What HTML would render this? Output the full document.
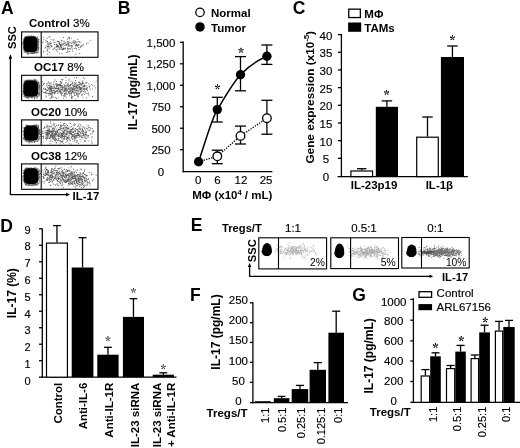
<!DOCTYPE html>
<html><head><meta charset="utf-8"><style>
html,body{margin:0;padding:0;background:#fff;width:520px;height:448px;overflow:hidden}
svg{display:block;filter:grayscale(1) blur(0.3px)}
text{font-family:"Liberation Sans", sans-serif}
</style></head><body>
<svg width="520" height="448" viewBox="0 0 520 448" font-family='"Liberation Sans", sans-serif'>
<defs><filter id="bl" x="-30%" y="-30%" width="160%" height="160%"><feGaussianBlur stdDeviation="0.7"/></filter><filter id="bd" x="-5%" y="-20%" width="110%" height="140%"><feGaussianBlur stdDeviation="0.3"/></filter></defs>
<rect width="520" height="448" fill="#fff"/>
<text x="1.0" y="13.9" font-size="17.5" font-weight="bold" text-anchor="start" fill="#000">A</text>
<text x="29.0" y="27.3" font-size="11.5"><tspan font-weight="bold">Control</tspan><tspan stroke="#000" stroke-width="0.15"> 3%</tspan></text>
<text x="34.0" y="71.0" font-size="11.5"><tspan font-weight="bold">OC17</tspan><tspan stroke="#000" stroke-width="0.15"> 8%</tspan></text>
<text x="31.0" y="116.4" font-size="11.5"><tspan font-weight="bold">OC20</tspan><tspan stroke="#000" stroke-width="0.15"> 10%</tspan></text>
<text x="31.0" y="160.1" font-size="11.5"><tspan font-weight="bold">OC38</tspan><tspan stroke="#000" stroke-width="0.15"> 12%</tspan></text>
<rect x="21.60" y="31.90" width="76.40" height="25.40" fill="#fff" stroke="#000" stroke-width="1.1"/>
<rect x="23.6" y="36.5" width="14.10" height="15.80" rx="4.41" fill="#000" filter="url(#bl)"/>
<path d="M24.6 37.7h0.9v0.9h-0.9zM31.9 36.0h0.9v0.9h-0.9zM28.2 52.8h0.9v0.9h-0.9zM38.4 44.7h0.9v0.9h-0.9zM32.9 36.2h0.9v0.9h-0.9zM28.2 52.4h0.9v0.9h-0.9zM30.4 52.8h0.9v0.9h-0.9zM23.3 44.2h0.9v0.9h-0.9zM37.9 44.2h0.9v0.9h-0.9zM24.0 37.3h0.9v0.9h-0.9zM32.2 52.3h0.9v0.9h-0.9zM24.2 38.3h0.9v0.9h-0.9zM37.7 46.2h0.9v0.9h-0.9zM23.4 46.2h0.9v0.9h-0.9zM24.9 37.6h0.9v0.9h-0.9zM23.4 44.6h0.9v0.9h-0.9zM33.5 52.7h0.9v0.9h-0.9zM33.0 52.7h0.9v0.9h-0.9zM38.2 44.6h0.9v0.9h-0.9zM35.2 51.9h0.9v0.9h-0.9zM36.7 38.0h0.9v0.9h-0.9zM35.3 37.0h0.9v0.9h-0.9zM30.2 35.6h0.9v0.9h-0.9zM23.6 42.3h0.9v0.9h-0.9zM37.3 36.6h0.9v0.9h-0.9zM23.4 38.7h0.9v0.9h-0.9zM24.1 50.7h0.9v0.9h-0.9zM35.7 52.2h0.9v0.9h-0.9zM24.3 51.1h0.9v0.9h-0.9zM23.5 39.4h0.9v0.9h-0.9zM25.1 37.1h0.9v0.9h-0.9zM35.9 52.5h0.9v0.9h-0.9zM31.1 52.3h0.9v0.9h-0.9zM37.9 50.0h0.9v0.9h-0.9zM32.3 52.7h0.9v0.9h-0.9zM28.0 53.5h0.9v0.9h-0.9zM26.5 36.8h0.9v0.9h-0.9zM35.4 36.5h0.9v0.9h-0.9zM37.5 39.1h0.9v0.9h-0.9zM36.3 52.5h0.9v0.9h-0.9zM37.7 40.6h0.9v0.9h-0.9zM33.9 52.2h0.9v0.9h-0.9zM25.0 36.6h0.9v0.9h-0.9zM24.5 51.1h0.9v0.9h-0.9zM31.1 52.6h0.9v0.9h-0.9zM36.9 37.5h0.9v0.9h-0.9zM23.1 41.8h0.9v0.9h-0.9zM30.7 36.2h0.9v0.9h-0.9zM24.7 51.3h0.9v0.9h-0.9zM37.6 52.0h0.9v0.9h-0.9zM25.9 36.4h0.9v0.9h-0.9zM22.3 43.0h0.9v0.9h-0.9zM25.9 52.2h0.9v0.9h-0.9zM27.5 36.4h0.9v0.9h-0.9zM23.5 43.4h0.9v0.9h-0.9zM37.7 39.4h0.9v0.9h-0.9zM37.6 40.9h0.9v0.9h-0.9zM30.8 35.9h0.9v0.9h-0.9zM36.4 51.9h0.9v0.9h-0.9zM33.7 36.6h0.9v0.9h-0.9zM24.6 37.4h0.9v0.9h-0.9zM22.5 43.7h0.9v0.9h-0.9zM31.7 52.4h0.9v0.9h-0.9zM24.9 51.9h0.9v0.9h-0.9zM25.8 52.3h0.9v0.9h-0.9zM23.3 40.3h0.9v0.9h-0.9zM29.6 53.2h0.9v0.9h-0.9zM22.9 47.6h0.9v0.9h-0.9zM23.5 43.6h0.9v0.9h-0.9zM37.7 38.4h0.9v0.9h-0.9zM23.5 40.0h0.9v0.9h-0.9zM37.0 37.6h0.9v0.9h-0.9zM38.2 39.9h0.9v0.9h-0.9zM23.7 48.1h0.9v0.9h-0.9zM37.6 41.9h0.9v0.9h-0.9zM33.3 36.4h0.9v0.9h-0.9zM29.2 36.6h0.9v0.9h-0.9zM26.7 52.2h0.9v0.9h-0.9zM32.9 52.7h0.9v0.9h-0.9zM32.4 52.6h0.9v0.9h-0.9zM35.0 36.7h0.9v0.9h-0.9zM22.8 45.5h0.9v0.9h-0.9zM26.1 36.5h0.9v0.9h-0.9zM38.1 42.4h0.9v0.9h-0.9zM24.9 37.7h0.9v0.9h-0.9zM33.8 52.4h0.9v0.9h-0.9zM23.8 49.1h0.9v0.9h-0.9zM34.0 35.9h0.9v0.9h-0.9zM37.2 50.7h0.9v0.9h-0.9zM33.0 36.6h0.9v0.9h-0.9zM23.4 43.2h0.9v0.9h-0.9zM37.8 46.8h0.9v0.9h-0.9zM37.6 45.4h0.9v0.9h-0.9zM30.7 52.6h0.9v0.9h-0.9zM23.4 40.8h0.9v0.9h-0.9zM23.4 39.2h0.9v0.9h-0.9zM27.3 36.6h0.9v0.9h-0.9zM27.7 52.7h0.9v0.9h-0.9zM23.1 42.3h0.9v0.9h-0.9zM25.7 36.0h0.9v0.9h-0.9zM33.5 52.7h0.9v0.9h-0.9zM38.1 46.5h0.9v0.9h-0.9zM38.5 42.2h0.9v0.9h-0.9zM38.6 47.3h0.9v0.9h-0.9zM27.2 52.8h0.9v0.9h-0.9zM24.4 37.3h0.9v0.9h-0.9zM27.2 53.5h0.9v0.9h-0.9zM32.8 36.6h0.9v0.9h-0.9zM31.4 36.6h0.9v0.9h-0.9zM33.3 53.2h0.9v0.9h-0.9zM24.9 36.8h0.9v0.9h-0.9zM37.6 49.7h0.9v0.9h-0.9zM24.9 37.3h0.9v0.9h-0.9zM33.2 36.2h0.9v0.9h-0.9zM29.3 36.0h0.9v0.9h-0.9zM37.5 38.3h0.9v0.9h-0.9zM37.8 45.8h0.9v0.9h-0.9zM32.4 53.1h0.9v0.9h-0.9zM37.7 41.6h0.9v0.9h-0.9zM30.5 53.1h0.9v0.9h-0.9zM26.0 36.5h0.9v0.9h-0.9zM24.5 50.8h0.9v0.9h-0.9zM26.1 36.1h0.9v0.9h-0.9zM23.6 52.1h0.9v0.9h-0.9zM22.5 42.1h0.9v0.9h-0.9zM30.8 52.6h0.9v0.9h-0.9zM22.9 46.8h0.9v0.9h-0.9zM30.8 35.8h0.9v0.9h-0.9zM28.2 52.9h0.9v0.9h-0.9zM31.2 36.6h0.9v0.9h-0.9zM36.2 51.3h0.9v0.9h-0.9zM37.8 48.9h0.9v0.9h-0.9zM29.7 52.9h0.9v0.9h-0.9zM34.8 36.4h0.9v0.9h-0.9zM33.8 53.0h0.9v0.9h-0.9zM36.8 38.2h0.9v0.9h-0.9zM28.6 35.5h0.9v0.9h-0.9zM29.6 36.3h0.9v0.9h-0.9zM34.3 36.5h0.9v0.9h-0.9zM24.8 51.3h0.9v0.9h-0.9zM23.6 43.5h0.9v0.9h-0.9zM33.4 52.3h0.9v0.9h-0.9zM23.0 42.4h0.9v0.9h-0.9zM37.2 38.9h0.9v0.9h-0.9zM33.8 52.5h0.9v0.9h-0.9zM24.8 36.1h0.9v0.9h-0.9zM38.2 44.2h0.9v0.9h-0.9zM35.3 36.5h0.9v0.9h-0.9zM24.1 50.1h0.9v0.9h-0.9zM33.7 52.3h0.9v0.9h-0.9zM31.0 35.6h0.9v0.9h-0.9zM23.7 47.2h0.9v0.9h-0.9zM23.5 48.8h0.9v0.9h-0.9zM35.3 36.6h0.9v0.9h-0.9zM24.2 50.6h0.9v0.9h-0.9zM29.4 36.6h0.9v0.9h-0.9zM34.6 36.5h0.9v0.9h-0.9zM24.3 50.5h0.9v0.9h-0.9zM31.2 35.6h0.9v0.9h-0.9zM35.9 52.2h0.9v0.9h-0.9zM34.4 36.2h0.9v0.9h-0.9zM37.3 51.6h0.9v0.9h-0.9zM37.8 43.8h0.9v0.9h-0.9zM23.7 40.4h0.9v0.9h-0.9zM30.7 36.0h0.9v0.9h-0.9zM38.6 39.1h0.9v0.9h-0.9zM31.5 36.5h0.9v0.9h-0.9zM23.5 45.7h0.9v0.9h-0.9zM27.4 52.8h0.9v0.9h-0.9zM29.2 36.0h0.9v0.9h-0.9zM38.5 47.7h0.9v0.9h-0.9zM37.3 38.2h0.9v0.9h-0.9zM30.8 52.3h0.9v0.9h-0.9zM31.8 53.1h0.9v0.9h-0.9zM22.8 44.2h0.9v0.9h-0.9zM34.4 52.7h0.9v0.9h-0.9zM23.4 45.2h0.9v0.9h-0.9zM26.8 36.6h0.9v0.9h-0.9zM23.5 43.0h0.9v0.9h-0.9zM23.6 43.6h0.9v0.9h-0.9zM23.6 42.6h0.9v0.9h-0.9zM32.8 35.4h0.9v0.9h-0.9zM33.9 52.1h0.9v0.9h-0.9zM37.1 50.6h0.9v0.9h-0.9zM38.4 41.1h0.9v0.9h-0.9zM38.0 42.8h0.9v0.9h-0.9zM22.7 44.0h0.9v0.9h-0.9zM37.8 39.7h0.9v0.9h-0.9zM27.1 53.6h0.9v0.9h-0.9zM38.0 48.0h0.9v0.9h-0.9zM23.6 46.1h0.9v0.9h-0.9zM31.2 35.9h0.9v0.9h-0.9zM31.2 35.9h0.9v0.9h-0.9zM35.8 36.4h0.9v0.9h-0.9zM30.0 36.3h0.9v0.9h-0.9zM34.6 52.1h0.9v0.9h-0.9zM34.7 52.2h0.9v0.9h-0.9zM23.2 38.6h0.9v0.9h-0.9zM37.7 41.1h0.9v0.9h-0.9zM23.1 43.6h0.9v0.9h-0.9zM38.1 42.6h0.9v0.9h-0.9zM33.2 36.4h0.9v0.9h-0.9zM33.2 36.0h0.9v0.9h-0.9zM25.1 36.5h0.9v0.9h-0.9zM23.3 48.1h0.9v0.9h-0.9zM27.6 35.4h0.9v0.9h-0.9zM26.4 52.3h0.9v0.9h-0.9zM32.5 52.4h0.9v0.9h-0.9zM31.6 35.9h0.9v0.9h-0.9zM29.7 36.5h0.9v0.9h-0.9zM38.0 42.2h0.9v0.9h-0.9zM23.0 49.9h0.9v0.9h-0.9zM23.1 43.2h0.9v0.9h-0.9zM38.0 49.3h0.9v0.9h-0.9zM23.1 41.2h0.9v0.9h-0.9zM37.9 46.5h0.9v0.9h-0.9zM24.8 37.3h0.9v0.9h-0.9zM37.7 48.4h0.9v0.9h-0.9zM32.0 53.0h0.9v0.9h-0.9zM37.1 37.5h0.9v0.9h-0.9z" fill="#000" fill-opacity="0.6"/>
<path d="M57.2 40.7h0.9v0.9h-0.9zM68.8 44.7h0.9v0.9h-0.9zM75.5 48.0h0.9v0.9h-0.9zM75.1 41.3h0.9v0.9h-0.9zM83.0 43.9h0.9v0.9h-0.9zM61.1 47.2h0.9v0.9h-0.9zM67.4 40.9h0.9v0.9h-0.9zM81.1 45.5h0.9v0.9h-0.9zM67.8 41.0h0.9v0.9h-0.9zM62.2 48.9h0.9v0.9h-0.9zM59.2 53.1h0.9v0.9h-0.9zM66.4 52.1h0.9v0.9h-0.9zM54.1 44.0h0.9v0.9h-0.9zM62.6 47.5h0.9v0.9h-0.9zM50.5 45.2h0.9v0.9h-0.9zM64.1 45.2h0.9v0.9h-0.9zM67.4 50.4h0.9v0.9h-0.9zM61.4 40.1h0.9v0.9h-0.9zM57.2 48.6h0.9v0.9h-0.9zM76.9 44.6h0.9v0.9h-0.9zM56.0 49.9h0.9v0.9h-0.9zM76.9 45.5h0.9v0.9h-0.9zM67.8 42.4h0.9v0.9h-0.9zM58.3 45.8h0.9v0.9h-0.9zM64.5 47.4h0.9v0.9h-0.9zM50.9 44.9h0.9v0.9h-0.9zM57.9 46.6h0.9v0.9h-0.9zM71.3 42.9h0.9v0.9h-0.9zM63.1 37.1h0.9v0.9h-0.9zM63.0 48.0h0.9v0.9h-0.9zM71.4 47.3h0.9v0.9h-0.9zM60.4 45.3h0.9v0.9h-0.9zM59.8 45.0h0.9v0.9h-0.9zM57.3 48.5h0.9v0.9h-0.9zM63.3 43.2h0.9v0.9h-0.9zM59.3 42.3h0.9v0.9h-0.9zM54.0 44.1h0.9v0.9h-0.9zM63.1 49.1h0.9v0.9h-0.9zM90.3 39.8h0.9v0.9h-0.9zM55.5 49.1h0.9v0.9h-0.9zM58.3 42.5h0.9v0.9h-0.9zM63.4 40.8h0.9v0.9h-0.9zM67.4 49.3h0.9v0.9h-0.9zM81.5 44.5h0.9v0.9h-0.9zM73.5 40.1h0.9v0.9h-0.9zM67.2 43.5h0.9v0.9h-0.9zM62.2 48.2h0.9v0.9h-0.9zM78.7 49.1h0.9v0.9h-0.9zM65.2 43.3h0.9v0.9h-0.9zM58.5 46.3h0.9v0.9h-0.9zM49.8 47.4h0.9v0.9h-0.9zM74.2 42.5h0.9v0.9h-0.9zM57.4 46.1h0.9v0.9h-0.9zM65.2 44.7h0.9v0.9h-0.9zM49.4 42.9h0.9v0.9h-0.9zM50.7 43.0h0.9v0.9h-0.9zM75.6 45.0h0.9v0.9h-0.9zM70.1 44.9h0.9v0.9h-0.9zM59.4 42.8h0.9v0.9h-0.9zM68.6 43.3h0.9v0.9h-0.9zM58.8 48.8h0.9v0.9h-0.9zM45.9 45.6h0.9v0.9h-0.9zM69.7 48.0h0.9v0.9h-0.9zM52.5 49.1h0.9v0.9h-0.9zM61.0 46.9h0.9v0.9h-0.9zM79.3 53.0h0.9v0.9h-0.9zM71.9 41.8h0.9v0.9h-0.9zM65.9 43.7h0.9v0.9h-0.9zM67.4 51.5h0.9v0.9h-0.9zM57.5 50.9h0.9v0.9h-0.9zM46.6 37.8h0.9v0.9h-0.9zM58.6 41.3h0.9v0.9h-0.9zM54.6 47.2h0.9v0.9h-0.9zM59.6 47.6h0.9v0.9h-0.9zM59.0 47.5h0.9v0.9h-0.9zM66.4 44.5h0.9v0.9h-0.9zM51.7 46.4h0.9v0.9h-0.9zM60.8 47.2h0.9v0.9h-0.9zM60.2 44.5h0.9v0.9h-0.9zM63.7 48.5h0.9v0.9h-0.9zM42.9 36.7h0.9v0.9h-0.9zM78.5 47.1h0.9v0.9h-0.9zM63.6 41.1h0.9v0.9h-0.9zM64.9 48.3h0.9v0.9h-0.9zM59.8 44.0h0.9v0.9h-0.9zM50.0 41.6h0.9v0.9h-0.9zM55.8 46.1h0.9v0.9h-0.9zM79.0 41.5h0.9v0.9h-0.9zM69.3 41.5h0.9v0.9h-0.9zM50.7 39.2h0.9v0.9h-0.9zM47.5 44.7h0.9v0.9h-0.9zM56.0 46.6h0.9v0.9h-0.9zM69.5 48.5h0.9v0.9h-0.9zM61.2 44.3h0.9v0.9h-0.9zM71.8 48.6h0.9v0.9h-0.9zM65.8 44.9h0.9v0.9h-0.9zM77.8 44.5h0.9v0.9h-0.9zM71.3 46.9h0.9v0.9h-0.9zM69.8 48.6h0.9v0.9h-0.9zM59.0 43.6h0.9v0.9h-0.9zM56.8 43.9h0.9v0.9h-0.9zM54.2 44.2h0.9v0.9h-0.9zM60.6 45.1h0.9v0.9h-0.9zM53.7 41.6h0.9v0.9h-0.9zM61.2 48.5h0.9v0.9h-0.9zM67.6 43.4h0.9v0.9h-0.9zM56.7 46.5h0.9v0.9h-0.9zM45.6 41.8h0.9v0.9h-0.9zM50.7 46.1h0.9v0.9h-0.9zM51.6 46.2h0.9v0.9h-0.9zM86.1 43.3h0.9v0.9h-0.9zM47.3 46.1h0.9v0.9h-0.9zM47.3 51.2h0.9v0.9h-0.9zM64.4 48.3h0.9v0.9h-0.9zM47.6 42.4h0.9v0.9h-0.9zM67.5 43.4h0.9v0.9h-0.9zM57.5 45.0h0.9v0.9h-0.9zM71.1 45.0h0.9v0.9h-0.9zM47.3 43.8h0.9v0.9h-0.9zM68.9 38.3h0.9v0.9h-0.9zM54.0 44.0h0.9v0.9h-0.9zM48.6 36.8h0.9v0.9h-0.9zM71.6 46.1h0.9v0.9h-0.9zM42.3 42.2h0.9v0.9h-0.9zM74.0 42.2h0.9v0.9h-0.9zM78.0 44.0h0.9v0.9h-0.9zM69.6 45.8h0.9v0.9h-0.9zM53.7 39.6h0.9v0.9h-0.9zM66.9 38.5h0.9v0.9h-0.9zM57.9 41.0h0.9v0.9h-0.9zM68.0 37.4h0.9v0.9h-0.9zM47.1 41.3h0.9v0.9h-0.9zM72.2 50.5h0.9v0.9h-0.9zM78.1 41.0h0.9v0.9h-0.9zM44.9 47.1h0.9v0.9h-0.9zM45.5 39.9h0.9v0.9h-0.9zM48.7 45.9h0.9v0.9h-0.9zM73.4 43.6h0.9v0.9h-0.9zM78.7 44.6h0.9v0.9h-0.9zM80.2 46.8h0.9v0.9h-0.9zM69.2 51.1h0.9v0.9h-0.9zM68.2 45.5h0.9v0.9h-0.9zM74.6 45.2h0.9v0.9h-0.9zM66.7 41.3h0.9v0.9h-0.9zM80.2 46.9h0.9v0.9h-0.9zM67.9 43.9h0.9v0.9h-0.9zM48.8 47.8h0.9v0.9h-0.9zM61.6 44.6h0.9v0.9h-0.9zM43.4 51.1h0.9v0.9h-0.9zM71.1 37.7h0.9v0.9h-0.9zM62.2 43.7h0.9v0.9h-0.9zM67.3 48.0h0.9v0.9h-0.9zM75.2 43.5h0.9v0.9h-0.9zM65.1 41.9h0.9v0.9h-0.9zM47.6 43.8h0.9v0.9h-0.9zM45.4 39.8h0.9v0.9h-0.9zM48.3 45.2h0.9v0.9h-0.9zM47.0 53.6h0.9v0.9h-0.9zM55.4 48.9h0.9v0.9h-0.9zM56.9 40.8h0.9v0.9h-0.9zM80.2 41.7h0.9v0.9h-0.9zM50.4 43.3h0.9v0.9h-0.9zM76.2 48.4h0.9v0.9h-0.9zM73.4 41.8h0.9v0.9h-0.9zM87.6 42.3h0.9v0.9h-0.9zM53.5 48.0h0.9v0.9h-0.9zM68.1 43.5h0.9v0.9h-0.9zM56.8 40.8h0.9v0.9h-0.9zM43.4 39.2h0.9v0.9h-0.9zM70.4 42.3h0.9v0.9h-0.9zM68.6 36.8h0.9v0.9h-0.9zM46.8 47.5h0.9v0.9h-0.9zM48.8 42.5h0.9v0.9h-0.9zM75.4 46.5h0.9v0.9h-0.9zM43.2 51.5h0.9v0.9h-0.9zM62.1 49.0h0.9v0.9h-0.9zM46.6 40.7h0.9v0.9h-0.9zM74.1 47.9h0.9v0.9h-0.9zM47.3 49.0h0.9v0.9h-0.9zM53.7 42.1h0.9v0.9h-0.9zM42.9 41.4h0.9v0.9h-0.9zM67.8 44.4h0.9v0.9h-0.9zM77.3 39.0h0.9v0.9h-0.9zM46.6 50.1h0.9v0.9h-0.9zM49.4 36.1h0.9v0.9h-0.9zM74.7 40.8h0.9v0.9h-0.9zM63.0 43.8h0.9v0.9h-0.9zM49.4 44.0h0.9v0.9h-0.9zM62.6 45.4h0.9v0.9h-0.9zM67.6 45.8h0.9v0.9h-0.9zM76.1 44.0h0.9v0.9h-0.9zM60.3 48.9h0.9v0.9h-0.9zM68.9 37.1h0.9v0.9h-0.9zM71.6 44.8h0.9v0.9h-0.9zM67.6 42.2h0.9v0.9h-0.9zM56.8 45.3h0.9v0.9h-0.9zM82.5 45.6h0.9v0.9h-0.9zM73.0 41.5h0.9v0.9h-0.9zM55.4 42.5h0.9v0.9h-0.9zM44.5 47.7h0.9v0.9h-0.9zM80.3 46.1h0.9v0.9h-0.9zM75.7 42.4h0.9v0.9h-0.9zM48.9 52.1h0.9v0.9h-0.9zM61.6 53.1h0.9v0.9h-0.9zM52.6 39.5h0.9v0.9h-0.9zM61.0 45.9h0.9v0.9h-0.9zM75.5 53.8h0.9v0.9h-0.9zM66.7 47.6h0.9v0.9h-0.9zM56.0 45.6h0.9v0.9h-0.9zM59.1 44.1h0.9v0.9h-0.9zM56.2 44.0h0.9v0.9h-0.9zM64.2 42.8h0.9v0.9h-0.9zM54.1 47.5h0.9v0.9h-0.9zM47.5 43.4h0.9v0.9h-0.9zM61.5 43.2h0.9v0.9h-0.9zM60.7 40.5h0.9v0.9h-0.9zM66.0 44.6h0.9v0.9h-0.9zM76.7 41.6h0.9v0.9h-0.9zM56.1 44.1h0.9v0.9h-0.9zM68.3 48.6h0.9v0.9h-0.9zM60.1 46.1h0.9v0.9h-0.9zM48.2 46.6h0.9v0.9h-0.9zM47.1 46.1h0.9v0.9h-0.9zM76.5 45.0h0.9v0.9h-0.9zM60.4 44.3h0.9v0.9h-0.9z" fill="#000" fill-opacity="0.66" filter="url(#bd)"/>
<line x1="41.2" y1="31.9" x2="41.2" y2="57.3" stroke="#000" stroke-width="1.1"/>
<rect x="21.60" y="75.30" width="76.40" height="25.30" fill="#fff" stroke="#000" stroke-width="1.1"/>
<rect x="23.5" y="80.39999999999999" width="14.80" height="16.40" rx="4.62" fill="#000" filter="url(#bl)"/>
<path d="M25.9 80.4h0.9v0.9h-0.9zM38.8 93.9h0.9v0.9h-0.9zM37.6 81.6h0.9v0.9h-0.9zM38.6 91.6h0.9v0.9h-0.9zM24.0 95.3h0.9v0.9h-0.9zM23.4 83.5h0.9v0.9h-0.9zM26.3 96.9h0.9v0.9h-0.9zM24.3 82.3h0.9v0.9h-0.9zM28.7 80.1h0.9v0.9h-0.9zM34.2 80.1h0.9v0.9h-0.9zM38.4 86.7h0.9v0.9h-0.9zM37.2 95.8h0.9v0.9h-0.9zM28.2 98.3h0.9v0.9h-0.9zM24.2 82.5h0.9v0.9h-0.9zM38.4 93.6h0.9v0.9h-0.9zM38.8 92.4h0.9v0.9h-0.9zM37.6 81.4h0.9v0.9h-0.9zM37.0 95.6h0.9v0.9h-0.9zM23.1 89.7h0.9v0.9h-0.9zM23.8 93.7h0.9v0.9h-0.9zM38.6 83.6h0.9v0.9h-0.9zM35.6 96.9h0.9v0.9h-0.9zM23.0 89.0h0.9v0.9h-0.9zM38.0 93.4h0.9v0.9h-0.9zM38.2 83.8h0.9v0.9h-0.9zM30.3 97.0h0.9v0.9h-0.9zM27.4 96.7h0.9v0.9h-0.9zM38.7 93.7h0.9v0.9h-0.9zM39.3 94.0h0.9v0.9h-0.9zM28.8 96.8h0.9v0.9h-0.9zM38.1 82.3h0.9v0.9h-0.9zM30.6 96.7h0.9v0.9h-0.9zM23.3 95.8h0.9v0.9h-0.9zM31.6 79.9h0.9v0.9h-0.9zM28.6 80.4h0.9v0.9h-0.9zM38.8 86.8h0.9v0.9h-0.9zM37.0 80.8h0.9v0.9h-0.9zM25.0 96.7h0.9v0.9h-0.9zM29.8 80.4h0.9v0.9h-0.9zM24.0 95.4h0.9v0.9h-0.9zM23.5 85.4h0.9v0.9h-0.9zM38.4 85.8h0.9v0.9h-0.9zM38.6 88.6h0.9v0.9h-0.9zM24.8 96.4h0.9v0.9h-0.9zM37.4 96.0h0.9v0.9h-0.9zM34.0 96.7h0.9v0.9h-0.9zM38.0 82.1h0.9v0.9h-0.9zM27.0 80.5h0.9v0.9h-0.9zM39.0 94.4h0.9v0.9h-0.9zM22.7 88.4h0.9v0.9h-0.9zM25.7 79.9h0.9v0.9h-0.9zM39.0 91.3h0.9v0.9h-0.9zM38.6 82.2h0.9v0.9h-0.9zM22.8 86.7h0.9v0.9h-0.9zM38.6 85.2h0.9v0.9h-0.9zM23.7 93.7h0.9v0.9h-0.9zM29.3 79.7h0.9v0.9h-0.9zM30.2 79.7h0.9v0.9h-0.9zM38.5 92.9h0.9v0.9h-0.9zM38.3 87.2h0.9v0.9h-0.9zM32.1 80.3h0.9v0.9h-0.9zM23.4 90.7h0.9v0.9h-0.9zM23.6 81.5h0.9v0.9h-0.9zM27.8 80.4h0.9v0.9h-0.9zM29.1 79.8h0.9v0.9h-0.9zM22.3 94.3h0.9v0.9h-0.9zM23.3 88.9h0.9v0.9h-0.9zM31.3 96.8h0.9v0.9h-0.9zM23.3 91.9h0.9v0.9h-0.9zM35.9 79.4h0.9v0.9h-0.9zM25.7 97.1h0.9v0.9h-0.9zM38.1 83.0h0.9v0.9h-0.9zM23.1 85.5h0.9v0.9h-0.9zM25.5 80.4h0.9v0.9h-0.9zM36.8 96.4h0.9v0.9h-0.9zM26.6 80.5h0.9v0.9h-0.9zM23.8 79.7h0.9v0.9h-0.9zM26.7 97.5h0.9v0.9h-0.9zM30.2 96.8h0.9v0.9h-0.9zM27.3 80.0h0.9v0.9h-0.9zM38.4 91.9h0.9v0.9h-0.9zM33.9 80.2h0.9v0.9h-0.9zM27.3 97.0h0.9v0.9h-0.9zM38.3 93.3h0.9v0.9h-0.9zM22.8 84.0h0.9v0.9h-0.9zM22.7 91.7h0.9v0.9h-0.9zM29.6 79.5h0.9v0.9h-0.9zM30.7 79.9h0.9v0.9h-0.9zM38.3 93.6h0.9v0.9h-0.9zM24.1 81.3h0.9v0.9h-0.9zM37.6 82.3h0.9v0.9h-0.9zM31.9 80.4h0.9v0.9h-0.9zM28.4 80.5h0.9v0.9h-0.9zM26.9 97.7h0.9v0.9h-0.9zM23.0 86.9h0.9v0.9h-0.9zM24.9 80.8h0.9v0.9h-0.9zM24.0 95.4h0.9v0.9h-0.9zM25.7 97.0h0.9v0.9h-0.9zM23.2 90.8h0.9v0.9h-0.9zM39.8 89.7h0.9v0.9h-0.9zM32.3 96.8h0.9v0.9h-0.9zM38.3 92.7h0.9v0.9h-0.9zM38.4 82.0h0.9v0.9h-0.9zM38.7 95.3h0.9v0.9h-0.9zM37.1 95.6h0.9v0.9h-0.9zM37.6 95.8h0.9v0.9h-0.9zM23.1 88.9h0.9v0.9h-0.9zM27.4 97.0h0.9v0.9h-0.9zM29.0 79.6h0.9v0.9h-0.9zM25.2 96.0h0.9v0.9h-0.9zM36.8 96.5h0.9v0.9h-0.9zM23.4 92.3h0.9v0.9h-0.9zM34.8 79.8h0.9v0.9h-0.9zM37.0 96.2h0.9v0.9h-0.9zM34.6 79.8h0.9v0.9h-0.9zM23.3 81.5h0.9v0.9h-0.9zM39.2 87.7h0.9v0.9h-0.9zM25.5 80.9h0.9v0.9h-0.9zM24.2 96.5h0.9v0.9h-0.9zM38.7 84.3h0.9v0.9h-0.9zM23.9 94.5h0.9v0.9h-0.9zM28.3 80.3h0.9v0.9h-0.9zM33.4 79.6h0.9v0.9h-0.9zM26.3 80.6h0.9v0.9h-0.9zM23.0 90.6h0.9v0.9h-0.9zM23.6 94.2h0.9v0.9h-0.9zM34.0 97.0h0.9v0.9h-0.9zM22.5 90.8h0.9v0.9h-0.9zM33.4 80.3h0.9v0.9h-0.9zM39.5 85.2h0.9v0.9h-0.9zM25.4 80.6h0.9v0.9h-0.9zM35.1 79.2h0.9v0.9h-0.9zM30.7 79.8h0.9v0.9h-0.9zM35.2 79.9h0.9v0.9h-0.9zM27.0 80.6h0.9v0.9h-0.9zM26.3 96.8h0.9v0.9h-0.9zM36.6 97.9h0.9v0.9h-0.9zM24.7 96.1h0.9v0.9h-0.9zM36.4 80.5h0.9v0.9h-0.9zM27.1 79.6h0.9v0.9h-0.9zM32.4 96.7h0.9v0.9h-0.9zM38.0 93.8h0.9v0.9h-0.9zM39.2 85.6h0.9v0.9h-0.9zM31.3 79.9h0.9v0.9h-0.9zM23.5 88.1h0.9v0.9h-0.9zM22.8 92.1h0.9v0.9h-0.9zM22.8 88.3h0.9v0.9h-0.9zM28.1 96.9h0.9v0.9h-0.9zM39.0 87.9h0.9v0.9h-0.9zM32.0 97.6h0.9v0.9h-0.9zM37.2 96.9h0.9v0.9h-0.9zM36.2 80.9h0.9v0.9h-0.9zM23.0 92.9h0.9v0.9h-0.9zM38.5 95.2h0.9v0.9h-0.9zM25.7 96.5h0.9v0.9h-0.9zM38.5 84.2h0.9v0.9h-0.9zM36.4 96.6h0.9v0.9h-0.9zM35.5 96.6h0.9v0.9h-0.9zM38.5 85.5h0.9v0.9h-0.9zM34.2 97.8h0.9v0.9h-0.9zM25.4 80.0h0.9v0.9h-0.9zM38.8 89.2h0.9v0.9h-0.9zM30.6 97.0h0.9v0.9h-0.9zM23.1 89.2h0.9v0.9h-0.9zM23.1 91.0h0.9v0.9h-0.9zM38.7 88.1h0.9v0.9h-0.9zM39.0 92.8h0.9v0.9h-0.9zM31.7 97.7h0.9v0.9h-0.9zM34.1 98.5h0.9v0.9h-0.9zM39.2 86.2h0.9v0.9h-0.9zM36.1 81.0h0.9v0.9h-0.9zM27.7 96.7h0.9v0.9h-0.9zM23.2 91.9h0.9v0.9h-0.9zM23.6 92.9h0.9v0.9h-0.9zM38.1 92.7h0.9v0.9h-0.9zM23.1 89.7h0.9v0.9h-0.9zM24.9 79.9h0.9v0.9h-0.9zM38.4 95.1h0.9v0.9h-0.9zM27.9 97.0h0.9v0.9h-0.9zM31.2 79.8h0.9v0.9h-0.9zM27.5 80.3h0.9v0.9h-0.9zM28.5 97.2h0.9v0.9h-0.9zM38.4 84.3h0.9v0.9h-0.9zM25.8 96.4h0.9v0.9h-0.9zM24.6 80.9h0.9v0.9h-0.9zM26.1 96.9h0.9v0.9h-0.9zM38.3 88.7h0.9v0.9h-0.9zM36.3 80.5h0.9v0.9h-0.9zM24.9 96.0h0.9v0.9h-0.9zM26.2 80.3h0.9v0.9h-0.9zM23.9 94.1h0.9v0.9h-0.9zM27.5 79.5h0.9v0.9h-0.9zM34.3 97.8h0.9v0.9h-0.9zM22.7 90.5h0.9v0.9h-0.9zM23.1 86.7h0.9v0.9h-0.9zM31.6 97.5h0.9v0.9h-0.9zM34.1 97.8h0.9v0.9h-0.9zM23.3 93.5h0.9v0.9h-0.9zM25.0 96.3h0.9v0.9h-0.9zM38.8 89.8h0.9v0.9h-0.9zM33.8 80.1h0.9v0.9h-0.9zM23.5 91.9h0.9v0.9h-0.9zM22.7 86.1h0.9v0.9h-0.9zM36.9 80.5h0.9v0.9h-0.9zM27.3 96.8h0.9v0.9h-0.9zM37.8 82.1h0.9v0.9h-0.9zM25.6 79.8h0.9v0.9h-0.9zM33.8 78.5h0.9v0.9h-0.9zM23.0 89.2h0.9v0.9h-0.9zM23.5 90.6h0.9v0.9h-0.9zM22.8 89.7h0.9v0.9h-0.9zM31.8 79.5h0.9v0.9h-0.9zM36.5 96.2h0.9v0.9h-0.9zM24.2 95.2h0.9v0.9h-0.9zM38.8 86.2h0.9v0.9h-0.9zM39.0 86.7h0.9v0.9h-0.9zM27.3 80.6h0.9v0.9h-0.9zM24.8 95.5h0.9v0.9h-0.9zM35.2 80.4h0.9v0.9h-0.9zM38.8 93.3h0.9v0.9h-0.9z" fill="#000" fill-opacity="0.6"/>
<path d="M55.6 83.3h0.9v0.9h-0.9zM74.9 86.4h0.9v0.9h-0.9zM50.0 87.5h0.9v0.9h-0.9zM47.4 90.1h0.9v0.9h-0.9zM84.9 90.9h0.9v0.9h-0.9zM83.8 89.5h0.9v0.9h-0.9zM73.8 89.5h0.9v0.9h-0.9zM70.4 84.1h0.9v0.9h-0.9zM61.2 79.0h0.9v0.9h-0.9zM84.1 86.2h0.9v0.9h-0.9zM81.0 84.3h0.9v0.9h-0.9zM68.9 85.6h0.9v0.9h-0.9zM59.9 87.3h0.9v0.9h-0.9zM43.8 83.0h0.9v0.9h-0.9zM66.7 83.6h0.9v0.9h-0.9zM56.9 88.1h0.9v0.9h-0.9zM45.2 89.0h0.9v0.9h-0.9zM56.6 85.6h0.9v0.9h-0.9zM54.0 90.7h0.9v0.9h-0.9zM54.4 87.5h0.9v0.9h-0.9zM57.1 84.0h0.9v0.9h-0.9zM60.8 88.7h0.9v0.9h-0.9zM52.8 96.8h0.9v0.9h-0.9zM77.8 85.5h0.9v0.9h-0.9zM66.7 93.6h0.9v0.9h-0.9zM51.3 94.6h0.9v0.9h-0.9zM74.6 95.1h0.9v0.9h-0.9zM62.1 84.9h0.9v0.9h-0.9zM58.1 97.4h0.9v0.9h-0.9zM72.0 89.0h0.9v0.9h-0.9zM76.4 87.4h0.9v0.9h-0.9zM79.6 87.5h0.9v0.9h-0.9zM71.8 91.1h0.9v0.9h-0.9zM71.4 88.7h0.9v0.9h-0.9zM70.5 87.7h0.9v0.9h-0.9zM51.6 94.1h0.9v0.9h-0.9zM83.4 85.3h0.9v0.9h-0.9zM58.1 83.9h0.9v0.9h-0.9zM53.5 92.0h0.9v0.9h-0.9zM54.0 93.3h0.9v0.9h-0.9zM75.9 93.3h0.9v0.9h-0.9zM72.3 90.6h0.9v0.9h-0.9zM77.7 96.3h0.9v0.9h-0.9zM46.4 83.0h0.9v0.9h-0.9zM72.0 89.5h0.9v0.9h-0.9zM87.1 87.3h0.9v0.9h-0.9zM42.1 81.5h0.9v0.9h-0.9zM50.6 85.4h0.9v0.9h-0.9zM51.5 93.5h0.9v0.9h-0.9zM68.2 86.4h0.9v0.9h-0.9zM46.3 85.3h0.9v0.9h-0.9zM61.5 92.3h0.9v0.9h-0.9zM51.9 92.9h0.9v0.9h-0.9zM65.1 92.8h0.9v0.9h-0.9zM69.2 85.0h0.9v0.9h-0.9zM86.4 88.2h0.9v0.9h-0.9zM49.6 93.0h0.9v0.9h-0.9zM79.2 85.6h0.9v0.9h-0.9zM76.8 85.2h0.9v0.9h-0.9zM69.5 92.1h0.9v0.9h-0.9zM45.6 95.4h0.9v0.9h-0.9zM83.5 83.4h0.9v0.9h-0.9zM65.4 77.1h0.9v0.9h-0.9zM65.4 82.1h0.9v0.9h-0.9zM53.1 84.0h0.9v0.9h-0.9zM68.2 87.9h0.9v0.9h-0.9zM67.9 91.2h0.9v0.9h-0.9zM51.8 87.9h0.9v0.9h-0.9zM56.1 85.4h0.9v0.9h-0.9zM64.0 89.2h0.9v0.9h-0.9zM78.3 84.3h0.9v0.9h-0.9zM64.9 88.3h0.9v0.9h-0.9zM49.1 85.7h0.9v0.9h-0.9zM60.1 92.1h0.9v0.9h-0.9zM55.9 84.8h0.9v0.9h-0.9zM90.9 84.1h0.9v0.9h-0.9zM61.7 86.6h0.9v0.9h-0.9zM60.1 81.3h0.9v0.9h-0.9zM58.8 85.3h0.9v0.9h-0.9zM42.2 85.3h0.9v0.9h-0.9zM79.8 92.4h0.9v0.9h-0.9zM89.1 86.6h0.9v0.9h-0.9zM48.0 85.0h0.9v0.9h-0.9zM61.3 82.6h0.9v0.9h-0.9zM50.5 83.3h0.9v0.9h-0.9zM50.4 88.2h0.9v0.9h-0.9zM72.9 87.6h0.9v0.9h-0.9zM74.1 93.5h0.9v0.9h-0.9zM73.1 85.7h0.9v0.9h-0.9zM82.5 93.2h0.9v0.9h-0.9zM48.6 88.5h0.9v0.9h-0.9zM62.1 79.7h0.9v0.9h-0.9zM80.2 82.8h0.9v0.9h-0.9zM71.1 91.8h0.9v0.9h-0.9zM65.0 94.7h0.9v0.9h-0.9zM76.6 89.4h0.9v0.9h-0.9zM42.9 91.9h0.9v0.9h-0.9zM60.9 86.7h0.9v0.9h-0.9zM51.9 86.9h0.9v0.9h-0.9zM94.0 85.6h0.9v0.9h-0.9zM60.9 92.8h0.9v0.9h-0.9zM46.4 90.0h0.9v0.9h-0.9zM65.1 87.5h0.9v0.9h-0.9zM75.7 87.1h0.9v0.9h-0.9zM58.4 90.9h0.9v0.9h-0.9zM74.8 89.9h0.9v0.9h-0.9zM58.4 84.8h0.9v0.9h-0.9zM72.4 96.1h0.9v0.9h-0.9zM47.1 89.6h0.9v0.9h-0.9zM82.4 88.5h0.9v0.9h-0.9zM51.6 95.0h0.9v0.9h-0.9zM70.5 93.0h0.9v0.9h-0.9zM72.1 88.1h0.9v0.9h-0.9zM50.3 90.9h0.9v0.9h-0.9zM55.3 83.8h0.9v0.9h-0.9zM79.0 85.7h0.9v0.9h-0.9zM68.7 78.6h0.9v0.9h-0.9zM70.5 93.9h0.9v0.9h-0.9zM75.0 80.1h0.9v0.9h-0.9zM63.5 91.5h0.9v0.9h-0.9zM66.8 84.8h0.9v0.9h-0.9zM59.5 84.2h0.9v0.9h-0.9zM58.6 87.6h0.9v0.9h-0.9zM61.9 89.7h0.9v0.9h-0.9zM49.3 91.2h0.9v0.9h-0.9zM51.4 96.3h0.9v0.9h-0.9zM57.3 90.1h0.9v0.9h-0.9zM53.4 92.4h0.9v0.9h-0.9zM82.8 85.9h0.9v0.9h-0.9zM48.9 91.6h0.9v0.9h-0.9zM51.3 89.2h0.9v0.9h-0.9zM67.3 86.5h0.9v0.9h-0.9zM56.6 88.1h0.9v0.9h-0.9zM51.0 88.2h0.9v0.9h-0.9zM58.0 89.3h0.9v0.9h-0.9zM69.3 90.3h0.9v0.9h-0.9zM76.2 86.3h0.9v0.9h-0.9zM92.2 85.2h0.9v0.9h-0.9zM72.2 91.8h0.9v0.9h-0.9zM60.5 81.0h0.9v0.9h-0.9zM61.3 85.8h0.9v0.9h-0.9zM62.7 95.3h0.9v0.9h-0.9zM82.4 85.5h0.9v0.9h-0.9zM50.9 91.5h0.9v0.9h-0.9zM53.7 81.2h0.9v0.9h-0.9zM76.0 77.1h0.9v0.9h-0.9zM61.0 94.8h0.9v0.9h-0.9zM81.4 95.4h0.9v0.9h-0.9zM65.8 92.5h0.9v0.9h-0.9zM66.0 87.5h0.9v0.9h-0.9zM53.5 90.1h0.9v0.9h-0.9zM81.2 84.6h0.9v0.9h-0.9zM44.4 92.1h0.9v0.9h-0.9zM59.1 83.6h0.9v0.9h-0.9zM78.3 87.3h0.9v0.9h-0.9zM85.6 92.9h0.9v0.9h-0.9zM83.7 83.6h0.9v0.9h-0.9zM79.8 86.9h0.9v0.9h-0.9zM51.2 89.2h0.9v0.9h-0.9zM63.9 93.6h0.9v0.9h-0.9zM86.5 81.8h0.9v0.9h-0.9zM50.0 88.3h0.9v0.9h-0.9zM59.4 85.1h0.9v0.9h-0.9zM50.8 85.6h0.9v0.9h-0.9zM43.7 88.8h0.9v0.9h-0.9zM64.8 85.4h0.9v0.9h-0.9zM44.5 92.7h0.9v0.9h-0.9zM79.8 85.4h0.9v0.9h-0.9zM68.9 92.8h0.9v0.9h-0.9zM65.9 88.3h0.9v0.9h-0.9zM80.1 92.3h0.9v0.9h-0.9zM83.0 86.1h0.9v0.9h-0.9zM56.8 86.3h0.9v0.9h-0.9zM80.8 83.4h0.9v0.9h-0.9zM83.1 91.0h0.9v0.9h-0.9zM73.0 92.6h0.9v0.9h-0.9zM63.3 97.8h0.9v0.9h-0.9zM83.9 94.2h0.9v0.9h-0.9zM81.2 89.6h0.9v0.9h-0.9zM55.0 87.6h0.9v0.9h-0.9zM56.0 90.2h0.9v0.9h-0.9zM79.9 88.4h0.9v0.9h-0.9zM71.1 94.9h0.9v0.9h-0.9zM61.3 92.7h0.9v0.9h-0.9zM73.8 84.8h0.9v0.9h-0.9zM59.9 85.5h0.9v0.9h-0.9zM81.5 94.5h0.9v0.9h-0.9zM70.5 89.9h0.9v0.9h-0.9zM54.4 87.5h0.9v0.9h-0.9zM48.6 93.7h0.9v0.9h-0.9zM57.9 86.8h0.9v0.9h-0.9zM79.5 87.3h0.9v0.9h-0.9zM46.7 86.5h0.9v0.9h-0.9zM65.7 79.9h0.9v0.9h-0.9zM87.8 92.3h0.9v0.9h-0.9zM43.1 83.2h0.9v0.9h-0.9zM50.8 86.0h0.9v0.9h-0.9zM72.1 85.2h0.9v0.9h-0.9zM46.5 91.7h0.9v0.9h-0.9zM76.6 88.2h0.9v0.9h-0.9zM84.4 88.6h0.9v0.9h-0.9zM55.9 81.1h0.9v0.9h-0.9zM83.6 88.1h0.9v0.9h-0.9zM72.3 82.0h0.9v0.9h-0.9zM70.9 89.9h0.9v0.9h-0.9zM52.8 90.1h0.9v0.9h-0.9zM43.3 88.4h0.9v0.9h-0.9zM51.4 97.5h0.9v0.9h-0.9zM55.7 90.8h0.9v0.9h-0.9zM56.4 91.1h0.9v0.9h-0.9zM85.9 89.1h0.9v0.9h-0.9zM85.1 87.7h0.9v0.9h-0.9zM60.5 92.8h0.9v0.9h-0.9zM77.1 93.3h0.9v0.9h-0.9zM72.3 82.8h0.9v0.9h-0.9zM50.7 93.1h0.9v0.9h-0.9zM56.7 90.8h0.9v0.9h-0.9zM78.6 92.7h0.9v0.9h-0.9zM66.8 90.6h0.9v0.9h-0.9zM75.4 83.0h0.9v0.9h-0.9zM88.4 83.3h0.9v0.9h-0.9zM50.8 96.5h0.9v0.9h-0.9zM79.6 89.6h0.9v0.9h-0.9zM47.7 82.3h0.9v0.9h-0.9zM75.9 90.0h0.9v0.9h-0.9zM77.7 86.9h0.9v0.9h-0.9zM82.6 80.4h0.9v0.9h-0.9zM84.0 78.4h0.9v0.9h-0.9zM78.8 81.4h0.9v0.9h-0.9zM87.2 89.7h0.9v0.9h-0.9zM54.5 88.3h0.9v0.9h-0.9zM65.9 87.4h0.9v0.9h-0.9zM51.0 89.8h0.9v0.9h-0.9zM51.7 91.1h0.9v0.9h-0.9zM61.5 79.2h0.9v0.9h-0.9zM76.4 87.2h0.9v0.9h-0.9zM75.5 84.9h0.9v0.9h-0.9zM89.0 86.1h0.9v0.9h-0.9zM49.3 88.0h0.9v0.9h-0.9zM60.0 87.3h0.9v0.9h-0.9zM81.9 82.1h0.9v0.9h-0.9zM74.2 86.4h0.9v0.9h-0.9zM70.9 97.4h0.9v0.9h-0.9zM55.7 83.9h0.9v0.9h-0.9zM59.8 81.1h0.9v0.9h-0.9zM74.0 89.7h0.9v0.9h-0.9zM63.1 91.1h0.9v0.9h-0.9zM77.4 90.5h0.9v0.9h-0.9zM79.6 83.6h0.9v0.9h-0.9zM62.0 92.9h0.9v0.9h-0.9zM84.1 85.0h0.9v0.9h-0.9zM56.8 83.5h0.9v0.9h-0.9zM76.1 85.8h0.9v0.9h-0.9zM74.4 88.0h0.9v0.9h-0.9zM58.5 91.6h0.9v0.9h-0.9zM64.6 91.2h0.9v0.9h-0.9zM64.6 88.4h0.9v0.9h-0.9zM67.9 92.6h0.9v0.9h-0.9zM50.5 88.9h0.9v0.9h-0.9zM85.3 92.4h0.9v0.9h-0.9zM81.7 82.3h0.9v0.9h-0.9zM48.3 81.6h0.9v0.9h-0.9zM65.3 82.4h0.9v0.9h-0.9zM51.1 87.2h0.9v0.9h-0.9zM81.2 88.1h0.9v0.9h-0.9zM49.8 86.4h0.9v0.9h-0.9zM75.3 86.5h0.9v0.9h-0.9zM76.0 94.6h0.9v0.9h-0.9zM74.1 77.4h0.9v0.9h-0.9zM44.9 92.4h0.9v0.9h-0.9zM75.5 98.6h0.9v0.9h-0.9zM72.8 88.6h0.9v0.9h-0.9zM84.0 88.4h0.9v0.9h-0.9zM52.8 91.7h0.9v0.9h-0.9zM77.5 96.5h0.9v0.9h-0.9zM74.8 83.3h0.9v0.9h-0.9zM58.1 88.9h0.9v0.9h-0.9zM65.5 87.7h0.9v0.9h-0.9zM68.2 91.0h0.9v0.9h-0.9zM47.8 89.2h0.9v0.9h-0.9zM55.3 91.4h0.9v0.9h-0.9zM64.2 86.6h0.9v0.9h-0.9zM53.8 88.7h0.9v0.9h-0.9zM85.2 85.6h0.9v0.9h-0.9zM67.8 85.6h0.9v0.9h-0.9zM67.8 87.9h0.9v0.9h-0.9zM57.5 87.9h0.9v0.9h-0.9zM60.4 83.3h0.9v0.9h-0.9zM77.9 95.4h0.9v0.9h-0.9zM65.2 87.9h0.9v0.9h-0.9zM65.7 82.4h0.9v0.9h-0.9zM51.7 93.3h0.9v0.9h-0.9zM64.6 85.2h0.9v0.9h-0.9zM72.5 90.7h0.9v0.9h-0.9zM55.8 88.4h0.9v0.9h-0.9zM66.3 89.6h0.9v0.9h-0.9zM65.2 89.3h0.9v0.9h-0.9zM51.2 86.0h0.9v0.9h-0.9zM89.7 88.7h0.9v0.9h-0.9zM65.9 97.4h0.9v0.9h-0.9zM62.9 78.7h0.9v0.9h-0.9zM86.1 88.8h0.9v0.9h-0.9zM73.0 90.4h0.9v0.9h-0.9zM76.3 83.9h0.9v0.9h-0.9zM85.6 82.5h0.9v0.9h-0.9zM49.9 98.0h0.9v0.9h-0.9zM71.4 86.9h0.9v0.9h-0.9zM72.3 97.6h0.9v0.9h-0.9zM80.5 90.9h0.9v0.9h-0.9zM67.4 88.8h0.9v0.9h-0.9zM66.1 90.6h0.9v0.9h-0.9zM60.2 91.3h0.9v0.9h-0.9zM61.3 93.7h0.9v0.9h-0.9zM62.6 90.4h0.9v0.9h-0.9zM85.8 89.1h0.9v0.9h-0.9zM79.2 89.3h0.9v0.9h-0.9zM77.6 94.4h0.9v0.9h-0.9zM74.3 92.1h0.9v0.9h-0.9zM42.9 84.1h0.9v0.9h-0.9zM74.3 85.7h0.9v0.9h-0.9zM64.1 90.0h0.9v0.9h-0.9zM73.4 85.8h0.9v0.9h-0.9zM61.4 86.8h0.9v0.9h-0.9zM63.8 84.3h0.9v0.9h-0.9zM79.5 87.3h0.9v0.9h-0.9zM45.6 90.4h0.9v0.9h-0.9zM60.1 92.9h0.9v0.9h-0.9zM62.6 88.5h0.9v0.9h-0.9zM86.2 97.6h0.9v0.9h-0.9zM57.9 88.2h0.9v0.9h-0.9zM54.7 92.9h0.9v0.9h-0.9zM59.6 90.7h0.9v0.9h-0.9zM72.9 86.3h0.9v0.9h-0.9zM83.7 87.8h0.9v0.9h-0.9zM86.2 89.3h0.9v0.9h-0.9zM55.3 97.0h0.9v0.9h-0.9zM82.3 82.4h0.9v0.9h-0.9zM71.2 96.9h0.9v0.9h-0.9zM50.2 87.4h0.9v0.9h-0.9zM84.1 91.7h0.9v0.9h-0.9zM83.1 77.3h0.9v0.9h-0.9zM58.7 89.1h0.9v0.9h-0.9zM82.4 87.0h0.9v0.9h-0.9zM45.1 91.5h0.9v0.9h-0.9zM61.6 88.9h0.9v0.9h-0.9zM79.3 83.5h0.9v0.9h-0.9zM49.3 92.7h0.9v0.9h-0.9zM71.9 91.6h0.9v0.9h-0.9zM63.4 91.1h0.9v0.9h-0.9zM59.9 92.9h0.9v0.9h-0.9zM71.2 93.3h0.9v0.9h-0.9zM64.6 88.4h0.9v0.9h-0.9zM50.6 82.5h0.9v0.9h-0.9zM53.4 82.4h0.9v0.9h-0.9zM76.3 94.4h0.9v0.9h-0.9zM72.5 91.6h0.9v0.9h-0.9zM83.5 88.9h0.9v0.9h-0.9zM73.9 86.6h0.9v0.9h-0.9zM50.3 88.6h0.9v0.9h-0.9zM69.0 88.6h0.9v0.9h-0.9zM48.7 87.0h0.9v0.9h-0.9zM77.1 85.4h0.9v0.9h-0.9zM56.1 98.0h0.9v0.9h-0.9zM50.0 89.5h0.9v0.9h-0.9zM65.9 85.8h0.9v0.9h-0.9zM49.4 82.8h0.9v0.9h-0.9zM61.3 85.3h0.9v0.9h-0.9zM77.5 91.7h0.9v0.9h-0.9zM69.5 91.8h0.9v0.9h-0.9zM77.0 87.5h0.9v0.9h-0.9zM92.2 88.7h0.9v0.9h-0.9zM69.5 87.2h0.9v0.9h-0.9zM79.6 83.6h0.9v0.9h-0.9zM64.8 94.2h0.9v0.9h-0.9zM70.6 90.1h0.9v0.9h-0.9zM64.1 85.2h0.9v0.9h-0.9zM83.5 87.9h0.9v0.9h-0.9zM70.1 92.4h0.9v0.9h-0.9zM71.4 87.4h0.9v0.9h-0.9zM75.5 82.4h0.9v0.9h-0.9zM59.9 84.3h0.9v0.9h-0.9zM82.7 88.9h0.9v0.9h-0.9zM55.4 88.1h0.9v0.9h-0.9zM46.9 92.9h0.9v0.9h-0.9zM60.4 92.9h0.9v0.9h-0.9zM86.9 89.9h0.9v0.9h-0.9zM45.1 88.6h0.9v0.9h-0.9zM50.1 87.4h0.9v0.9h-0.9zM69.3 90.9h0.9v0.9h-0.9zM70.4 92.5h0.9v0.9h-0.9zM80.8 88.8h0.9v0.9h-0.9zM59.9 90.5h0.9v0.9h-0.9zM49.4 87.1h0.9v0.9h-0.9zM85.3 82.3h0.9v0.9h-0.9zM52.9 84.1h0.9v0.9h-0.9zM43.8 91.9h0.9v0.9h-0.9zM59.8 90.5h0.9v0.9h-0.9zM63.7 95.5h0.9v0.9h-0.9zM83.0 88.7h0.9v0.9h-0.9zM76.0 92.3h0.9v0.9h-0.9zM64.5 94.3h0.9v0.9h-0.9zM64.2 92.9h0.9v0.9h-0.9zM73.0 85.8h0.9v0.9h-0.9zM78.6 87.7h0.9v0.9h-0.9zM66.0 89.1h0.9v0.9h-0.9zM46.7 84.2h0.9v0.9h-0.9zM60.7 90.6h0.9v0.9h-0.9zM77.4 93.0h0.9v0.9h-0.9zM73.2 86.4h0.9v0.9h-0.9zM82.7 97.2h0.9v0.9h-0.9zM47.4 87.2h0.9v0.9h-0.9zM94.8 87.6h0.9v0.9h-0.9zM61.7 87.5h0.9v0.9h-0.9zM77.8 85.4h0.9v0.9h-0.9zM76.1 90.3h0.9v0.9h-0.9zM65.5 88.6h0.9v0.9h-0.9zM77.7 95.8h0.9v0.9h-0.9zM55.9 91.2h0.9v0.9h-0.9zM78.0 90.9h0.9v0.9h-0.9zM54.9 87.5h0.9v0.9h-0.9zM74.0 82.3h0.9v0.9h-0.9zM64.2 88.1h0.9v0.9h-0.9zM55.7 84.8h0.9v0.9h-0.9zM49.5 92.7h0.9v0.9h-0.9zM69.3 88.4h0.9v0.9h-0.9zM51.6 95.8h0.9v0.9h-0.9zM75.1 91.7h0.9v0.9h-0.9zM54.5 92.2h0.9v0.9h-0.9zM46.5 89.5h0.9v0.9h-0.9zM80.2 89.4h0.9v0.9h-0.9zM59.3 91.4h0.9v0.9h-0.9zM65.0 92.6h0.9v0.9h-0.9zM48.9 85.4h0.9v0.9h-0.9zM55.1 90.7h0.9v0.9h-0.9zM70.1 88.1h0.9v0.9h-0.9zM88.8 85.5h0.9v0.9h-0.9zM79.0 82.1h0.9v0.9h-0.9zM69.2 93.7h0.9v0.9h-0.9zM62.5 88.8h0.9v0.9h-0.9zM57.3 89.8h0.9v0.9h-0.9zM45.7 96.6h0.9v0.9h-0.9zM81.3 84.6h0.9v0.9h-0.9zM48.1 93.1h0.9v0.9h-0.9zM74.6 91.2h0.9v0.9h-0.9zM66.9 90.3h0.9v0.9h-0.9zM49.8 90.6h0.9v0.9h-0.9zM52.5 88.4h0.9v0.9h-0.9zM77.5 95.5h0.9v0.9h-0.9zM69.9 91.2h0.9v0.9h-0.9zM59.5 90.0h0.9v0.9h-0.9zM81.6 94.0h0.9v0.9h-0.9zM57.2 92.5h0.9v0.9h-0.9zM56.1 90.5h0.9v0.9h-0.9zM49.5 90.0h0.9v0.9h-0.9zM71.0 96.2h0.9v0.9h-0.9zM42.2 90.8h0.9v0.9h-0.9zM52.8 88.1h0.9v0.9h-0.9zM77.1 84.7h0.9v0.9h-0.9zM63.5 87.0h0.9v0.9h-0.9zM74.4 83.9h0.9v0.9h-0.9zM68.5 89.0h0.9v0.9h-0.9zM69.8 89.6h0.9v0.9h-0.9zM54.7 79.5h0.9v0.9h-0.9zM75.5 88.6h0.9v0.9h-0.9zM54.4 91.4h0.9v0.9h-0.9zM49.6 89.2h0.9v0.9h-0.9zM55.7 84.3h0.9v0.9h-0.9zM50.1 94.1h0.9v0.9h-0.9zM50.8 85.4h0.9v0.9h-0.9zM82.6 83.1h0.9v0.9h-0.9zM79.0 83.8h0.9v0.9h-0.9zM55.6 88.4h0.9v0.9h-0.9zM64.8 92.8h0.9v0.9h-0.9zM48.7 93.6h0.9v0.9h-0.9zM59.0 89.4h0.9v0.9h-0.9zM82.0 83.3h0.9v0.9h-0.9zM85.8 85.6h0.9v0.9h-0.9zM49.3 84.6h0.9v0.9h-0.9zM85.9 87.7h0.9v0.9h-0.9zM95.7 80.7h0.9v0.9h-0.9zM60.3 89.0h0.9v0.9h-0.9zM81.3 91.3h0.9v0.9h-0.9zM74.3 87.9h0.9v0.9h-0.9zM65.0 90.5h0.9v0.9h-0.9zM63.6 84.4h0.9v0.9h-0.9zM78.2 82.1h0.9v0.9h-0.9zM84.3 85.7h0.9v0.9h-0.9zM49.7 93.6h0.9v0.9h-0.9zM65.5 93.0h0.9v0.9h-0.9zM88.0 93.8h0.9v0.9h-0.9zM80.8 87.1h0.9v0.9h-0.9zM48.5 95.2h0.9v0.9h-0.9zM78.0 90.6h0.9v0.9h-0.9zM79.0 86.5h0.9v0.9h-0.9zM52.0 92.0h0.9v0.9h-0.9zM70.3 85.1h0.9v0.9h-0.9zM67.8 84.4h0.9v0.9h-0.9zM61.0 82.1h0.9v0.9h-0.9zM76.6 89.6h0.9v0.9h-0.9zM83.4 88.3h0.9v0.9h-0.9zM70.7 88.2h0.9v0.9h-0.9zM70.0 86.7h0.9v0.9h-0.9zM51.6 94.8h0.9v0.9h-0.9zM52.3 86.6h0.9v0.9h-0.9zM72.5 85.3h0.9v0.9h-0.9zM78.4 94.0h0.9v0.9h-0.9zM74.0 94.8h0.9v0.9h-0.9zM64.7 90.0h0.9v0.9h-0.9zM71.5 80.8h0.9v0.9h-0.9zM65.3 85.9h0.9v0.9h-0.9zM79.7 91.2h0.9v0.9h-0.9zM73.9 88.6h0.9v0.9h-0.9zM69.2 95.3h0.9v0.9h-0.9zM67.8 82.5h0.9v0.9h-0.9zM68.0 91.5h0.9v0.9h-0.9zM50.1 85.7h0.9v0.9h-0.9zM45.1 88.2h0.9v0.9h-0.9zM46.2 93.0h0.9v0.9h-0.9zM77.6 85.7h0.9v0.9h-0.9zM73.8 82.3h0.9v0.9h-0.9zM71.2 83.6h0.9v0.9h-0.9zM56.0 85.8h0.9v0.9h-0.9zM66.3 93.8h0.9v0.9h-0.9zM81.4 94.4h0.9v0.9h-0.9zM71.0 89.7h0.9v0.9h-0.9zM76.4 83.9h0.9v0.9h-0.9zM58.4 88.0h0.9v0.9h-0.9zM53.8 85.5h0.9v0.9h-0.9zM63.7 94.9h0.9v0.9h-0.9zM76.3 89.9h0.9v0.9h-0.9zM64.8 90.7h0.9v0.9h-0.9zM54.0 86.7h0.9v0.9h-0.9zM68.1 79.7h0.9v0.9h-0.9zM59.6 85.1h0.9v0.9h-0.9zM59.4 83.6h0.9v0.9h-0.9zM51.3 90.1h0.9v0.9h-0.9zM80.1 88.9h0.9v0.9h-0.9zM60.5 85.0h0.9v0.9h-0.9zM62.1 86.8h0.9v0.9h-0.9zM88.6 95.4h0.9v0.9h-0.9zM69.7 84.3h0.9v0.9h-0.9zM77.1 84.5h0.9v0.9h-0.9zM56.1 87.5h0.9v0.9h-0.9zM75.9 85.4h0.9v0.9h-0.9zM62.9 86.6h0.9v0.9h-0.9zM81.5 90.8h0.9v0.9h-0.9zM92.0 96.1h0.9v0.9h-0.9zM69.4 80.7h0.9v0.9h-0.9zM89.7 88.4h0.9v0.9h-0.9zM61.9 88.7h0.9v0.9h-0.9zM78.6 88.1h0.9v0.9h-0.9zM43.4 87.7h0.9v0.9h-0.9zM79.8 87.0h0.9v0.9h-0.9zM79.2 92.9h0.9v0.9h-0.9zM53.5 86.5h0.9v0.9h-0.9zM48.1 87.9h0.9v0.9h-0.9zM74.6 88.5h0.9v0.9h-0.9zM72.8 89.0h0.9v0.9h-0.9zM51.1 87.7h0.9v0.9h-0.9zM87.2 92.9h0.9v0.9h-0.9zM61.8 88.5h0.9v0.9h-0.9zM77.8 89.3h0.9v0.9h-0.9zM84.5 88.3h0.9v0.9h-0.9zM67.7 84.1h0.9v0.9h-0.9zM57.5 84.8h0.9v0.9h-0.9zM43.0 83.9h0.9v0.9h-0.9zM64.3 85.4h0.9v0.9h-0.9zM80.0 83.8h0.9v0.9h-0.9zM81.3 89.5h0.9v0.9h-0.9zM54.0 90.8h0.9v0.9h-0.9zM81.7 80.8h0.9v0.9h-0.9zM64.6 95.9h0.9v0.9h-0.9zM82.8 88.6h0.9v0.9h-0.9zM80.6 88.0h0.9v0.9h-0.9zM57.4 93.2h0.9v0.9h-0.9zM83.3 88.8h0.9v0.9h-0.9zM74.5 85.8h0.9v0.9h-0.9zM71.2 98.2h0.9v0.9h-0.9zM72.4 83.8h0.9v0.9h-0.9z" fill="#000" fill-opacity="0.64" filter="url(#bd)"/>
<line x1="41.2" y1="75.3" x2="41.2" y2="100.6" stroke="#000" stroke-width="1.1"/>
<rect x="21.60" y="119.90" width="76.40" height="25.40" fill="#fff" stroke="#000" stroke-width="1.1"/>
<rect x="23.900000000000002" y="125.6" width="14.70" height="15.10" rx="4.59" fill="#000" filter="url(#bl)"/>
<path d="M30.7 141.1h0.9v0.9h-0.9zM38.3 137.9h0.9v0.9h-0.9zM22.5 131.1h0.9v0.9h-0.9zM34.0 125.7h0.9v0.9h-0.9zM38.5 129.8h0.9v0.9h-0.9zM38.7 129.7h0.9v0.9h-0.9zM24.6 139.3h0.9v0.9h-0.9zM23.4 133.8h0.9v0.9h-0.9zM28.2 125.5h0.9v0.9h-0.9zM25.0 126.9h0.9v0.9h-0.9zM32.1 125.4h0.9v0.9h-0.9zM30.6 141.1h0.9v0.9h-0.9zM36.9 124.8h0.9v0.9h-0.9zM35.4 140.7h0.9v0.9h-0.9zM39.1 128.9h0.9v0.9h-0.9zM30.2 140.7h0.9v0.9h-0.9zM38.6 134.0h0.9v0.9h-0.9zM29.0 125.3h0.9v0.9h-0.9zM34.1 125.4h0.9v0.9h-0.9zM37.4 140.5h0.9v0.9h-0.9zM24.6 139.9h0.9v0.9h-0.9zM26.1 140.5h0.9v0.9h-0.9zM38.1 127.8h0.9v0.9h-0.9zM39.1 133.4h0.9v0.9h-0.9zM38.7 132.9h0.9v0.9h-0.9zM24.0 127.0h0.9v0.9h-0.9zM35.6 125.3h0.9v0.9h-0.9zM23.3 127.8h0.9v0.9h-0.9zM32.9 140.7h0.9v0.9h-0.9zM23.3 127.4h0.9v0.9h-0.9zM29.1 141.0h0.9v0.9h-0.9zM36.6 140.7h0.9v0.9h-0.9zM32.2 125.7h0.9v0.9h-0.9zM23.8 131.4h0.9v0.9h-0.9zM38.1 138.8h0.9v0.9h-0.9zM30.2 141.0h0.9v0.9h-0.9zM39.4 132.4h0.9v0.9h-0.9zM26.3 140.8h0.9v0.9h-0.9zM24.1 138.2h0.9v0.9h-0.9zM38.1 125.3h0.9v0.9h-0.9zM23.8 137.9h0.9v0.9h-0.9zM38.9 131.6h0.9v0.9h-0.9zM23.3 138.3h0.9v0.9h-0.9zM36.8 125.2h0.9v0.9h-0.9zM39.4 131.5h0.9v0.9h-0.9zM25.8 124.7h0.9v0.9h-0.9zM32.9 140.7h0.9v0.9h-0.9zM38.5 130.3h0.9v0.9h-0.9zM38.5 128.6h0.9v0.9h-0.9zM26.9 141.3h0.9v0.9h-0.9zM39.1 132.5h0.9v0.9h-0.9zM36.9 126.2h0.9v0.9h-0.9zM38.5 130.8h0.9v0.9h-0.9zM30.6 140.7h0.9v0.9h-0.9zM35.7 140.5h0.9v0.9h-0.9zM38.7 134.4h0.9v0.9h-0.9zM24.1 128.3h0.9v0.9h-0.9zM39.3 133.8h0.9v0.9h-0.9zM37.8 139.8h0.9v0.9h-0.9zM38.6 134.4h0.9v0.9h-0.9zM24.1 138.3h0.9v0.9h-0.9zM27.5 140.8h0.9v0.9h-0.9zM26.8 141.3h0.9v0.9h-0.9zM30.1 141.0h0.9v0.9h-0.9zM38.8 137.7h0.9v0.9h-0.9zM24.1 137.1h0.9v0.9h-0.9zM36.4 124.9h0.9v0.9h-0.9zM23.7 137.4h0.9v0.9h-0.9zM35.6 125.1h0.9v0.9h-0.9zM35.3 125.5h0.9v0.9h-0.9zM30.5 140.9h0.9v0.9h-0.9zM33.1 125.3h0.9v0.9h-0.9zM32.4 141.2h0.9v0.9h-0.9zM24.5 127.2h0.9v0.9h-0.9zM38.1 126.7h0.9v0.9h-0.9zM23.6 136.3h0.9v0.9h-0.9zM26.7 125.7h0.9v0.9h-0.9zM28.2 125.5h0.9v0.9h-0.9zM28.9 125.7h0.9v0.9h-0.9zM31.1 140.8h0.9v0.9h-0.9zM39.5 129.3h0.9v0.9h-0.9zM24.3 127.6h0.9v0.9h-0.9zM37.9 139.9h0.9v0.9h-0.9zM24.4 138.9h0.9v0.9h-0.9zM38.4 137.8h0.9v0.9h-0.9zM33.3 125.2h0.9v0.9h-0.9zM28.2 141.2h0.9v0.9h-0.9zM23.1 130.9h0.9v0.9h-0.9zM23.1 138.4h0.9v0.9h-0.9zM24.4 138.9h0.9v0.9h-0.9zM32.1 125.0h0.9v0.9h-0.9zM37.7 126.8h0.9v0.9h-0.9zM33.8 140.8h0.9v0.9h-0.9zM39.2 131.5h0.9v0.9h-0.9zM24.6 126.4h0.9v0.9h-0.9zM39.2 132.7h0.9v0.9h-0.9zM23.6 130.1h0.9v0.9h-0.9zM34.4 125.0h0.9v0.9h-0.9zM24.7 139.0h0.9v0.9h-0.9zM38.6 132.2h0.9v0.9h-0.9zM29.7 140.7h0.9v0.9h-0.9zM34.2 124.4h0.9v0.9h-0.9zM24.0 129.6h0.9v0.9h-0.9zM26.6 125.7h0.9v0.9h-0.9zM23.7 129.0h0.9v0.9h-0.9zM37.7 127.1h0.9v0.9h-0.9zM23.6 133.8h0.9v0.9h-0.9zM28.5 125.1h0.9v0.9h-0.9zM38.7 131.3h0.9v0.9h-0.9zM37.9 139.0h0.9v0.9h-0.9zM35.0 125.7h0.9v0.9h-0.9zM30.4 141.5h0.9v0.9h-0.9zM25.1 140.7h0.9v0.9h-0.9zM32.9 125.2h0.9v0.9h-0.9zM24.1 137.2h0.9v0.9h-0.9zM37.1 139.8h0.9v0.9h-0.9zM23.9 129.1h0.9v0.9h-0.9zM27.2 125.8h0.9v0.9h-0.9zM24.0 129.3h0.9v0.9h-0.9zM39.1 131.1h0.9v0.9h-0.9zM26.4 140.4h0.9v0.9h-0.9zM24.7 127.0h0.9v0.9h-0.9zM24.0 136.1h0.9v0.9h-0.9zM23.9 135.2h0.9v0.9h-0.9zM24.2 137.7h0.9v0.9h-0.9zM28.8 142.6h0.9v0.9h-0.9zM23.7 132.5h0.9v0.9h-0.9zM29.3 125.5h0.9v0.9h-0.9zM25.9 125.7h0.9v0.9h-0.9zM39.3 129.7h0.9v0.9h-0.9zM34.0 125.5h0.9v0.9h-0.9zM23.6 139.1h0.9v0.9h-0.9zM26.3 125.6h0.9v0.9h-0.9zM38.2 126.2h0.9v0.9h-0.9zM23.9 133.0h0.9v0.9h-0.9zM38.7 137.5h0.9v0.9h-0.9zM39.1 132.8h0.9v0.9h-0.9zM37.8 139.2h0.9v0.9h-0.9zM26.4 140.5h0.9v0.9h-0.9zM23.7 136.7h0.9v0.9h-0.9zM23.5 132.3h0.9v0.9h-0.9zM38.4 139.1h0.9v0.9h-0.9zM39.3 130.5h0.9v0.9h-0.9zM39.2 130.4h0.9v0.9h-0.9zM25.6 126.2h0.9v0.9h-0.9zM39.0 138.2h0.9v0.9h-0.9zM24.0 136.0h0.9v0.9h-0.9zM29.0 141.0h0.9v0.9h-0.9zM28.1 141.0h0.9v0.9h-0.9zM28.0 141.3h0.9v0.9h-0.9zM23.7 133.8h0.9v0.9h-0.9zM40.2 135.6h0.9v0.9h-0.9zM23.9 136.7h0.9v0.9h-0.9zM38.7 133.5h0.9v0.9h-0.9zM38.4 138.4h0.9v0.9h-0.9zM23.4 138.1h0.9v0.9h-0.9zM28.4 125.2h0.9v0.9h-0.9zM25.3 140.4h0.9v0.9h-0.9zM24.0 135.4h0.9v0.9h-0.9zM38.9 137.7h0.9v0.9h-0.9zM23.1 134.4h0.9v0.9h-0.9zM28.7 125.5h0.9v0.9h-0.9zM29.4 125.5h0.9v0.9h-0.9zM23.7 134.2h0.9v0.9h-0.9zM33.8 141.9h0.9v0.9h-0.9zM23.7 129.1h0.9v0.9h-0.9zM32.4 125.4h0.9v0.9h-0.9zM36.1 140.8h0.9v0.9h-0.9zM40.1 134.0h0.9v0.9h-0.9zM30.6 140.6h0.9v0.9h-0.9zM23.5 133.4h0.9v0.9h-0.9zM23.7 136.4h0.9v0.9h-0.9zM38.9 130.6h0.9v0.9h-0.9zM31.9 141.5h0.9v0.9h-0.9zM23.6 138.1h0.9v0.9h-0.9zM23.4 132.9h0.9v0.9h-0.9zM38.5 128.4h0.9v0.9h-0.9zM34.8 125.4h0.9v0.9h-0.9zM38.2 126.8h0.9v0.9h-0.9zM35.3 141.2h0.9v0.9h-0.9zM31.4 141.2h0.9v0.9h-0.9zM28.6 125.6h0.9v0.9h-0.9zM26.6 124.8h0.9v0.9h-0.9zM38.9 136.3h0.9v0.9h-0.9zM34.0 141.0h0.9v0.9h-0.9zM23.2 137.4h0.9v0.9h-0.9zM33.9 142.0h0.9v0.9h-0.9zM24.3 138.2h0.9v0.9h-0.9zM24.0 134.7h0.9v0.9h-0.9zM31.7 125.0h0.9v0.9h-0.9zM25.4 140.6h0.9v0.9h-0.9zM29.1 141.5h0.9v0.9h-0.9zM25.3 140.5h0.9v0.9h-0.9zM23.0 134.6h0.9v0.9h-0.9zM37.3 126.4h0.9v0.9h-0.9zM38.6 138.3h0.9v0.9h-0.9zM31.0 140.9h0.9v0.9h-0.9zM23.8 134.1h0.9v0.9h-0.9zM36.6 140.9h0.9v0.9h-0.9zM23.6 136.9h0.9v0.9h-0.9zM24.0 134.6h0.9v0.9h-0.9zM22.7 137.5h0.9v0.9h-0.9zM26.4 140.7h0.9v0.9h-0.9zM31.4 141.9h0.9v0.9h-0.9zM26.4 140.6h0.9v0.9h-0.9zM36.2 125.9h0.9v0.9h-0.9zM25.6 140.1h0.9v0.9h-0.9zM35.8 124.1h0.9v0.9h-0.9zM26.9 125.3h0.9v0.9h-0.9zM24.5 138.9h0.9v0.9h-0.9zM23.6 126.9h0.9v0.9h-0.9zM25.0 140.1h0.9v0.9h-0.9zM38.8 131.3h0.9v0.9h-0.9zM38.7 136.9h0.9v0.9h-0.9zM38.7 130.3h0.9v0.9h-0.9zM25.7 126.1h0.9v0.9h-0.9zM23.2 130.4h0.9v0.9h-0.9zM25.7 124.3h0.9v0.9h-0.9zM26.5 126.0h0.9v0.9h-0.9zM38.6 137.0h0.9v0.9h-0.9z" fill="#000" fill-opacity="0.6"/>
<path d="M53.7 139.1h0.9v0.9h-0.9zM53.4 128.2h0.9v0.9h-0.9zM53.8 123.5h0.9v0.9h-0.9zM76.8 128.9h0.9v0.9h-0.9zM65.5 129.4h0.9v0.9h-0.9zM79.2 135.5h0.9v0.9h-0.9zM70.7 129.1h0.9v0.9h-0.9zM65.5 134.3h0.9v0.9h-0.9zM72.4 128.9h0.9v0.9h-0.9zM91.6 142.8h0.9v0.9h-0.9zM64.7 135.5h0.9v0.9h-0.9zM42.8 141.7h0.9v0.9h-0.9zM63.7 128.6h0.9v0.9h-0.9zM59.2 128.9h0.9v0.9h-0.9zM51.8 135.6h0.9v0.9h-0.9zM63.0 136.1h0.9v0.9h-0.9zM47.4 126.1h0.9v0.9h-0.9zM78.6 128.1h0.9v0.9h-0.9zM42.9 127.9h0.9v0.9h-0.9zM66.7 126.5h0.9v0.9h-0.9zM74.8 129.9h0.9v0.9h-0.9zM67.5 128.8h0.9v0.9h-0.9zM72.9 126.7h0.9v0.9h-0.9zM61.6 133.5h0.9v0.9h-0.9zM47.3 135.5h0.9v0.9h-0.9zM54.8 127.3h0.9v0.9h-0.9zM76.5 133.1h0.9v0.9h-0.9zM45.7 132.0h0.9v0.9h-0.9zM52.4 130.0h0.9v0.9h-0.9zM47.0 136.6h0.9v0.9h-0.9zM75.4 136.8h0.9v0.9h-0.9zM58.9 136.0h0.9v0.9h-0.9zM66.7 132.1h0.9v0.9h-0.9zM61.9 141.8h0.9v0.9h-0.9zM72.6 140.7h0.9v0.9h-0.9zM69.1 131.3h0.9v0.9h-0.9zM62.2 132.5h0.9v0.9h-0.9zM58.5 138.3h0.9v0.9h-0.9zM71.0 129.5h0.9v0.9h-0.9zM87.4 134.8h0.9v0.9h-0.9zM69.2 133.3h0.9v0.9h-0.9zM64.3 130.0h0.9v0.9h-0.9zM86.2 132.0h0.9v0.9h-0.9zM48.3 130.7h0.9v0.9h-0.9zM73.0 124.3h0.9v0.9h-0.9zM78.1 143.1h0.9v0.9h-0.9zM45.9 139.7h0.9v0.9h-0.9zM42.8 138.4h0.9v0.9h-0.9zM47.0 134.4h0.9v0.9h-0.9zM74.0 137.4h0.9v0.9h-0.9zM67.5 137.5h0.9v0.9h-0.9zM82.0 137.1h0.9v0.9h-0.9zM48.7 129.0h0.9v0.9h-0.9zM88.4 134.9h0.9v0.9h-0.9zM55.1 130.7h0.9v0.9h-0.9zM60.3 127.8h0.9v0.9h-0.9zM53.3 128.0h0.9v0.9h-0.9zM62.0 134.9h0.9v0.9h-0.9zM65.8 137.7h0.9v0.9h-0.9zM60.8 140.7h0.9v0.9h-0.9zM56.4 139.5h0.9v0.9h-0.9zM50.3 131.3h0.9v0.9h-0.9zM49.0 131.0h0.9v0.9h-0.9zM66.2 132.7h0.9v0.9h-0.9zM84.7 137.3h0.9v0.9h-0.9zM85.5 131.3h0.9v0.9h-0.9zM61.3 128.1h0.9v0.9h-0.9zM78.3 134.5h0.9v0.9h-0.9zM66.1 123.9h0.9v0.9h-0.9zM49.1 138.1h0.9v0.9h-0.9zM79.8 134.4h0.9v0.9h-0.9zM65.5 136.4h0.9v0.9h-0.9zM49.9 135.2h0.9v0.9h-0.9zM72.8 136.2h0.9v0.9h-0.9zM65.1 133.6h0.9v0.9h-0.9zM89.7 129.4h0.9v0.9h-0.9zM63.4 132.0h0.9v0.9h-0.9zM56.3 132.7h0.9v0.9h-0.9zM46.4 138.5h0.9v0.9h-0.9zM57.1 140.2h0.9v0.9h-0.9zM76.0 134.9h0.9v0.9h-0.9zM81.2 129.7h0.9v0.9h-0.9zM47.8 129.8h0.9v0.9h-0.9zM62.3 132.2h0.9v0.9h-0.9zM63.7 139.1h0.9v0.9h-0.9zM47.7 134.5h0.9v0.9h-0.9zM77.9 132.8h0.9v0.9h-0.9zM84.8 129.6h0.9v0.9h-0.9zM52.6 136.9h0.9v0.9h-0.9zM72.6 134.3h0.9v0.9h-0.9zM69.8 132.8h0.9v0.9h-0.9zM51.3 133.5h0.9v0.9h-0.9zM88.3 140.4h0.9v0.9h-0.9zM77.2 132.3h0.9v0.9h-0.9zM67.4 140.4h0.9v0.9h-0.9zM53.8 138.5h0.9v0.9h-0.9zM45.6 133.2h0.9v0.9h-0.9zM46.7 136.9h0.9v0.9h-0.9zM84.9 132.5h0.9v0.9h-0.9zM82.0 129.4h0.9v0.9h-0.9zM43.6 131.8h0.9v0.9h-0.9zM71.1 129.0h0.9v0.9h-0.9zM62.2 135.3h0.9v0.9h-0.9zM74.5 133.1h0.9v0.9h-0.9zM72.1 135.5h0.9v0.9h-0.9zM76.6 136.6h0.9v0.9h-0.9zM51.1 134.4h0.9v0.9h-0.9zM60.0 125.1h0.9v0.9h-0.9zM69.5 133.7h0.9v0.9h-0.9zM80.0 129.1h0.9v0.9h-0.9zM58.2 133.5h0.9v0.9h-0.9zM55.9 139.0h0.9v0.9h-0.9zM64.5 125.5h0.9v0.9h-0.9zM53.3 133.8h0.9v0.9h-0.9zM42.1 132.7h0.9v0.9h-0.9zM64.9 124.7h0.9v0.9h-0.9zM57.5 135.9h0.9v0.9h-0.9zM69.1 133.2h0.9v0.9h-0.9zM83.1 130.8h0.9v0.9h-0.9zM70.8 131.3h0.9v0.9h-0.9zM63.4 125.1h0.9v0.9h-0.9zM47.4 128.9h0.9v0.9h-0.9zM63.2 131.4h0.9v0.9h-0.9zM52.2 131.3h0.9v0.9h-0.9zM61.1 132.7h0.9v0.9h-0.9zM53.9 128.4h0.9v0.9h-0.9zM87.4 135.4h0.9v0.9h-0.9zM48.5 130.9h0.9v0.9h-0.9zM64.7 127.0h0.9v0.9h-0.9zM70.1 129.4h0.9v0.9h-0.9zM51.7 131.3h0.9v0.9h-0.9zM86.6 136.7h0.9v0.9h-0.9zM61.2 135.1h0.9v0.9h-0.9zM56.3 131.5h0.9v0.9h-0.9zM83.1 133.1h0.9v0.9h-0.9zM65.1 133.9h0.9v0.9h-0.9zM76.3 142.0h0.9v0.9h-0.9zM45.5 130.3h0.9v0.9h-0.9zM72.2 136.2h0.9v0.9h-0.9zM58.8 128.8h0.9v0.9h-0.9zM78.3 133.8h0.9v0.9h-0.9zM57.6 133.7h0.9v0.9h-0.9zM42.1 130.9h0.9v0.9h-0.9zM75.2 135.5h0.9v0.9h-0.9zM50.2 137.5h0.9v0.9h-0.9zM55.2 138.0h0.9v0.9h-0.9zM50.4 132.2h0.9v0.9h-0.9zM74.3 133.8h0.9v0.9h-0.9zM49.6 143.3h0.9v0.9h-0.9zM72.1 128.1h0.9v0.9h-0.9zM77.6 134.0h0.9v0.9h-0.9zM71.1 136.9h0.9v0.9h-0.9zM65.9 133.7h0.9v0.9h-0.9zM91.6 135.9h0.9v0.9h-0.9zM58.6 133.8h0.9v0.9h-0.9zM84.2 136.3h0.9v0.9h-0.9zM73.6 138.6h0.9v0.9h-0.9zM51.4 132.0h0.9v0.9h-0.9zM48.6 133.9h0.9v0.9h-0.9zM61.4 132.8h0.9v0.9h-0.9zM51.8 131.2h0.9v0.9h-0.9zM75.7 132.9h0.9v0.9h-0.9zM67.9 128.0h0.9v0.9h-0.9zM43.1 136.3h0.9v0.9h-0.9zM85.1 140.5h0.9v0.9h-0.9zM74.1 140.5h0.9v0.9h-0.9zM62.8 138.6h0.9v0.9h-0.9zM59.2 128.8h0.9v0.9h-0.9zM56.3 139.7h0.9v0.9h-0.9zM82.0 129.9h0.9v0.9h-0.9zM77.5 132.8h0.9v0.9h-0.9zM61.4 141.1h0.9v0.9h-0.9zM61.9 128.3h0.9v0.9h-0.9zM74.4 136.7h0.9v0.9h-0.9zM73.3 134.2h0.9v0.9h-0.9zM46.3 132.3h0.9v0.9h-0.9zM54.0 129.1h0.9v0.9h-0.9zM72.8 131.0h0.9v0.9h-0.9zM43.1 137.6h0.9v0.9h-0.9zM52.4 138.4h0.9v0.9h-0.9zM63.4 126.9h0.9v0.9h-0.9zM63.4 130.8h0.9v0.9h-0.9zM77.5 131.6h0.9v0.9h-0.9zM53.2 127.8h0.9v0.9h-0.9zM48.5 128.1h0.9v0.9h-0.9zM54.4 133.4h0.9v0.9h-0.9zM62.9 132.1h0.9v0.9h-0.9zM49.6 125.7h0.9v0.9h-0.9zM56.7 130.6h0.9v0.9h-0.9zM72.1 135.3h0.9v0.9h-0.9zM65.3 127.7h0.9v0.9h-0.9zM76.6 128.9h0.9v0.9h-0.9zM72.0 138.8h0.9v0.9h-0.9zM77.0 125.9h0.9v0.9h-0.9zM89.0 127.1h0.9v0.9h-0.9zM66.4 134.7h0.9v0.9h-0.9zM89.9 127.8h0.9v0.9h-0.9zM57.0 131.9h0.9v0.9h-0.9zM55.2 131.0h0.9v0.9h-0.9zM64.7 135.5h0.9v0.9h-0.9zM60.3 121.9h0.9v0.9h-0.9zM78.6 123.3h0.9v0.9h-0.9zM68.4 127.6h0.9v0.9h-0.9zM66.4 137.5h0.9v0.9h-0.9zM77.4 132.3h0.9v0.9h-0.9zM53.8 125.5h0.9v0.9h-0.9zM76.6 135.2h0.9v0.9h-0.9zM58.2 136.1h0.9v0.9h-0.9zM48.2 131.9h0.9v0.9h-0.9zM45.6 131.5h0.9v0.9h-0.9zM58.6 134.9h0.9v0.9h-0.9zM63.6 138.3h0.9v0.9h-0.9zM63.0 133.7h0.9v0.9h-0.9zM51.3 135.3h0.9v0.9h-0.9zM66.1 132.8h0.9v0.9h-0.9zM72.6 131.3h0.9v0.9h-0.9zM55.0 134.1h0.9v0.9h-0.9zM48.9 131.7h0.9v0.9h-0.9zM47.6 131.9h0.9v0.9h-0.9zM61.6 137.1h0.9v0.9h-0.9zM57.4 135.1h0.9v0.9h-0.9zM78.6 136.8h0.9v0.9h-0.9zM46.2 126.1h0.9v0.9h-0.9zM64.2 135.5h0.9v0.9h-0.9zM75.4 130.4h0.9v0.9h-0.9zM69.1 129.4h0.9v0.9h-0.9zM71.9 129.3h0.9v0.9h-0.9zM52.1 138.3h0.9v0.9h-0.9zM52.9 136.6h0.9v0.9h-0.9zM53.0 129.8h0.9v0.9h-0.9zM91.7 128.0h0.9v0.9h-0.9zM47.5 131.0h0.9v0.9h-0.9zM76.1 140.3h0.9v0.9h-0.9zM69.6 126.6h0.9v0.9h-0.9zM61.6 124.9h0.9v0.9h-0.9zM59.7 131.9h0.9v0.9h-0.9zM49.2 133.0h0.9v0.9h-0.9zM90.1 133.6h0.9v0.9h-0.9zM51.3 136.3h0.9v0.9h-0.9zM55.8 142.1h0.9v0.9h-0.9zM74.4 131.5h0.9v0.9h-0.9zM61.9 130.6h0.9v0.9h-0.9zM88.1 125.3h0.9v0.9h-0.9zM45.9 134.1h0.9v0.9h-0.9zM67.6 136.8h0.9v0.9h-0.9zM60.2 131.9h0.9v0.9h-0.9zM61.5 138.2h0.9v0.9h-0.9zM70.6 133.1h0.9v0.9h-0.9zM63.8 134.5h0.9v0.9h-0.9zM72.8 128.3h0.9v0.9h-0.9zM48.6 130.2h0.9v0.9h-0.9zM71.3 126.3h0.9v0.9h-0.9zM61.5 125.4h0.9v0.9h-0.9zM55.6 134.2h0.9v0.9h-0.9zM70.9 136.8h0.9v0.9h-0.9zM60.5 141.6h0.9v0.9h-0.9zM64.3 132.8h0.9v0.9h-0.9zM86.1 132.0h0.9v0.9h-0.9zM75.3 128.1h0.9v0.9h-0.9zM91.6 137.3h0.9v0.9h-0.9zM71.3 134.7h0.9v0.9h-0.9zM49.0 130.4h0.9v0.9h-0.9zM47.5 136.0h0.9v0.9h-0.9zM49.7 135.5h0.9v0.9h-0.9zM51.5 124.8h0.9v0.9h-0.9zM45.4 136.3h0.9v0.9h-0.9zM66.2 133.6h0.9v0.9h-0.9zM67.6 131.3h0.9v0.9h-0.9zM74.3 131.2h0.9v0.9h-0.9zM62.5 140.7h0.9v0.9h-0.9zM57.9 139.8h0.9v0.9h-0.9zM49.5 141.0h0.9v0.9h-0.9zM80.5 127.9h0.9v0.9h-0.9zM47.2 130.1h0.9v0.9h-0.9zM51.7 137.0h0.9v0.9h-0.9zM67.6 127.7h0.9v0.9h-0.9zM74.2 125.1h0.9v0.9h-0.9zM66.5 141.2h0.9v0.9h-0.9zM64.2 137.7h0.9v0.9h-0.9zM52.0 134.0h0.9v0.9h-0.9zM73.1 131.2h0.9v0.9h-0.9zM53.9 131.2h0.9v0.9h-0.9zM43.0 135.7h0.9v0.9h-0.9zM71.3 129.9h0.9v0.9h-0.9zM57.8 138.4h0.9v0.9h-0.9zM85.8 130.8h0.9v0.9h-0.9zM77.5 129.2h0.9v0.9h-0.9zM71.9 138.7h0.9v0.9h-0.9zM81.5 132.4h0.9v0.9h-0.9zM78.3 135.4h0.9v0.9h-0.9zM51.1 131.2h0.9v0.9h-0.9zM63.4 123.1h0.9v0.9h-0.9zM59.8 135.4h0.9v0.9h-0.9zM44.5 127.1h0.9v0.9h-0.9zM57.6 137.8h0.9v0.9h-0.9zM50.0 126.2h0.9v0.9h-0.9zM53.4 124.8h0.9v0.9h-0.9zM56.1 134.4h0.9v0.9h-0.9zM75.1 134.9h0.9v0.9h-0.9zM60.7 133.5h0.9v0.9h-0.9zM43.8 127.7h0.9v0.9h-0.9zM60.8 136.9h0.9v0.9h-0.9zM51.2 126.6h0.9v0.9h-0.9zM82.9 131.0h0.9v0.9h-0.9zM58.1 129.5h0.9v0.9h-0.9zM63.1 131.3h0.9v0.9h-0.9zM49.7 136.8h0.9v0.9h-0.9zM61.0 130.2h0.9v0.9h-0.9zM81.2 135.5h0.9v0.9h-0.9zM57.9 136.1h0.9v0.9h-0.9zM78.0 125.5h0.9v0.9h-0.9zM53.5 127.9h0.9v0.9h-0.9zM52.0 131.3h0.9v0.9h-0.9zM46.9 130.4h0.9v0.9h-0.9zM76.5 134.4h0.9v0.9h-0.9zM57.7 124.5h0.9v0.9h-0.9zM70.8 136.2h0.9v0.9h-0.9zM61.8 136.3h0.9v0.9h-0.9zM84.9 132.3h0.9v0.9h-0.9zM44.6 126.9h0.9v0.9h-0.9zM71.2 133.0h0.9v0.9h-0.9zM65.5 130.6h0.9v0.9h-0.9zM85.5 135.5h0.9v0.9h-0.9zM47.1 132.6h0.9v0.9h-0.9zM65.6 136.2h0.9v0.9h-0.9zM67.1 131.1h0.9v0.9h-0.9zM74.6 139.3h0.9v0.9h-0.9zM50.2 122.9h0.9v0.9h-0.9zM63.0 128.5h0.9v0.9h-0.9zM77.0 135.2h0.9v0.9h-0.9zM78.9 126.4h0.9v0.9h-0.9zM64.0 136.2h0.9v0.9h-0.9zM52.7 127.6h0.9v0.9h-0.9zM55.6 133.4h0.9v0.9h-0.9zM65.8 129.0h0.9v0.9h-0.9zM53.2 131.1h0.9v0.9h-0.9zM83.3 133.8h0.9v0.9h-0.9zM55.0 132.5h0.9v0.9h-0.9zM91.7 131.3h0.9v0.9h-0.9zM54.3 133.0h0.9v0.9h-0.9zM58.6 128.7h0.9v0.9h-0.9zM60.1 137.1h0.9v0.9h-0.9zM82.6 136.6h0.9v0.9h-0.9zM81.2 138.4h0.9v0.9h-0.9zM79.7 140.9h0.9v0.9h-0.9zM58.0 128.9h0.9v0.9h-0.9zM48.2 137.7h0.9v0.9h-0.9zM71.5 138.0h0.9v0.9h-0.9zM91.8 133.0h0.9v0.9h-0.9zM46.8 134.1h0.9v0.9h-0.9zM42.3 130.5h0.9v0.9h-0.9zM76.7 140.9h0.9v0.9h-0.9zM67.0 125.1h0.9v0.9h-0.9zM83.2 130.6h0.9v0.9h-0.9zM77.4 134.3h0.9v0.9h-0.9zM53.3 135.5h0.9v0.9h-0.9zM62.0 140.2h0.9v0.9h-0.9zM57.8 125.2h0.9v0.9h-0.9zM61.3 133.2h0.9v0.9h-0.9zM66.4 127.2h0.9v0.9h-0.9zM48.9 132.8h0.9v0.9h-0.9zM66.4 138.8h0.9v0.9h-0.9zM80.6 135.4h0.9v0.9h-0.9zM50.2 121.5h0.9v0.9h-0.9zM84.0 132.4h0.9v0.9h-0.9zM62.6 134.7h0.9v0.9h-0.9zM63.7 131.6h0.9v0.9h-0.9zM84.4 132.7h0.9v0.9h-0.9zM57.3 132.1h0.9v0.9h-0.9zM56.3 128.7h0.9v0.9h-0.9zM85.0 134.1h0.9v0.9h-0.9zM52.3 131.6h0.9v0.9h-0.9zM52.9 131.6h0.9v0.9h-0.9zM52.6 132.6h0.9v0.9h-0.9zM50.0 136.4h0.9v0.9h-0.9zM71.7 134.0h0.9v0.9h-0.9zM63.2 127.7h0.9v0.9h-0.9zM68.5 132.4h0.9v0.9h-0.9zM77.7 135.1h0.9v0.9h-0.9zM65.9 130.9h0.9v0.9h-0.9zM52.4 138.1h0.9v0.9h-0.9zM62.7 136.4h0.9v0.9h-0.9zM74.4 128.6h0.9v0.9h-0.9zM60.5 134.4h0.9v0.9h-0.9zM59.9 141.7h0.9v0.9h-0.9zM59.6 139.9h0.9v0.9h-0.9zM80.4 132.8h0.9v0.9h-0.9zM54.9 136.9h0.9v0.9h-0.9zM92.8 130.0h0.9v0.9h-0.9zM65.9 126.6h0.9v0.9h-0.9zM54.5 135.4h0.9v0.9h-0.9zM50.5 134.1h0.9v0.9h-0.9zM60.5 135.3h0.9v0.9h-0.9zM42.4 132.9h0.9v0.9h-0.9zM66.3 134.4h0.9v0.9h-0.9zM82.6 130.7h0.9v0.9h-0.9zM57.8 135.1h0.9v0.9h-0.9zM75.9 136.7h0.9v0.9h-0.9zM62.9 132.7h0.9v0.9h-0.9zM67.9 136.6h0.9v0.9h-0.9zM47.4 125.2h0.9v0.9h-0.9zM89.5 129.5h0.9v0.9h-0.9zM68.8 139.4h0.9v0.9h-0.9zM76.4 140.8h0.9v0.9h-0.9zM81.3 132.5h0.9v0.9h-0.9zM52.9 127.4h0.9v0.9h-0.9zM61.5 134.6h0.9v0.9h-0.9zM73.5 136.4h0.9v0.9h-0.9zM48.6 126.5h0.9v0.9h-0.9zM72.0 135.5h0.9v0.9h-0.9zM83.8 135.2h0.9v0.9h-0.9zM57.1 134.9h0.9v0.9h-0.9zM67.0 128.0h0.9v0.9h-0.9zM47.9 135.4h0.9v0.9h-0.9zM49.4 126.4h0.9v0.9h-0.9zM69.4 139.5h0.9v0.9h-0.9zM61.6 133.6h0.9v0.9h-0.9zM86.3 127.9h0.9v0.9h-0.9zM79.7 138.9h0.9v0.9h-0.9zM71.5 138.1h0.9v0.9h-0.9zM64.2 130.1h0.9v0.9h-0.9zM68.6 142.7h0.9v0.9h-0.9zM72.8 128.6h0.9v0.9h-0.9zM78.9 134.4h0.9v0.9h-0.9zM75.5 138.2h0.9v0.9h-0.9zM69.8 123.0h0.9v0.9h-0.9zM53.6 137.4h0.9v0.9h-0.9zM79.8 132.7h0.9v0.9h-0.9zM58.3 132.9h0.9v0.9h-0.9zM65.6 128.3h0.9v0.9h-0.9zM85.9 134.5h0.9v0.9h-0.9zM78.8 128.7h0.9v0.9h-0.9zM50.0 131.0h0.9v0.9h-0.9zM46.6 127.6h0.9v0.9h-0.9zM67.0 139.9h0.9v0.9h-0.9zM82.8 127.2h0.9v0.9h-0.9zM64.4 129.7h0.9v0.9h-0.9zM79.6 131.6h0.9v0.9h-0.9zM61.2 133.0h0.9v0.9h-0.9zM87.8 136.5h0.9v0.9h-0.9zM45.8 136.6h0.9v0.9h-0.9zM57.7 131.7h0.9v0.9h-0.9zM57.1 131.3h0.9v0.9h-0.9zM77.5 133.2h0.9v0.9h-0.9zM54.0 136.6h0.9v0.9h-0.9zM74.1 136.1h0.9v0.9h-0.9zM52.3 130.7h0.9v0.9h-0.9zM75.0 123.9h0.9v0.9h-0.9zM91.9 142.4h0.9v0.9h-0.9zM49.7 137.2h0.9v0.9h-0.9zM56.4 134.2h0.9v0.9h-0.9zM85.8 134.5h0.9v0.9h-0.9zM82.8 130.7h0.9v0.9h-0.9zM82.0 128.6h0.9v0.9h-0.9zM55.2 131.5h0.9v0.9h-0.9zM69.5 132.0h0.9v0.9h-0.9zM46.0 130.2h0.9v0.9h-0.9zM60.2 126.6h0.9v0.9h-0.9zM68.9 131.6h0.9v0.9h-0.9zM50.3 135.5h0.9v0.9h-0.9zM55.9 130.8h0.9v0.9h-0.9zM66.3 133.1h0.9v0.9h-0.9zM46.4 123.9h0.9v0.9h-0.9zM46.8 132.1h0.9v0.9h-0.9zM76.9 132.5h0.9v0.9h-0.9zM44.2 127.6h0.9v0.9h-0.9zM86.5 125.4h0.9v0.9h-0.9zM82.9 134.8h0.9v0.9h-0.9zM82.4 129.4h0.9v0.9h-0.9zM82.4 135.1h0.9v0.9h-0.9zM54.2 135.7h0.9v0.9h-0.9zM48.1 131.5h0.9v0.9h-0.9zM46.5 126.4h0.9v0.9h-0.9zM51.6 132.6h0.9v0.9h-0.9zM82.7 131.6h0.9v0.9h-0.9zM79.8 135.9h0.9v0.9h-0.9zM78.9 131.0h0.9v0.9h-0.9zM49.7 131.3h0.9v0.9h-0.9zM81.0 136.8h0.9v0.9h-0.9zM68.1 138.1h0.9v0.9h-0.9zM55.7 136.3h0.9v0.9h-0.9zM46.2 137.6h0.9v0.9h-0.9zM52.5 135.0h0.9v0.9h-0.9zM66.0 136.4h0.9v0.9h-0.9zM75.5 136.9h0.9v0.9h-0.9zM55.3 134.8h0.9v0.9h-0.9zM59.5 133.3h0.9v0.9h-0.9zM49.0 133.6h0.9v0.9h-0.9zM70.5 143.6h0.9v0.9h-0.9zM58.3 133.1h0.9v0.9h-0.9zM71.8 132.0h0.9v0.9h-0.9zM54.7 131.4h0.9v0.9h-0.9zM68.1 132.9h0.9v0.9h-0.9zM73.9 134.1h0.9v0.9h-0.9zM86.2 128.0h0.9v0.9h-0.9zM79.9 124.3h0.9v0.9h-0.9zM65.5 134.3h0.9v0.9h-0.9zM54.9 125.9h0.9v0.9h-0.9zM59.2 133.6h0.9v0.9h-0.9zM47.3 138.1h0.9v0.9h-0.9zM76.5 140.3h0.9v0.9h-0.9zM53.9 134.6h0.9v0.9h-0.9zM50.9 130.6h0.9v0.9h-0.9zM83.8 127.8h0.9v0.9h-0.9zM77.0 129.5h0.9v0.9h-0.9zM82.1 133.2h0.9v0.9h-0.9zM63.0 123.9h0.9v0.9h-0.9zM42.9 133.3h0.9v0.9h-0.9zM84.9 132.9h0.9v0.9h-0.9zM61.1 135.8h0.9v0.9h-0.9zM77.6 131.5h0.9v0.9h-0.9zM47.9 133.4h0.9v0.9h-0.9zM48.3 129.8h0.9v0.9h-0.9zM68.3 131.0h0.9v0.9h-0.9zM77.9 125.2h0.9v0.9h-0.9zM67.0 133.5h0.9v0.9h-0.9zM70.0 139.8h0.9v0.9h-0.9zM64.9 133.7h0.9v0.9h-0.9zM50.1 134.6h0.9v0.9h-0.9zM48.8 128.7h0.9v0.9h-0.9zM55.1 139.3h0.9v0.9h-0.9zM65.5 129.6h0.9v0.9h-0.9zM52.0 136.5h0.9v0.9h-0.9zM55.4 133.5h0.9v0.9h-0.9zM59.6 128.8h0.9v0.9h-0.9zM63.8 137.5h0.9v0.9h-0.9zM63.2 133.1h0.9v0.9h-0.9zM85.7 133.8h0.9v0.9h-0.9zM76.5 135.0h0.9v0.9h-0.9zM46.7 132.9h0.9v0.9h-0.9zM69.9 131.3h0.9v0.9h-0.9zM52.8 135.1h0.9v0.9h-0.9zM64.0 131.2h0.9v0.9h-0.9zM48.3 133.3h0.9v0.9h-0.9zM49.6 130.1h0.9v0.9h-0.9zM44.2 126.4h0.9v0.9h-0.9zM46.9 130.0h0.9v0.9h-0.9zM70.7 130.8h0.9v0.9h-0.9zM47.7 133.1h0.9v0.9h-0.9zM84.8 138.2h0.9v0.9h-0.9zM80.7 125.6h0.9v0.9h-0.9zM54.1 133.6h0.9v0.9h-0.9zM74.1 123.3h0.9v0.9h-0.9zM86.9 128.4h0.9v0.9h-0.9zM64.3 123.1h0.9v0.9h-0.9zM60.1 124.8h0.9v0.9h-0.9zM56.4 133.7h0.9v0.9h-0.9zM55.1 133.3h0.9v0.9h-0.9zM46.5 132.5h0.9v0.9h-0.9zM67.5 129.5h0.9v0.9h-0.9zM55.9 142.5h0.9v0.9h-0.9zM63.6 132.3h0.9v0.9h-0.9zM75.8 129.2h0.9v0.9h-0.9zM59.1 140.4h0.9v0.9h-0.9zM52.0 135.7h0.9v0.9h-0.9zM92.7 131.4h0.9v0.9h-0.9zM66.9 138.2h0.9v0.9h-0.9zM66.6 133.7h0.9v0.9h-0.9zM54.1 135.8h0.9v0.9h-0.9zM70.7 134.0h0.9v0.9h-0.9zM60.1 128.5h0.9v0.9h-0.9zM75.2 137.3h0.9v0.9h-0.9zM62.3 133.7h0.9v0.9h-0.9zM51.7 128.6h0.9v0.9h-0.9zM87.5 129.6h0.9v0.9h-0.9zM69.0 137.2h0.9v0.9h-0.9zM93.7 131.4h0.9v0.9h-0.9zM60.7 133.2h0.9v0.9h-0.9zM61.0 135.9h0.9v0.9h-0.9zM45.6 133.6h0.9v0.9h-0.9zM61.3 126.3h0.9v0.9h-0.9zM60.1 135.8h0.9v0.9h-0.9zM49.3 137.1h0.9v0.9h-0.9zM66.9 136.8h0.9v0.9h-0.9zM59.6 140.1h0.9v0.9h-0.9zM79.8 134.6h0.9v0.9h-0.9zM64.3 136.4h0.9v0.9h-0.9zM83.9 140.0h0.9v0.9h-0.9zM51.9 131.7h0.9v0.9h-0.9zM55.1 140.6h0.9v0.9h-0.9zM91.1 140.6h0.9v0.9h-0.9zM53.6 136.4h0.9v0.9h-0.9zM63.9 136.7h0.9v0.9h-0.9zM51.9 129.1h0.9v0.9h-0.9zM52.9 138.0h0.9v0.9h-0.9zM77.5 134.4h0.9v0.9h-0.9zM73.6 134.8h0.9v0.9h-0.9zM47.0 133.7h0.9v0.9h-0.9zM65.8 139.0h0.9v0.9h-0.9zM68.8 135.4h0.9v0.9h-0.9zM77.8 129.9h0.9v0.9h-0.9zM46.6 135.1h0.9v0.9h-0.9zM55.6 136.2h0.9v0.9h-0.9zM59.3 129.8h0.9v0.9h-0.9zM49.4 131.1h0.9v0.9h-0.9zM82.2 131.3h0.9v0.9h-0.9zM88.6 130.3h0.9v0.9h-0.9zM53.3 134.5h0.9v0.9h-0.9zM73.6 137.5h0.9v0.9h-0.9zM51.8 141.3h0.9v0.9h-0.9zM86.1 138.3h0.9v0.9h-0.9zM53.6 137.5h0.9v0.9h-0.9zM45.0 138.0h0.9v0.9h-0.9zM56.0 138.9h0.9v0.9h-0.9zM70.3 131.3h0.9v0.9h-0.9zM42.2 136.1h0.9v0.9h-0.9zM83.0 134.4h0.9v0.9h-0.9zM79.8 132.4h0.9v0.9h-0.9zM67.0 131.0h0.9v0.9h-0.9zM77.9 130.8h0.9v0.9h-0.9zM70.1 131.8h0.9v0.9h-0.9zM79.5 127.6h0.9v0.9h-0.9zM73.4 135.3h0.9v0.9h-0.9zM63.0 132.9h0.9v0.9h-0.9zM52.0 133.5h0.9v0.9h-0.9zM45.4 134.5h0.9v0.9h-0.9zM55.6 136.2h0.9v0.9h-0.9zM63.5 130.4h0.9v0.9h-0.9zM45.3 132.5h0.9v0.9h-0.9zM82.8 125.9h0.9v0.9h-0.9zM52.9 123.2h0.9v0.9h-0.9zM60.5 124.5h0.9v0.9h-0.9zM54.4 139.8h0.9v0.9h-0.9zM56.1 125.0h0.9v0.9h-0.9zM68.6 135.1h0.9v0.9h-0.9zM50.3 139.5h0.9v0.9h-0.9zM79.1 131.0h0.9v0.9h-0.9zM54.1 140.2h0.9v0.9h-0.9zM61.7 141.1h0.9v0.9h-0.9zM71.5 137.2h0.9v0.9h-0.9zM59.6 143.4h0.9v0.9h-0.9zM76.2 135.7h0.9v0.9h-0.9zM56.9 129.8h0.9v0.9h-0.9zM58.0 135.3h0.9v0.9h-0.9zM74.9 131.1h0.9v0.9h-0.9zM87.9 127.3h0.9v0.9h-0.9zM84.5 127.4h0.9v0.9h-0.9zM63.2 143.2h0.9v0.9h-0.9zM70.1 130.6h0.9v0.9h-0.9zM55.8 132.9h0.9v0.9h-0.9zM74.5 130.1h0.9v0.9h-0.9zM56.3 133.6h0.9v0.9h-0.9zM72.9 132.0h0.9v0.9h-0.9zM81.4 131.2h0.9v0.9h-0.9zM52.0 127.7h0.9v0.9h-0.9zM59.4 126.8h0.9v0.9h-0.9zM54.1 129.8h0.9v0.9h-0.9zM84.5 134.3h0.9v0.9h-0.9zM65.2 142.2h0.9v0.9h-0.9zM69.0 137.7h0.9v0.9h-0.9zM84.5 141.1h0.9v0.9h-0.9zM50.6 135.2h0.9v0.9h-0.9z" fill="#000" fill-opacity="0.64" filter="url(#bd)"/>
<line x1="41.2" y1="119.9" x2="41.2" y2="145.3" stroke="#000" stroke-width="1.1"/>
<rect x="21.60" y="163.90" width="76.40" height="25.40" fill="#fff" stroke="#000" stroke-width="1.1"/>
<rect x="23.8" y="168.3" width="14.70" height="15.70" rx="4.59" fill="#000" filter="url(#bl)"/>
<path d="M23.9 182.7h0.9v0.9h-0.9zM22.6 175.9h0.9v0.9h-0.9zM38.7 169.6h0.9v0.9h-0.9zM25.4 184.0h0.9v0.9h-0.9zM23.4 181.7h0.9v0.9h-0.9zM34.3 184.1h0.9v0.9h-0.9zM29.6 167.1h0.9v0.9h-0.9zM27.2 168.3h0.9v0.9h-0.9zM38.6 176.6h0.9v0.9h-0.9zM26.8 183.7h0.9v0.9h-0.9zM24.4 182.3h0.9v0.9h-0.9zM26.7 183.7h0.9v0.9h-0.9zM37.3 168.7h0.9v0.9h-0.9zM24.6 169.9h0.9v0.9h-0.9zM23.6 178.8h0.9v0.9h-0.9zM23.3 170.1h0.9v0.9h-0.9zM28.7 168.2h0.9v0.9h-0.9zM25.6 167.4h0.9v0.9h-0.9zM23.5 175.9h0.9v0.9h-0.9zM37.7 183.5h0.9v0.9h-0.9zM38.6 178.8h0.9v0.9h-0.9zM35.5 183.9h0.9v0.9h-0.9zM23.1 170.0h0.9v0.9h-0.9zM23.6 173.2h0.9v0.9h-0.9zM32.9 168.2h0.9v0.9h-0.9zM25.3 183.6h0.9v0.9h-0.9zM27.7 168.4h0.9v0.9h-0.9zM23.0 172.3h0.9v0.9h-0.9zM29.5 185.1h0.9v0.9h-0.9zM35.9 168.6h0.9v0.9h-0.9zM31.2 168.4h0.9v0.9h-0.9zM22.6 175.4h0.9v0.9h-0.9zM37.2 183.9h0.9v0.9h-0.9zM35.0 184.2h0.9v0.9h-0.9zM27.0 168.2h0.9v0.9h-0.9zM33.4 185.0h0.9v0.9h-0.9zM36.5 183.5h0.9v0.9h-0.9zM23.9 180.3h0.9v0.9h-0.9zM32.4 184.2h0.9v0.9h-0.9zM22.0 177.3h0.9v0.9h-0.9zM27.4 184.5h0.9v0.9h-0.9zM29.6 168.4h0.9v0.9h-0.9zM37.0 168.8h0.9v0.9h-0.9zM39.1 170.3h0.9v0.9h-0.9zM23.3 180.3h0.9v0.9h-0.9zM34.7 184.3h0.9v0.9h-0.9zM22.4 179.6h0.9v0.9h-0.9zM23.9 176.9h0.9v0.9h-0.9zM38.6 182.5h0.9v0.9h-0.9zM23.3 174.8h0.9v0.9h-0.9zM25.8 169.0h0.9v0.9h-0.9zM22.9 171.9h0.9v0.9h-0.9zM31.1 167.8h0.9v0.9h-0.9zM38.3 172.3h0.9v0.9h-0.9zM30.5 184.9h0.9v0.9h-0.9zM32.9 168.4h0.9v0.9h-0.9zM33.5 167.5h0.9v0.9h-0.9zM23.9 172.8h0.9v0.9h-0.9zM26.5 168.7h0.9v0.9h-0.9zM35.6 168.4h0.9v0.9h-0.9zM32.0 168.0h0.9v0.9h-0.9zM24.4 181.7h0.9v0.9h-0.9zM28.5 185.0h0.9v0.9h-0.9zM37.8 168.9h0.9v0.9h-0.9zM38.4 173.5h0.9v0.9h-0.9zM36.1 168.8h0.9v0.9h-0.9zM23.9 169.8h0.9v0.9h-0.9zM38.5 177.0h0.9v0.9h-0.9zM31.7 167.7h0.9v0.9h-0.9zM23.9 171.9h0.9v0.9h-0.9zM29.6 168.2h0.9v0.9h-0.9zM25.9 167.6h0.9v0.9h-0.9zM23.9 174.5h0.9v0.9h-0.9zM23.9 172.6h0.9v0.9h-0.9zM37.3 182.8h0.9v0.9h-0.9zM38.2 182.6h0.9v0.9h-0.9zM34.5 184.0h0.9v0.9h-0.9zM25.8 183.5h0.9v0.9h-0.9zM32.3 184.3h0.9v0.9h-0.9zM27.4 168.2h0.9v0.9h-0.9zM25.3 184.8h0.9v0.9h-0.9zM26.6 168.3h0.9v0.9h-0.9zM24.3 182.3h0.9v0.9h-0.9zM28.6 184.0h0.9v0.9h-0.9zM38.4 171.2h0.9v0.9h-0.9zM23.3 179.1h0.9v0.9h-0.9zM38.8 179.6h0.9v0.9h-0.9zM25.6 183.9h0.9v0.9h-0.9zM38.0 170.5h0.9v0.9h-0.9zM37.4 168.3h0.9v0.9h-0.9zM27.5 168.2h0.9v0.9h-0.9zM23.7 174.8h0.9v0.9h-0.9zM33.5 168.1h0.9v0.9h-0.9zM28.2 184.7h0.9v0.9h-0.9zM29.6 168.4h0.9v0.9h-0.9zM37.4 168.5h0.9v0.9h-0.9zM39.5 173.6h0.9v0.9h-0.9zM33.0 184.5h0.9v0.9h-0.9zM23.1 175.4h0.9v0.9h-0.9zM39.1 177.1h0.9v0.9h-0.9zM26.9 167.2h0.9v0.9h-0.9zM25.7 183.7h0.9v0.9h-0.9zM23.9 175.7h0.9v0.9h-0.9zM24.3 181.8h0.9v0.9h-0.9zM25.4 183.6h0.9v0.9h-0.9zM22.9 179.6h0.9v0.9h-0.9zM23.5 179.7h0.9v0.9h-0.9zM25.1 168.4h0.9v0.9h-0.9zM23.4 180.8h0.9v0.9h-0.9zM39.1 176.9h0.9v0.9h-0.9zM39.5 170.9h0.9v0.9h-0.9zM23.1 173.2h0.9v0.9h-0.9zM33.0 184.0h0.9v0.9h-0.9zM38.7 179.0h0.9v0.9h-0.9zM24.8 183.7h0.9v0.9h-0.9zM34.7 167.5h0.9v0.9h-0.9zM26.4 183.7h0.9v0.9h-0.9zM26.2 168.7h0.9v0.9h-0.9zM32.6 168.3h0.9v0.9h-0.9zM38.4 178.5h0.9v0.9h-0.9zM23.8 169.9h0.9v0.9h-0.9zM29.2 168.1h0.9v0.9h-0.9zM24.5 168.5h0.9v0.9h-0.9zM29.4 167.8h0.9v0.9h-0.9zM38.6 171.0h0.9v0.9h-0.9zM38.5 175.4h0.9v0.9h-0.9zM28.1 184.1h0.9v0.9h-0.9zM24.5 169.9h0.9v0.9h-0.9zM26.6 168.3h0.9v0.9h-0.9zM36.4 168.7h0.9v0.9h-0.9zM32.5 183.9h0.9v0.9h-0.9zM36.9 183.9h0.9v0.9h-0.9zM38.6 175.6h0.9v0.9h-0.9zM24.3 181.8h0.9v0.9h-0.9zM39.2 181.1h0.9v0.9h-0.9zM31.0 168.3h0.9v0.9h-0.9zM23.9 169.7h0.9v0.9h-0.9zM23.7 172.8h0.9v0.9h-0.9zM33.3 184.1h0.9v0.9h-0.9zM38.6 173.8h0.9v0.9h-0.9zM28.5 168.0h0.9v0.9h-0.9zM26.9 185.0h0.9v0.9h-0.9zM38.9 176.6h0.9v0.9h-0.9zM34.4 167.8h0.9v0.9h-0.9zM25.4 167.9h0.9v0.9h-0.9zM36.2 184.2h0.9v0.9h-0.9zM31.4 184.1h0.9v0.9h-0.9zM25.9 184.4h0.9v0.9h-0.9zM39.2 173.3h0.9v0.9h-0.9zM23.1 176.9h0.9v0.9h-0.9zM24.1 169.6h0.9v0.9h-0.9zM38.4 179.4h0.9v0.9h-0.9zM38.4 172.0h0.9v0.9h-0.9zM34.5 184.0h0.9v0.9h-0.9zM23.5 178.6h0.9v0.9h-0.9zM23.7 176.6h0.9v0.9h-0.9zM35.8 184.1h0.9v0.9h-0.9zM39.6 173.3h0.9v0.9h-0.9zM25.7 184.2h0.9v0.9h-0.9zM33.3 184.4h0.9v0.9h-0.9zM38.7 173.4h0.9v0.9h-0.9zM36.3 184.9h0.9v0.9h-0.9zM31.0 184.6h0.9v0.9h-0.9zM31.3 184.4h0.9v0.9h-0.9zM30.1 183.9h0.9v0.9h-0.9zM29.6 168.3h0.9v0.9h-0.9zM24.1 181.6h0.9v0.9h-0.9zM24.7 182.6h0.9v0.9h-0.9zM25.6 183.9h0.9v0.9h-0.9zM35.4 184.8h0.9v0.9h-0.9zM26.2 183.7h0.9v0.9h-0.9zM37.7 182.7h0.9v0.9h-0.9zM38.7 178.3h0.9v0.9h-0.9zM37.6 168.2h0.9v0.9h-0.9zM33.0 184.0h0.9v0.9h-0.9zM35.9 167.8h0.9v0.9h-0.9zM40.1 172.8h0.9v0.9h-0.9zM23.8 172.7h0.9v0.9h-0.9zM23.8 173.1h0.9v0.9h-0.9zM23.9 179.3h0.9v0.9h-0.9zM38.6 175.8h0.9v0.9h-0.9zM24.9 168.2h0.9v0.9h-0.9zM39.0 174.1h0.9v0.9h-0.9zM36.0 183.7h0.9v0.9h-0.9zM23.8 175.7h0.9v0.9h-0.9zM24.7 169.2h0.9v0.9h-0.9zM35.7 168.4h0.9v0.9h-0.9zM39.1 176.4h0.9v0.9h-0.9zM38.8 178.4h0.9v0.9h-0.9zM38.6 176.2h0.9v0.9h-0.9zM25.3 168.8h0.9v0.9h-0.9zM31.3 167.5h0.9v0.9h-0.9zM37.4 182.5h0.9v0.9h-0.9zM23.6 171.0h0.9v0.9h-0.9zM38.8 173.2h0.9v0.9h-0.9zM34.8 184.0h0.9v0.9h-0.9zM36.0 184.4h0.9v0.9h-0.9zM33.1 184.2h0.9v0.9h-0.9zM23.7 181.3h0.9v0.9h-0.9zM24.3 170.3h0.9v0.9h-0.9zM23.8 175.2h0.9v0.9h-0.9zM36.9 183.3h0.9v0.9h-0.9zM35.3 167.2h0.9v0.9h-0.9zM32.3 184.1h0.9v0.9h-0.9zM32.2 168.3h0.9v0.9h-0.9zM28.0 183.9h0.9v0.9h-0.9zM34.0 184.6h0.9v0.9h-0.9zM31.3 168.1h0.9v0.9h-0.9zM23.6 172.3h0.9v0.9h-0.9zM38.7 174.7h0.9v0.9h-0.9zM23.6 178.2h0.9v0.9h-0.9zM37.2 183.0h0.9v0.9h-0.9zM25.1 183.5h0.9v0.9h-0.9zM38.5 175.9h0.9v0.9h-0.9zM31.3 184.6h0.9v0.9h-0.9zM28.6 168.4h0.9v0.9h-0.9zM31.7 185.3h0.9v0.9h-0.9zM29.4 184.3h0.9v0.9h-0.9zM25.0 184.3h0.9v0.9h-0.9zM38.7 171.3h0.9v0.9h-0.9z" fill="#000" fill-opacity="0.6"/>
<path d="M82.3 173.5h0.9v0.9h-0.9zM61.4 179.2h0.9v0.9h-0.9zM71.4 173.9h0.9v0.9h-0.9zM62.9 178.4h0.9v0.9h-0.9zM72.4 177.4h0.9v0.9h-0.9zM73.6 172.6h0.9v0.9h-0.9zM66.8 179.3h0.9v0.9h-0.9zM92.5 174.2h0.9v0.9h-0.9zM71.6 182.7h0.9v0.9h-0.9zM47.2 174.5h0.9v0.9h-0.9zM85.7 174.6h0.9v0.9h-0.9zM64.2 168.8h0.9v0.9h-0.9zM68.9 183.5h0.9v0.9h-0.9zM70.0 182.9h0.9v0.9h-0.9zM46.2 169.0h0.9v0.9h-0.9zM51.7 181.6h0.9v0.9h-0.9zM43.8 174.5h0.9v0.9h-0.9zM73.7 176.5h0.9v0.9h-0.9zM81.3 178.0h0.9v0.9h-0.9zM61.2 174.8h0.9v0.9h-0.9zM78.5 183.9h0.9v0.9h-0.9zM64.1 176.9h0.9v0.9h-0.9zM62.2 184.6h0.9v0.9h-0.9zM43.8 177.5h0.9v0.9h-0.9zM60.7 171.4h0.9v0.9h-0.9zM48.4 172.9h0.9v0.9h-0.9zM45.3 170.3h0.9v0.9h-0.9zM71.2 177.3h0.9v0.9h-0.9zM80.6 179.9h0.9v0.9h-0.9zM75.4 178.6h0.9v0.9h-0.9zM79.0 175.6h0.9v0.9h-0.9zM56.1 172.0h0.9v0.9h-0.9zM84.4 182.2h0.9v0.9h-0.9zM84.2 178.3h0.9v0.9h-0.9zM61.3 185.2h0.9v0.9h-0.9zM76.9 174.5h0.9v0.9h-0.9zM63.8 179.5h0.9v0.9h-0.9zM46.9 174.4h0.9v0.9h-0.9zM50.8 171.6h0.9v0.9h-0.9zM62.3 181.7h0.9v0.9h-0.9zM65.8 177.0h0.9v0.9h-0.9zM63.6 172.5h0.9v0.9h-0.9zM71.9 175.9h0.9v0.9h-0.9zM48.8 178.6h0.9v0.9h-0.9zM56.6 170.3h0.9v0.9h-0.9zM65.1 182.1h0.9v0.9h-0.9zM66.3 179.4h0.9v0.9h-0.9zM66.3 175.4h0.9v0.9h-0.9zM57.7 181.1h0.9v0.9h-0.9zM70.2 184.2h0.9v0.9h-0.9zM74.9 180.0h0.9v0.9h-0.9zM81.9 179.1h0.9v0.9h-0.9zM48.3 182.0h0.9v0.9h-0.9zM81.1 184.5h0.9v0.9h-0.9zM42.4 169.9h0.9v0.9h-0.9zM51.4 173.9h0.9v0.9h-0.9zM58.0 174.6h0.9v0.9h-0.9zM75.0 175.9h0.9v0.9h-0.9zM67.3 170.5h0.9v0.9h-0.9zM70.0 180.7h0.9v0.9h-0.9zM87.0 179.4h0.9v0.9h-0.9zM58.9 176.0h0.9v0.9h-0.9zM51.5 180.6h0.9v0.9h-0.9zM68.3 174.4h0.9v0.9h-0.9zM69.1 176.6h0.9v0.9h-0.9zM50.3 175.7h0.9v0.9h-0.9zM45.4 172.2h0.9v0.9h-0.9zM74.7 177.1h0.9v0.9h-0.9zM88.2 182.3h0.9v0.9h-0.9zM79.0 178.0h0.9v0.9h-0.9zM65.3 181.9h0.9v0.9h-0.9zM70.6 174.0h0.9v0.9h-0.9zM84.3 179.5h0.9v0.9h-0.9zM82.8 172.6h0.9v0.9h-0.9zM51.0 174.2h0.9v0.9h-0.9zM81.7 175.5h0.9v0.9h-0.9zM74.0 183.1h0.9v0.9h-0.9zM54.1 178.1h0.9v0.9h-0.9zM61.9 178.1h0.9v0.9h-0.9zM42.5 181.3h0.9v0.9h-0.9zM68.4 182.8h0.9v0.9h-0.9zM62.5 179.1h0.9v0.9h-0.9zM82.6 175.6h0.9v0.9h-0.9zM62.2 170.1h0.9v0.9h-0.9zM64.6 176.2h0.9v0.9h-0.9zM73.1 175.9h0.9v0.9h-0.9zM63.1 173.5h0.9v0.9h-0.9zM65.0 175.2h0.9v0.9h-0.9zM54.1 168.2h0.9v0.9h-0.9zM61.8 182.2h0.9v0.9h-0.9zM65.2 171.7h0.9v0.9h-0.9zM80.3 175.4h0.9v0.9h-0.9zM49.9 176.9h0.9v0.9h-0.9zM74.9 170.8h0.9v0.9h-0.9zM73.6 181.2h0.9v0.9h-0.9zM43.0 177.6h0.9v0.9h-0.9zM66.5 175.3h0.9v0.9h-0.9zM50.9 170.2h0.9v0.9h-0.9zM67.3 174.7h0.9v0.9h-0.9zM66.3 168.9h0.9v0.9h-0.9zM70.2 182.8h0.9v0.9h-0.9zM63.8 176.5h0.9v0.9h-0.9zM73.8 174.4h0.9v0.9h-0.9zM62.0 172.3h0.9v0.9h-0.9zM42.5 176.1h0.9v0.9h-0.9zM74.9 183.8h0.9v0.9h-0.9zM95.7 174.8h0.9v0.9h-0.9zM47.4 171.9h0.9v0.9h-0.9zM89.3 172.0h0.9v0.9h-0.9zM47.3 177.1h0.9v0.9h-0.9zM78.4 178.6h0.9v0.9h-0.9zM55.0 184.6h0.9v0.9h-0.9zM63.7 175.7h0.9v0.9h-0.9zM66.0 174.7h0.9v0.9h-0.9zM82.4 175.5h0.9v0.9h-0.9zM61.4 179.5h0.9v0.9h-0.9zM63.7 169.4h0.9v0.9h-0.9zM70.0 180.1h0.9v0.9h-0.9zM44.6 175.0h0.9v0.9h-0.9zM82.6 176.4h0.9v0.9h-0.9zM69.2 173.1h0.9v0.9h-0.9zM86.7 183.4h0.9v0.9h-0.9zM49.0 182.2h0.9v0.9h-0.9zM73.9 175.6h0.9v0.9h-0.9zM56.6 177.6h0.9v0.9h-0.9zM48.9 181.7h0.9v0.9h-0.9zM73.7 174.8h0.9v0.9h-0.9zM74.2 176.4h0.9v0.9h-0.9zM61.7 170.9h0.9v0.9h-0.9zM60.7 175.2h0.9v0.9h-0.9zM45.7 173.7h0.9v0.9h-0.9zM66.8 174.8h0.9v0.9h-0.9zM57.7 172.4h0.9v0.9h-0.9zM51.2 168.1h0.9v0.9h-0.9zM71.5 171.5h0.9v0.9h-0.9zM71.2 173.0h0.9v0.9h-0.9zM78.3 180.7h0.9v0.9h-0.9zM80.8 176.2h0.9v0.9h-0.9zM77.9 174.4h0.9v0.9h-0.9zM57.6 178.2h0.9v0.9h-0.9zM87.2 181.4h0.9v0.9h-0.9zM67.9 173.6h0.9v0.9h-0.9zM72.0 174.6h0.9v0.9h-0.9zM50.6 177.4h0.9v0.9h-0.9zM61.2 177.4h0.9v0.9h-0.9zM64.1 172.8h0.9v0.9h-0.9zM50.3 175.6h0.9v0.9h-0.9zM78.1 177.8h0.9v0.9h-0.9zM53.4 179.6h0.9v0.9h-0.9zM79.5 174.5h0.9v0.9h-0.9zM68.9 180.5h0.9v0.9h-0.9zM75.6 179.5h0.9v0.9h-0.9zM48.0 170.1h0.9v0.9h-0.9zM63.2 180.6h0.9v0.9h-0.9zM53.2 178.8h0.9v0.9h-0.9zM72.4 171.7h0.9v0.9h-0.9zM73.6 185.7h0.9v0.9h-0.9zM61.5 171.1h0.9v0.9h-0.9zM77.3 174.0h0.9v0.9h-0.9zM43.0 172.4h0.9v0.9h-0.9zM78.1 181.2h0.9v0.9h-0.9zM84.6 181.2h0.9v0.9h-0.9zM72.5 176.9h0.9v0.9h-0.9zM79.5 183.9h0.9v0.9h-0.9zM54.7 176.8h0.9v0.9h-0.9zM70.7 182.9h0.9v0.9h-0.9zM51.8 175.6h0.9v0.9h-0.9zM71.1 166.3h0.9v0.9h-0.9zM77.2 175.9h0.9v0.9h-0.9zM79.6 173.6h0.9v0.9h-0.9zM85.9 179.3h0.9v0.9h-0.9zM50.7 175.1h0.9v0.9h-0.9zM91.1 174.3h0.9v0.9h-0.9zM84.3 173.8h0.9v0.9h-0.9zM62.2 174.9h0.9v0.9h-0.9zM85.8 178.0h0.9v0.9h-0.9zM60.4 179.9h0.9v0.9h-0.9zM49.7 174.7h0.9v0.9h-0.9zM64.3 176.2h0.9v0.9h-0.9zM85.7 180.1h0.9v0.9h-0.9zM84.7 174.4h0.9v0.9h-0.9zM76.6 182.2h0.9v0.9h-0.9zM70.9 181.7h0.9v0.9h-0.9zM52.6 176.9h0.9v0.9h-0.9zM85.3 177.6h0.9v0.9h-0.9zM69.8 173.5h0.9v0.9h-0.9zM58.2 177.8h0.9v0.9h-0.9zM74.9 175.8h0.9v0.9h-0.9zM84.1 169.4h0.9v0.9h-0.9zM59.2 172.0h0.9v0.9h-0.9zM59.3 167.5h0.9v0.9h-0.9zM47.2 179.6h0.9v0.9h-0.9zM85.7 179.7h0.9v0.9h-0.9zM50.3 171.4h0.9v0.9h-0.9zM93.0 178.6h0.9v0.9h-0.9zM63.0 187.3h0.9v0.9h-0.9zM73.6 182.6h0.9v0.9h-0.9zM66.8 170.8h0.9v0.9h-0.9zM69.1 176.3h0.9v0.9h-0.9zM55.7 170.0h0.9v0.9h-0.9zM58.4 168.2h0.9v0.9h-0.9zM60.5 176.6h0.9v0.9h-0.9zM50.2 185.0h0.9v0.9h-0.9zM44.4 180.6h0.9v0.9h-0.9zM68.0 176.9h0.9v0.9h-0.9zM70.7 175.4h0.9v0.9h-0.9zM60.7 176.7h0.9v0.9h-0.9zM64.9 180.8h0.9v0.9h-0.9zM83.1 172.2h0.9v0.9h-0.9zM84.0 170.6h0.9v0.9h-0.9zM56.3 183.5h0.9v0.9h-0.9zM68.6 178.0h0.9v0.9h-0.9zM82.4 185.4h0.9v0.9h-0.9zM55.1 176.2h0.9v0.9h-0.9zM72.6 183.7h0.9v0.9h-0.9zM74.6 174.9h0.9v0.9h-0.9zM71.1 179.3h0.9v0.9h-0.9zM72.3 184.0h0.9v0.9h-0.9zM66.6 181.0h0.9v0.9h-0.9zM65.5 174.5h0.9v0.9h-0.9zM82.4 182.3h0.9v0.9h-0.9zM73.2 174.5h0.9v0.9h-0.9zM58.5 169.4h0.9v0.9h-0.9zM74.9 179.8h0.9v0.9h-0.9zM80.0 184.3h0.9v0.9h-0.9zM79.7 181.8h0.9v0.9h-0.9zM70.9 171.6h0.9v0.9h-0.9zM64.9 180.2h0.9v0.9h-0.9zM59.7 178.7h0.9v0.9h-0.9zM53.7 173.0h0.9v0.9h-0.9zM68.7 181.2h0.9v0.9h-0.9zM76.1 181.6h0.9v0.9h-0.9zM67.8 178.9h0.9v0.9h-0.9zM44.7 166.4h0.9v0.9h-0.9zM52.3 168.4h0.9v0.9h-0.9zM82.9 182.9h0.9v0.9h-0.9zM65.5 179.9h0.9v0.9h-0.9zM68.5 179.0h0.9v0.9h-0.9zM77.8 176.8h0.9v0.9h-0.9zM84.7 180.5h0.9v0.9h-0.9zM58.9 173.3h0.9v0.9h-0.9zM83.3 177.2h0.9v0.9h-0.9zM57.3 171.7h0.9v0.9h-0.9zM81.7 179.5h0.9v0.9h-0.9zM73.6 175.6h0.9v0.9h-0.9zM47.4 178.4h0.9v0.9h-0.9zM87.1 182.2h0.9v0.9h-0.9zM53.7 171.5h0.9v0.9h-0.9zM79.3 186.1h0.9v0.9h-0.9zM50.7 169.8h0.9v0.9h-0.9zM69.0 178.8h0.9v0.9h-0.9zM50.7 179.4h0.9v0.9h-0.9zM60.3 181.4h0.9v0.9h-0.9zM55.4 165.6h0.9v0.9h-0.9zM87.1 183.4h0.9v0.9h-0.9zM52.6 180.2h0.9v0.9h-0.9zM70.9 183.4h0.9v0.9h-0.9zM80.5 168.5h0.9v0.9h-0.9zM45.0 171.0h0.9v0.9h-0.9zM80.9 177.9h0.9v0.9h-0.9zM70.4 182.9h0.9v0.9h-0.9zM82.7 175.5h0.9v0.9h-0.9zM79.1 180.5h0.9v0.9h-0.9zM67.8 170.3h0.9v0.9h-0.9zM56.8 171.0h0.9v0.9h-0.9zM82.0 176.4h0.9v0.9h-0.9zM56.4 175.8h0.9v0.9h-0.9zM48.1 178.7h0.9v0.9h-0.9zM54.7 174.3h0.9v0.9h-0.9zM82.5 182.5h0.9v0.9h-0.9zM91.3 172.6h0.9v0.9h-0.9zM61.7 174.5h0.9v0.9h-0.9zM65.3 178.4h0.9v0.9h-0.9zM82.5 176.9h0.9v0.9h-0.9zM75.0 179.4h0.9v0.9h-0.9zM83.0 187.0h0.9v0.9h-0.9zM55.3 174.8h0.9v0.9h-0.9zM57.2 172.3h0.9v0.9h-0.9zM85.7 175.1h0.9v0.9h-0.9zM52.7 183.6h0.9v0.9h-0.9zM55.1 175.0h0.9v0.9h-0.9zM76.6 180.5h0.9v0.9h-0.9zM64.0 181.6h0.9v0.9h-0.9zM64.1 181.0h0.9v0.9h-0.9zM61.1 171.9h0.9v0.9h-0.9zM70.8 181.3h0.9v0.9h-0.9zM57.9 179.2h0.9v0.9h-0.9zM74.8 179.7h0.9v0.9h-0.9zM61.1 180.4h0.9v0.9h-0.9zM77.5 175.4h0.9v0.9h-0.9zM72.4 176.9h0.9v0.9h-0.9zM80.7 176.0h0.9v0.9h-0.9zM61.7 179.3h0.9v0.9h-0.9zM76.7 174.9h0.9v0.9h-0.9zM51.4 176.5h0.9v0.9h-0.9zM71.4 172.3h0.9v0.9h-0.9zM71.6 176.6h0.9v0.9h-0.9zM47.3 172.7h0.9v0.9h-0.9zM70.3 176.5h0.9v0.9h-0.9zM75.0 178.2h0.9v0.9h-0.9zM55.4 174.4h0.9v0.9h-0.9zM59.8 174.8h0.9v0.9h-0.9zM80.8 169.2h0.9v0.9h-0.9zM68.4 181.6h0.9v0.9h-0.9zM47.7 171.6h0.9v0.9h-0.9zM62.8 175.0h0.9v0.9h-0.9zM62.9 172.5h0.9v0.9h-0.9zM80.8 182.7h0.9v0.9h-0.9zM65.7 172.5h0.9v0.9h-0.9zM70.8 179.3h0.9v0.9h-0.9zM59.3 180.9h0.9v0.9h-0.9zM83.9 185.9h0.9v0.9h-0.9zM69.7 182.2h0.9v0.9h-0.9zM47.1 177.0h0.9v0.9h-0.9zM73.9 172.2h0.9v0.9h-0.9zM82.1 184.1h0.9v0.9h-0.9zM66.0 181.7h0.9v0.9h-0.9zM89.5 183.0h0.9v0.9h-0.9zM48.6 177.9h0.9v0.9h-0.9zM71.5 177.5h0.9v0.9h-0.9zM73.9 175.2h0.9v0.9h-0.9zM46.0 178.9h0.9v0.9h-0.9zM77.7 183.5h0.9v0.9h-0.9zM63.2 171.6h0.9v0.9h-0.9zM72.0 181.3h0.9v0.9h-0.9zM72.7 178.4h0.9v0.9h-0.9zM72.6 181.2h0.9v0.9h-0.9zM46.5 179.1h0.9v0.9h-0.9zM80.7 182.8h0.9v0.9h-0.9zM67.6 180.6h0.9v0.9h-0.9zM45.2 168.0h0.9v0.9h-0.9zM46.7 177.8h0.9v0.9h-0.9zM64.4 176.6h0.9v0.9h-0.9zM51.3 169.9h0.9v0.9h-0.9zM82.1 181.6h0.9v0.9h-0.9zM53.3 169.0h0.9v0.9h-0.9zM76.7 181.8h0.9v0.9h-0.9zM60.2 183.3h0.9v0.9h-0.9zM69.9 174.8h0.9v0.9h-0.9zM78.7 182.1h0.9v0.9h-0.9zM65.6 178.5h0.9v0.9h-0.9zM52.2 177.8h0.9v0.9h-0.9zM65.5 170.6h0.9v0.9h-0.9zM51.0 177.4h0.9v0.9h-0.9zM48.7 175.1h0.9v0.9h-0.9zM89.4 182.6h0.9v0.9h-0.9zM79.0 178.2h0.9v0.9h-0.9zM77.2 182.7h0.9v0.9h-0.9zM49.9 175.9h0.9v0.9h-0.9zM67.6 179.8h0.9v0.9h-0.9zM79.5 184.2h0.9v0.9h-0.9zM64.7 177.2h0.9v0.9h-0.9zM64.2 180.7h0.9v0.9h-0.9zM72.1 178.3h0.9v0.9h-0.9zM49.0 176.8h0.9v0.9h-0.9zM58.1 173.4h0.9v0.9h-0.9zM56.2 178.8h0.9v0.9h-0.9zM49.3 180.0h0.9v0.9h-0.9zM61.8 175.8h0.9v0.9h-0.9zM64.8 179.9h0.9v0.9h-0.9zM78.1 179.9h0.9v0.9h-0.9zM81.4 173.7h0.9v0.9h-0.9zM67.5 178.3h0.9v0.9h-0.9zM84.5 184.6h0.9v0.9h-0.9zM67.5 174.7h0.9v0.9h-0.9zM54.8 167.5h0.9v0.9h-0.9zM79.8 179.2h0.9v0.9h-0.9zM50.0 171.9h0.9v0.9h-0.9zM75.4 186.0h0.9v0.9h-0.9zM71.2 177.1h0.9v0.9h-0.9zM50.8 172.1h0.9v0.9h-0.9zM78.0 179.2h0.9v0.9h-0.9zM82.3 176.2h0.9v0.9h-0.9zM57.9 171.8h0.9v0.9h-0.9zM68.8 176.7h0.9v0.9h-0.9zM73.8 174.1h0.9v0.9h-0.9zM70.9 182.9h0.9v0.9h-0.9zM55.2 170.3h0.9v0.9h-0.9zM65.9 176.3h0.9v0.9h-0.9zM76.6 174.9h0.9v0.9h-0.9zM76.1 171.9h0.9v0.9h-0.9zM68.8 184.2h0.9v0.9h-0.9zM80.8 169.3h0.9v0.9h-0.9zM50.2 181.0h0.9v0.9h-0.9zM51.5 168.8h0.9v0.9h-0.9zM74.8 178.1h0.9v0.9h-0.9zM49.8 184.5h0.9v0.9h-0.9zM61.5 166.9h0.9v0.9h-0.9zM73.6 171.6h0.9v0.9h-0.9zM78.7 178.9h0.9v0.9h-0.9zM53.4 172.8h0.9v0.9h-0.9zM75.3 177.6h0.9v0.9h-0.9zM78.4 174.0h0.9v0.9h-0.9zM78.7 178.7h0.9v0.9h-0.9zM79.4 184.7h0.9v0.9h-0.9zM68.8 175.3h0.9v0.9h-0.9zM60.5 176.6h0.9v0.9h-0.9zM56.6 180.7h0.9v0.9h-0.9zM43.7 182.5h0.9v0.9h-0.9zM75.9 175.3h0.9v0.9h-0.9zM58.2 177.0h0.9v0.9h-0.9zM83.1 176.3h0.9v0.9h-0.9zM59.5 173.1h0.9v0.9h-0.9zM72.0 175.7h0.9v0.9h-0.9zM65.3 173.8h0.9v0.9h-0.9zM69.5 169.6h0.9v0.9h-0.9zM77.3 169.4h0.9v0.9h-0.9zM51.8 171.8h0.9v0.9h-0.9zM73.7 178.1h0.9v0.9h-0.9zM76.9 183.2h0.9v0.9h-0.9zM60.2 173.7h0.9v0.9h-0.9zM63.5 175.6h0.9v0.9h-0.9zM62.8 179.1h0.9v0.9h-0.9zM81.2 181.7h0.9v0.9h-0.9zM55.4 174.9h0.9v0.9h-0.9zM48.2 174.3h0.9v0.9h-0.9zM67.7 184.9h0.9v0.9h-0.9zM80.4 176.9h0.9v0.9h-0.9zM83.1 176.6h0.9v0.9h-0.9zM66.9 169.8h0.9v0.9h-0.9zM69.0 178.9h0.9v0.9h-0.9zM72.8 176.3h0.9v0.9h-0.9zM57.4 183.9h0.9v0.9h-0.9zM78.6 176.7h0.9v0.9h-0.9zM78.5 181.7h0.9v0.9h-0.9zM73.8 181.6h0.9v0.9h-0.9zM76.5 185.0h0.9v0.9h-0.9zM76.3 172.2h0.9v0.9h-0.9zM84.3 185.6h0.9v0.9h-0.9zM70.7 177.3h0.9v0.9h-0.9zM45.0 173.7h0.9v0.9h-0.9zM72.2 176.1h0.9v0.9h-0.9zM75.4 176.1h0.9v0.9h-0.9zM67.9 175.4h0.9v0.9h-0.9zM52.3 177.2h0.9v0.9h-0.9zM77.0 178.2h0.9v0.9h-0.9zM47.8 170.4h0.9v0.9h-0.9zM46.0 174.0h0.9v0.9h-0.9zM75.2 187.6h0.9v0.9h-0.9zM83.7 180.4h0.9v0.9h-0.9zM78.9 176.5h0.9v0.9h-0.9zM77.0 185.3h0.9v0.9h-0.9zM71.7 173.9h0.9v0.9h-0.9zM62.7 175.6h0.9v0.9h-0.9zM70.6 174.8h0.9v0.9h-0.9zM72.0 176.4h0.9v0.9h-0.9zM58.1 178.8h0.9v0.9h-0.9zM50.8 177.3h0.9v0.9h-0.9zM61.7 173.0h0.9v0.9h-0.9zM68.6 176.4h0.9v0.9h-0.9zM91.9 180.1h0.9v0.9h-0.9zM62.4 174.5h0.9v0.9h-0.9zM63.8 176.2h0.9v0.9h-0.9zM50.9 171.7h0.9v0.9h-0.9zM42.9 174.1h0.9v0.9h-0.9zM72.3 173.0h0.9v0.9h-0.9zM89.1 181.2h0.9v0.9h-0.9zM51.0 174.0h0.9v0.9h-0.9zM52.3 171.0h0.9v0.9h-0.9zM74.1 175.0h0.9v0.9h-0.9zM56.1 173.4h0.9v0.9h-0.9zM46.8 173.6h0.9v0.9h-0.9zM80.9 178.9h0.9v0.9h-0.9zM51.3 174.0h0.9v0.9h-0.9zM57.3 171.9h0.9v0.9h-0.9zM72.2 183.5h0.9v0.9h-0.9zM79.0 182.1h0.9v0.9h-0.9zM82.0 179.0h0.9v0.9h-0.9zM56.7 179.6h0.9v0.9h-0.9zM50.3 176.2h0.9v0.9h-0.9zM79.8 178.7h0.9v0.9h-0.9zM57.2 179.8h0.9v0.9h-0.9zM47.2 178.8h0.9v0.9h-0.9zM52.8 173.4h0.9v0.9h-0.9zM54.6 177.8h0.9v0.9h-0.9zM58.5 185.4h0.9v0.9h-0.9zM54.6 177.1h0.9v0.9h-0.9zM75.9 182.4h0.9v0.9h-0.9zM66.2 182.0h0.9v0.9h-0.9zM82.0 181.3h0.9v0.9h-0.9zM59.6 182.6h0.9v0.9h-0.9zM45.3 175.1h0.9v0.9h-0.9zM82.4 180.7h0.9v0.9h-0.9zM67.7 174.2h0.9v0.9h-0.9zM61.2 177.4h0.9v0.9h-0.9zM92.3 180.3h0.9v0.9h-0.9zM71.6 183.2h0.9v0.9h-0.9zM64.6 174.4h0.9v0.9h-0.9zM62.0 176.1h0.9v0.9h-0.9zM47.9 171.1h0.9v0.9h-0.9zM46.2 174.3h0.9v0.9h-0.9zM55.9 173.8h0.9v0.9h-0.9zM56.4 177.8h0.9v0.9h-0.9zM63.5 175.8h0.9v0.9h-0.9zM56.7 173.0h0.9v0.9h-0.9zM45.5 172.9h0.9v0.9h-0.9zM46.7 173.8h0.9v0.9h-0.9zM48.2 172.3h0.9v0.9h-0.9zM43.7 177.9h0.9v0.9h-0.9zM63.1 179.1h0.9v0.9h-0.9zM76.2 178.5h0.9v0.9h-0.9zM44.1 168.9h0.9v0.9h-0.9zM85.9 181.2h0.9v0.9h-0.9zM83.1 173.2h0.9v0.9h-0.9zM76.0 178.6h0.9v0.9h-0.9zM48.1 174.7h0.9v0.9h-0.9zM51.0 172.3h0.9v0.9h-0.9zM68.3 173.4h0.9v0.9h-0.9zM80.2 175.4h0.9v0.9h-0.9zM76.4 176.7h0.9v0.9h-0.9zM80.3 177.5h0.9v0.9h-0.9zM49.5 178.7h0.9v0.9h-0.9zM60.2 177.7h0.9v0.9h-0.9zM66.4 181.2h0.9v0.9h-0.9zM46.9 169.1h0.9v0.9h-0.9zM70.3 172.5h0.9v0.9h-0.9zM87.8 179.1h0.9v0.9h-0.9zM43.8 172.7h0.9v0.9h-0.9zM70.7 177.9h0.9v0.9h-0.9zM49.8 178.9h0.9v0.9h-0.9zM53.8 170.1h0.9v0.9h-0.9zM53.4 176.3h0.9v0.9h-0.9zM66.0 176.5h0.9v0.9h-0.9zM81.6 181.4h0.9v0.9h-0.9zM62.2 176.9h0.9v0.9h-0.9zM59.5 173.6h0.9v0.9h-0.9zM52.1 171.3h0.9v0.9h-0.9zM57.2 179.7h0.9v0.9h-0.9zM66.2 170.4h0.9v0.9h-0.9zM52.2 173.3h0.9v0.9h-0.9zM57.5 182.7h0.9v0.9h-0.9zM60.0 174.1h0.9v0.9h-0.9zM83.6 177.8h0.9v0.9h-0.9zM64.6 176.6h0.9v0.9h-0.9zM83.3 176.5h0.9v0.9h-0.9zM46.4 180.0h0.9v0.9h-0.9zM46.8 173.2h0.9v0.9h-0.9zM67.1 171.1h0.9v0.9h-0.9zM67.5 175.4h0.9v0.9h-0.9zM59.0 178.1h0.9v0.9h-0.9zM56.8 170.8h0.9v0.9h-0.9zM76.3 181.2h0.9v0.9h-0.9zM68.3 180.1h0.9v0.9h-0.9zM54.7 184.2h0.9v0.9h-0.9zM65.1 173.8h0.9v0.9h-0.9zM76.2 180.6h0.9v0.9h-0.9zM68.6 169.9h0.9v0.9h-0.9zM62.8 174.5h0.9v0.9h-0.9zM71.1 177.7h0.9v0.9h-0.9zM71.6 179.0h0.9v0.9h-0.9zM46.5 174.0h0.9v0.9h-0.9zM79.9 177.9h0.9v0.9h-0.9zM47.2 171.8h0.9v0.9h-0.9zM84.0 176.9h0.9v0.9h-0.9zM52.3 176.3h0.9v0.9h-0.9zM78.1 180.4h0.9v0.9h-0.9zM67.9 179.5h0.9v0.9h-0.9zM78.6 182.3h0.9v0.9h-0.9zM74.6 182.7h0.9v0.9h-0.9zM59.7 168.2h0.9v0.9h-0.9zM79.8 176.1h0.9v0.9h-0.9zM74.4 176.9h0.9v0.9h-0.9zM67.3 174.0h0.9v0.9h-0.9zM81.1 182.8h0.9v0.9h-0.9zM73.8 180.7h0.9v0.9h-0.9zM84.0 178.3h0.9v0.9h-0.9zM49.8 175.2h0.9v0.9h-0.9zM86.5 184.4h0.9v0.9h-0.9zM83.8 177.3h0.9v0.9h-0.9zM88.4 178.0h0.9v0.9h-0.9zM59.6 179.7h0.9v0.9h-0.9zM58.1 177.7h0.9v0.9h-0.9zM86.6 185.1h0.9v0.9h-0.9zM77.2 179.5h0.9v0.9h-0.9zM55.1 178.5h0.9v0.9h-0.9zM53.8 172.8h0.9v0.9h-0.9zM86.7 175.1h0.9v0.9h-0.9zM68.3 176.8h0.9v0.9h-0.9zM49.7 176.4h0.9v0.9h-0.9zM63.0 180.3h0.9v0.9h-0.9zM52.0 175.3h0.9v0.9h-0.9zM56.6 174.6h0.9v0.9h-0.9zM72.0 181.9h0.9v0.9h-0.9zM50.0 174.5h0.9v0.9h-0.9zM48.4 178.6h0.9v0.9h-0.9zM43.0 176.9h0.9v0.9h-0.9zM51.2 178.8h0.9v0.9h-0.9zM79.4 180.3h0.9v0.9h-0.9zM70.2 178.2h0.9v0.9h-0.9zM61.3 177.2h0.9v0.9h-0.9zM72.0 177.6h0.9v0.9h-0.9zM49.4 179.2h0.9v0.9h-0.9zM85.8 177.9h0.9v0.9h-0.9zM75.5 180.5h0.9v0.9h-0.9zM51.7 171.3h0.9v0.9h-0.9zM72.0 176.9h0.9v0.9h-0.9zM48.4 171.6h0.9v0.9h-0.9zM55.3 177.2h0.9v0.9h-0.9zM70.0 180.7h0.9v0.9h-0.9zM83.1 184.8h0.9v0.9h-0.9zM54.6 177.4h0.9v0.9h-0.9zM45.2 171.1h0.9v0.9h-0.9zM48.4 175.6h0.9v0.9h-0.9zM52.2 177.4h0.9v0.9h-0.9zM71.1 183.2h0.9v0.9h-0.9zM73.2 168.5h0.9v0.9h-0.9zM70.0 178.7h0.9v0.9h-0.9zM76.8 170.2h0.9v0.9h-0.9zM74.0 180.6h0.9v0.9h-0.9zM76.2 179.7h0.9v0.9h-0.9zM70.5 179.3h0.9v0.9h-0.9zM68.0 180.6h0.9v0.9h-0.9zM78.2 179.7h0.9v0.9h-0.9zM85.8 176.3h0.9v0.9h-0.9zM54.3 176.7h0.9v0.9h-0.9zM76.4 182.9h0.9v0.9h-0.9zM45.0 173.6h0.9v0.9h-0.9zM52.0 175.1h0.9v0.9h-0.9zM80.1 173.2h0.9v0.9h-0.9zM56.9 180.4h0.9v0.9h-0.9zM77.2 175.8h0.9v0.9h-0.9zM57.3 172.4h0.9v0.9h-0.9zM57.1 173.7h0.9v0.9h-0.9zM47.0 170.7h0.9v0.9h-0.9zM65.8 175.5h0.9v0.9h-0.9zM89.4 184.8h0.9v0.9h-0.9zM73.2 180.8h0.9v0.9h-0.9zM71.1 183.2h0.9v0.9h-0.9zM68.0 183.1h0.9v0.9h-0.9zM59.2 172.0h0.9v0.9h-0.9zM76.6 179.9h0.9v0.9h-0.9zM59.3 182.1h0.9v0.9h-0.9zM57.5 185.2h0.9v0.9h-0.9zM69.4 171.1h0.9v0.9h-0.9zM79.7 172.3h0.9v0.9h-0.9zM74.8 179.6h0.9v0.9h-0.9zM71.8 175.9h0.9v0.9h-0.9zM47.1 170.2h0.9v0.9h-0.9zM81.4 180.1h0.9v0.9h-0.9zM55.7 172.1h0.9v0.9h-0.9zM68.7 167.4h0.9v0.9h-0.9zM63.6 176.2h0.9v0.9h-0.9zM79.5 178.8h0.9v0.9h-0.9zM43.2 176.5h0.9v0.9h-0.9zM48.3 178.4h0.9v0.9h-0.9zM57.6 176.4h0.9v0.9h-0.9zM45.0 173.1h0.9v0.9h-0.9zM74.7 174.9h0.9v0.9h-0.9zM45.4 167.2h0.9v0.9h-0.9zM46.7 172.4h0.9v0.9h-0.9zM65.7 180.8h0.9v0.9h-0.9zM50.6 177.5h0.9v0.9h-0.9zM80.8 187.0h0.9v0.9h-0.9zM66.1 176.0h0.9v0.9h-0.9zM57.5 168.1h0.9v0.9h-0.9zM66.9 180.2h0.9v0.9h-0.9zM82.6 183.0h0.9v0.9h-0.9zM58.9 170.8h0.9v0.9h-0.9zM61.0 169.2h0.9v0.9h-0.9zM61.1 176.6h0.9v0.9h-0.9zM74.0 180.5h0.9v0.9h-0.9zM84.5 174.1h0.9v0.9h-0.9zM51.7 173.4h0.9v0.9h-0.9zM45.4 170.9h0.9v0.9h-0.9zM53.4 170.1h0.9v0.9h-0.9zM45.6 168.6h0.9v0.9h-0.9zM72.9 178.0h0.9v0.9h-0.9zM77.5 176.4h0.9v0.9h-0.9zM76.4 175.0h0.9v0.9h-0.9zM62.0 183.4h0.9v0.9h-0.9zM74.9 173.7h0.9v0.9h-0.9zM55.3 174.7h0.9v0.9h-0.9zM45.8 169.4h0.9v0.9h-0.9z" fill="#000" fill-opacity="0.64" filter="url(#bd)"/>
<line x1="41.2" y1="163.9" x2="41.2" y2="189.3" stroke="#000" stroke-width="1.1"/>
<line x1="10.4" y1="57" x2="10.4" y2="195" stroke="#000" stroke-width="1.3"/>
<line x1="10.4" y1="194.6" x2="67" y2="194.6" stroke="#000" stroke-width="1.3"/>
<path d="M8.6 58.8 L10.4 54.2 L12.2 58.8Z" fill="#000"/>
<path d="M66 192.8 L70 194.6 L66 196.4Z" fill="#000"/>
<text x="15.6" y="37.6" font-size="11.1" font-weight="bold" text-anchor="middle" fill="#000" transform="rotate(-90 15.6 37.6)">SSC</text>
<text x="72.5" y="200" font-size="11.5" font-weight="bold" text-anchor="start" fill="#000">IL-17</text>
<text x="117.7" y="14.1" font-size="17.5" font-weight="bold" text-anchor="start" fill="#000">B</text>
<circle cx="200.0" cy="12.4" r="4.2" fill="#fff" stroke="#000" stroke-width="1.3"/>
<circle cx="200.0" cy="26.9" r="4.75" fill="#000"/>
<text x="211.0" y="16.9" font-size="11.5" font-weight="bold" text-anchor="start" fill="#000">Normal</text>
<text x="211.0" y="31.7" font-size="11.5" font-weight="bold" text-anchor="start" fill="#000">Tumor</text>
<line x1="183.2" y1="41.6" x2="183.2" y2="172.2" stroke="#000" stroke-width="1.3"/>
<line x1="182.6" y1="171.6" x2="272.4" y2="171.6" stroke="#000" stroke-width="1.3"/>
<text x="161.0" y="175.49999999999997" font-size="11.5" font-weight="normal" text-anchor="middle" fill="#000" stroke="#000" stroke-width="0.15">0</text>
<line x1="180" y1="149.72" x2="183.2" y2="149.72" stroke="#000" stroke-width="1.3"/>
<text x="161.0" y="154.01999999999998" font-size="11.5" font-weight="normal" text-anchor="middle" fill="#000" stroke="#000" stroke-width="0.15">250</text>
<line x1="180" y1="128.23999999999998" x2="183.2" y2="128.23999999999998" stroke="#000" stroke-width="1.3"/>
<text x="161.0" y="132.53999999999996" font-size="11.5" font-weight="normal" text-anchor="middle" fill="#000" stroke="#000" stroke-width="0.15">500</text>
<line x1="180" y1="106.75999999999999" x2="183.2" y2="106.75999999999999" stroke="#000" stroke-width="1.3"/>
<text x="161.0" y="111.05999999999999" font-size="11.5" font-weight="normal" text-anchor="middle" fill="#000" stroke="#000" stroke-width="0.15">750</text>
<line x1="180" y1="85.27999999999999" x2="183.2" y2="85.27999999999999" stroke="#000" stroke-width="1.3"/>
<text x="161.0" y="89.57999999999998" font-size="11.5" font-weight="normal" text-anchor="middle" fill="#000" stroke="#000" stroke-width="0.15">1,000</text>
<line x1="180" y1="63.79999999999998" x2="183.2" y2="63.79999999999998" stroke="#000" stroke-width="1.3"/>
<text x="161.0" y="68.09999999999998" font-size="11.5" font-weight="normal" text-anchor="middle" fill="#000" stroke="#000" stroke-width="0.15">1,250</text>
<line x1="180" y1="42.31999999999999" x2="183.2" y2="42.31999999999999" stroke="#000" stroke-width="1.3"/>
<text x="161.0" y="46.62" font-size="11.5" font-weight="normal" text-anchor="middle" fill="#000" stroke="#000" stroke-width="0.15">1,500</text>
<text x="198.1" y="183.6" font-size="11.5" font-weight="normal" text-anchor="middle" fill="#000" stroke="#000" stroke-width="0.15">0</text>
<text x="217.4" y="183.6" font-size="11.5" font-weight="normal" text-anchor="middle" fill="#000" stroke="#000" stroke-width="0.15">6</text>
<text x="241.0" y="183.6" font-size="11.5" font-weight="normal" text-anchor="middle" fill="#000" stroke="#000" stroke-width="0.15">12</text>
<text x="266.1" y="183.6" font-size="11.5" font-weight="normal" text-anchor="middle" fill="#000" stroke="#000" stroke-width="0.15">25</text>
<text x="232.3" y="199.2" font-size="11.5" font-weight="bold" text-anchor="middle" fill="#000">MΦ (x10<tspan font-size="7.5" dy="-4.5">4</tspan><tspan dy="4.5"> / mL)</tspan></text>
<text x="137.3" y="92.2" font-size="12" font-weight="bold" text-anchor="middle" fill="#000" transform="rotate(-90 137.3 92.2)">IL-17 (pg/mL)</text>
<path d="M198.6 161.7 C 206 140, 212 118, 217.3 109.6 S 232 84, 240.5 74.8 S 258 60, 266.9 56.2" fill="none" stroke="#000" stroke-width="1.5"/>
<path d="M198.6 161.7 L217.3 156.3 L240.5 135.9 L266.9 118.2" fill="none" stroke="#000" stroke-width="1.3" stroke-dasharray="1.3 1.3"/>
<line x1="217.3" y1="97.3" x2="217.3" y2="122" stroke="#000" stroke-width="1.3"/>
<line x1="211.8" y1="97.3" x2="222.8" y2="97.3" stroke="#000" stroke-width="1.3"/>
<line x1="211.8" y1="122" x2="222.8" y2="122" stroke="#000" stroke-width="1.3"/>
<line x1="217.3" y1="150.2" x2="217.3" y2="163.7" stroke="#000" stroke-width="1.3"/>
<line x1="211.8" y1="150.2" x2="222.8" y2="150.2" stroke="#000" stroke-width="1.3"/>
<line x1="211.8" y1="163.7" x2="222.8" y2="163.7" stroke="#000" stroke-width="1.3"/>
<line x1="240.5" y1="56.6" x2="240.5" y2="90.8" stroke="#000" stroke-width="1.3"/>
<line x1="235.0" y1="56.6" x2="246.0" y2="56.6" stroke="#000" stroke-width="1.3"/>
<line x1="235.0" y1="90.8" x2="246.0" y2="90.8" stroke="#000" stroke-width="1.3"/>
<line x1="240.5" y1="126.1" x2="240.5" y2="144" stroke="#000" stroke-width="1.3"/>
<line x1="235.0" y1="126.1" x2="246.0" y2="126.1" stroke="#000" stroke-width="1.3"/>
<line x1="235.0" y1="144" x2="246.0" y2="144" stroke="#000" stroke-width="1.3"/>
<line x1="266.9" y1="45" x2="266.9" y2="64.4" stroke="#000" stroke-width="1.3"/>
<line x1="261.4" y1="45" x2="272.4" y2="45" stroke="#000" stroke-width="1.3"/>
<line x1="261.4" y1="64.4" x2="272.4" y2="64.4" stroke="#000" stroke-width="1.3"/>
<line x1="266.9" y1="100.3" x2="266.9" y2="134.2" stroke="#000" stroke-width="1.3"/>
<line x1="261.4" y1="100.3" x2="272.4" y2="100.3" stroke="#000" stroke-width="1.3"/>
<line x1="261.4" y1="134.2" x2="272.4" y2="134.2" stroke="#000" stroke-width="1.3"/>
<circle cx="217.3" cy="156.3" r="4.3" fill="#fff" stroke="#000" stroke-width="1.3"/>
<circle cx="217.3" cy="109.6" r="4.7" fill="#000"/>
<circle cx="240.5" cy="135.9" r="4.3" fill="#fff" stroke="#000" stroke-width="1.3"/>
<circle cx="240.5" cy="74.8" r="4.7" fill="#000"/>
<circle cx="266.9" cy="118.2" r="4.3" fill="#fff" stroke="#000" stroke-width="1.3"/>
<circle cx="266.9" cy="56.2" r="4.7" fill="#000"/>
<circle cx="198.6" cy="161.7" r="4.7" fill="#000"/>
<path d="M217.50 86.15L217.50 84.67M218.21 86.67L219.62 86.21M217.94 87.51L218.81 88.70M217.06 87.51L216.19 88.70M216.79 86.67L215.38 86.21" stroke="#000" stroke-width="0.88" stroke-linecap="round" fill="none"/>
<circle cx="217.50" cy="84.87" r="0.60" fill="#000"/>
<circle cx="219.43" cy="86.27" r="0.60" fill="#000"/>
<circle cx="218.69" cy="88.54" r="0.60" fill="#000"/>
<circle cx="216.31" cy="88.54" r="0.60" fill="#000"/>
<circle cx="215.57" cy="86.27" r="0.60" fill="#000"/>
<path d="M241.00 49.65L241.00 48.17M241.71 50.17L243.12 49.71M241.44 51.01L242.31 52.20M240.56 51.01L239.69 52.20M240.29 50.17L238.88 49.71" stroke="#000" stroke-width="0.88" stroke-linecap="round" fill="none"/>
<circle cx="241.00" cy="48.37" r="0.60" fill="#000"/>
<circle cx="242.93" cy="49.77" r="0.60" fill="#000"/>
<circle cx="242.19" cy="52.04" r="0.60" fill="#000"/>
<circle cx="239.81" cy="52.04" r="0.60" fill="#000"/>
<circle cx="239.07" cy="49.77" r="0.60" fill="#000"/>
<text x="292.8" y="13.8" font-size="17.5" font-weight="bold" text-anchor="start" fill="#000">C</text>
<rect x="348.75" y="9.15" width="11.60" height="8.40" fill="#fff" stroke="#000" stroke-width="1.3"/>
<rect x="348.10" y="22.50" width="13.10" height="9.30" fill="#000"/>
<text x="364.3" y="18" font-size="11.5" font-weight="bold" text-anchor="start" fill="#000">MΦ</text>
<text x="364.3" y="31.5" font-size="11.5" font-weight="bold" text-anchor="start" fill="#000">TAMs</text>
<line x1="341.4" y1="34.0" x2="341.4" y2="177.2" stroke="#000" stroke-width="1.3"/>
<line x1="337.6" y1="176.6" x2="467.8" y2="176.6" stroke="#000" stroke-width="1.3"/>
<text x="326.0" y="181.1" font-size="11.5" font-weight="normal" text-anchor="middle" fill="#000" stroke="#000" stroke-width="0.15">0</text>
<line x1="338" y1="158.325" x2="341.4" y2="158.325" stroke="#000" stroke-width="1.3"/>
<text x="326.0" y="163.42499999999998" font-size="11.5" font-weight="normal" text-anchor="middle" fill="#000" stroke="#000" stroke-width="0.15">5</text>
<line x1="338" y1="140.65" x2="341.4" y2="140.65" stroke="#000" stroke-width="1.3"/>
<text x="326.0" y="145.75" font-size="11.5" font-weight="normal" text-anchor="middle" fill="#000" stroke="#000" stroke-width="0.15">10</text>
<line x1="338" y1="122.975" x2="341.4" y2="122.975" stroke="#000" stroke-width="1.3"/>
<text x="326.0" y="128.075" font-size="11.5" font-weight="normal" text-anchor="middle" fill="#000" stroke="#000" stroke-width="0.15">15</text>
<line x1="338" y1="105.3" x2="341.4" y2="105.3" stroke="#000" stroke-width="1.3"/>
<text x="326.0" y="110.39999999999999" font-size="11.5" font-weight="normal" text-anchor="middle" fill="#000" stroke="#000" stroke-width="0.15">20</text>
<line x1="338" y1="87.625" x2="341.4" y2="87.625" stroke="#000" stroke-width="1.3"/>
<text x="326.0" y="92.725" font-size="11.5" font-weight="normal" text-anchor="middle" fill="#000" stroke="#000" stroke-width="0.15">25</text>
<line x1="338" y1="69.94999999999999" x2="341.4" y2="69.94999999999999" stroke="#000" stroke-width="1.3"/>
<text x="326.0" y="75.04999999999998" font-size="11.5" font-weight="normal" text-anchor="middle" fill="#000" stroke="#000" stroke-width="0.15">30</text>
<line x1="338" y1="52.27499999999999" x2="341.4" y2="52.27499999999999" stroke="#000" stroke-width="1.3"/>
<text x="326.0" y="57.37499999999999" font-size="11.5" font-weight="normal" text-anchor="middle" fill="#000" stroke="#000" stroke-width="0.15">35</text>
<line x1="338" y1="34.599999999999994" x2="341.4" y2="34.599999999999994" stroke="#000" stroke-width="1.3"/>
<text x="326.0" y="39.699999999999996" font-size="11.5" font-weight="normal" text-anchor="middle" fill="#000" stroke="#000" stroke-width="0.15">40</text>
<rect x="350.90" y="171.00" width="21.70" height="5.60" fill="#fff" stroke="#000" stroke-width="1.2"/>
<line x1="361.75" y1="168.7" x2="361.75" y2="170.4" stroke="#000" stroke-width="1.3"/>
<line x1="357.0" y1="168.7" x2="366.5" y2="168.7" stroke="#000" stroke-width="1.3"/>
<rect x="375.80" y="106.80" width="22.20" height="69.80" fill="#000"/>
<line x1="386.9" y1="100.9" x2="386.9" y2="106.8" stroke="#000" stroke-width="1.3"/>
<line x1="381.65" y1="100.9" x2="392.15" y2="100.9" stroke="#000" stroke-width="1.3"/>
<rect x="416.70" y="137.20" width="21.60" height="39.40" fill="#fff" stroke="#000" stroke-width="1.2"/>
<line x1="427.5" y1="117.0" x2="427.5" y2="136.6" stroke="#000" stroke-width="1.3"/>
<line x1="422.25" y1="117.0" x2="432.75" y2="117.0" stroke="#000" stroke-width="1.3"/>
<rect x="440.90" y="57.00" width="23.10" height="119.60" fill="#000"/>
<line x1="452.45" y1="46" x2="452.45" y2="57" stroke="#000" stroke-width="1.3"/>
<line x1="447.2" y1="46" x2="457.7" y2="46" stroke="#000" stroke-width="1.3"/>
<path d="M386.60 91.75L386.60 90.35M387.31 92.27L388.64 91.84M387.04 93.11L387.86 94.24M386.16 93.11L385.34 94.24M385.89 92.27L384.56 91.84" stroke="#000" stroke-width="0.85" stroke-linecap="round" fill="none"/>
<circle cx="386.60" cy="90.55" r="0.58" fill="#000"/>
<circle cx="388.45" cy="91.90" r="0.58" fill="#000"/>
<circle cx="387.75" cy="94.08" r="0.58" fill="#000"/>
<circle cx="385.45" cy="94.08" r="0.58" fill="#000"/>
<circle cx="384.75" cy="91.90" r="0.58" fill="#000"/>
<path d="M452.40 37.05L452.40 35.65M453.11 37.57L454.44 37.14M452.84 38.41L453.66 39.54M451.96 38.41L451.14 39.54M451.69 37.57L450.36 37.14" stroke="#000" stroke-width="0.85" stroke-linecap="round" fill="none"/>
<circle cx="452.40" cy="35.85" r="0.58" fill="#000"/>
<circle cx="454.25" cy="37.20" r="0.58" fill="#000"/>
<circle cx="453.55" cy="39.38" r="0.58" fill="#000"/>
<circle cx="451.25" cy="39.38" r="0.58" fill="#000"/>
<circle cx="450.55" cy="37.20" r="0.58" fill="#000"/>
<text x="374.1" y="188.5" font-size="11.5" font-weight="bold" text-anchor="middle" fill="#000">IL-23p19</text>
<text x="439.4" y="188.5" font-size="11.5" font-weight="bold" text-anchor="middle" fill="#000">IL-1β</text>
<text x="313.9" y="97.3" font-size="11.8" font-weight="bold" text-anchor="middle" fill="#000" transform="rotate(-90 313.9 97.3)">Gene expression (x10<tspan font-size="7.5" dy="-4.5">-5</tspan><tspan dy="4.5">)</tspan></text>
<text x="0.2" y="231.5" font-size="17.5" font-weight="bold" text-anchor="start" fill="#000">D</text>
<line x1="42.3" y1="228.4" x2="42.3" y2="377.8" stroke="#000" stroke-width="1.3"/>
<line x1="41.7" y1="377.2" x2="176.5" y2="377.2" stroke="#000" stroke-width="1.3"/>
<line x1="39" y1="377.2" x2="42.3" y2="377.2" stroke="#000" stroke-width="1.3"/>
<text x="27.5" y="384.79999999999995" font-size="11" font-weight="normal" text-anchor="middle" fill="#000" stroke="#000" stroke-width="0.15">0</text>
<line x1="39" y1="360.71" x2="42.3" y2="360.71" stroke="#000" stroke-width="1.3"/>
<text x="27.5" y="368.0" font-size="11" font-weight="normal" text-anchor="middle" fill="#000" stroke="#000" stroke-width="0.15">1</text>
<line x1="39" y1="344.21999999999997" x2="42.3" y2="344.21999999999997" stroke="#000" stroke-width="1.3"/>
<text x="27.5" y="351.2" font-size="11" font-weight="normal" text-anchor="middle" fill="#000" stroke="#000" stroke-width="0.15">2</text>
<line x1="39" y1="327.73" x2="42.3" y2="327.73" stroke="#000" stroke-width="1.3"/>
<text x="27.5" y="334.4" font-size="11" font-weight="normal" text-anchor="middle" fill="#000" stroke="#000" stroke-width="0.15">3</text>
<line x1="39" y1="311.24" x2="42.3" y2="311.24" stroke="#000" stroke-width="1.3"/>
<text x="27.5" y="317.59999999999997" font-size="11" font-weight="normal" text-anchor="middle" fill="#000" stroke="#000" stroke-width="0.15">4</text>
<line x1="39" y1="294.75" x2="42.3" y2="294.75" stroke="#000" stroke-width="1.3"/>
<text x="27.5" y="300.79999999999995" font-size="11" font-weight="normal" text-anchor="middle" fill="#000" stroke="#000" stroke-width="0.15">5</text>
<line x1="39" y1="278.26" x2="42.3" y2="278.26" stroke="#000" stroke-width="1.3"/>
<text x="27.5" y="284.0" font-size="11" font-weight="normal" text-anchor="middle" fill="#000" stroke="#000" stroke-width="0.15">6</text>
<line x1="39" y1="261.77" x2="42.3" y2="261.77" stroke="#000" stroke-width="1.3"/>
<text x="27.5" y="267.2" font-size="11" font-weight="normal" text-anchor="middle" fill="#000" stroke="#000" stroke-width="0.15">7</text>
<line x1="39" y1="245.28" x2="42.3" y2="245.28" stroke="#000" stroke-width="1.3"/>
<text x="27.5" y="250.4" font-size="11" font-weight="normal" text-anchor="middle" fill="#000" stroke="#000" stroke-width="0.15">8</text>
<line x1="39" y1="228.79" x2="42.3" y2="228.79" stroke="#000" stroke-width="1.3"/>
<text x="27.5" y="233.6" font-size="11" font-weight="normal" text-anchor="middle" fill="#000" stroke="#000" stroke-width="0.15">9</text>
<rect x="46.50" y="243.10" width="20.90" height="134.10" fill="#fff" stroke="#000" stroke-width="1.2"/>
<line x1="56.95" y1="225.6" x2="56.95" y2="242.5" stroke="#000" stroke-width="1.3"/>
<line x1="53.050000000000004" y1="225.6" x2="60.85" y2="225.6" stroke="#000" stroke-width="1.3"/>
<rect x="71.70" y="267.50" width="21.70" height="109.70" fill="#000"/>
<line x1="82.55000000000001" y1="237.7" x2="82.55000000000001" y2="267.5" stroke="#000" stroke-width="1.3"/>
<line x1="78.65" y1="237.7" x2="86.45000000000002" y2="237.7" stroke="#000" stroke-width="1.3"/>
<rect x="97.30" y="354.70" width="21.30" height="22.50" fill="#000"/>
<line x1="107.94999999999999" y1="347.3" x2="107.94999999999999" y2="354.7" stroke="#000" stroke-width="1.3"/>
<line x1="104.04999999999998" y1="347.3" x2="111.85" y2="347.3" stroke="#000" stroke-width="1.3"/>
<rect x="122.90" y="316.90" width="21.10" height="60.30" fill="#000"/>
<line x1="133.45" y1="298.7" x2="133.45" y2="316.9" stroke="#000" stroke-width="1.3"/>
<line x1="129.54999999999998" y1="298.7" x2="137.35" y2="298.7" stroke="#000" stroke-width="1.3"/>
<rect x="152.70" y="374.70" width="21.20" height="2.50" fill="#000"/>
<line x1="163.3" y1="372.8" x2="163.3" y2="374.7" stroke="#000" stroke-width="1.3"/>
<line x1="159.4" y1="372.8" x2="167.20000000000002" y2="372.8" stroke="#000" stroke-width="1.3"/>
<path d="M107.90 338.05L107.90 336.73M108.61 338.57L109.87 338.16M108.34 339.41L109.12 340.47M107.46 339.41L106.68 340.47M107.19 338.57L105.93 338.16" stroke="#3a3a3a" stroke-width="0.82" stroke-linecap="round" fill="none"/>
<circle cx="107.90" cy="336.93" r="0.56" fill="#3a3a3a"/>
<circle cx="109.68" cy="338.22" r="0.56" fill="#3a3a3a"/>
<circle cx="109.00" cy="340.31" r="0.56" fill="#3a3a3a"/>
<circle cx="106.80" cy="340.31" r="0.56" fill="#3a3a3a"/>
<circle cx="106.12" cy="338.22" r="0.56" fill="#3a3a3a"/>
<path d="M133.50 289.75L133.50 288.43M134.21 290.27L135.47 289.86M133.94 291.11L134.72 292.17M133.06 291.11L132.28 292.17M132.79 290.27L131.53 289.86" stroke="#3a3a3a" stroke-width="0.82" stroke-linecap="round" fill="none"/>
<circle cx="133.50" cy="288.63" r="0.56" fill="#3a3a3a"/>
<circle cx="135.28" cy="289.92" r="0.56" fill="#3a3a3a"/>
<circle cx="134.60" cy="292.01" r="0.56" fill="#3a3a3a"/>
<circle cx="132.40" cy="292.01" r="0.56" fill="#3a3a3a"/>
<circle cx="131.72" cy="289.92" r="0.56" fill="#3a3a3a"/>
<path d="M163.30 366.15L163.30 364.83M164.01 366.67L165.27 366.26M163.74 367.51L164.52 368.57M162.86 367.51L162.08 368.57M162.59 366.67L161.33 366.26" stroke="#3a3a3a" stroke-width="0.82" stroke-linecap="round" fill="none"/>
<circle cx="163.30" cy="365.03" r="0.56" fill="#3a3a3a"/>
<circle cx="165.08" cy="366.32" r="0.56" fill="#3a3a3a"/>
<circle cx="164.40" cy="368.41" r="0.56" fill="#3a3a3a"/>
<circle cx="162.20" cy="368.41" r="0.56" fill="#3a3a3a"/>
<circle cx="161.52" cy="366.32" r="0.56" fill="#3a3a3a"/>
<text x="61.7" y="382.7" font-size="11.5" font-weight="bold" text-anchor="end" fill="#000" transform="rotate(-90 61.7 382.7)">Control</text>
<text x="87.2" y="382.7" font-size="11.5" font-weight="bold" text-anchor="end" fill="#000" transform="rotate(-90 87.2 382.7)">Anti-IL-6</text>
<text x="112.8" y="382.7" font-size="11.5" font-weight="bold" text-anchor="end" fill="#000" transform="rotate(-90 112.8 382.7)">Anti-IL-1R</text>
<text x="139.0" y="382.7" font-size="11.5" font-weight="bold" text-anchor="end" fill="#000" transform="rotate(-90 139.0 382.7)">IL-23 siRNA</text>
<text x="161.2" y="382.7" font-size="11.5" font-weight="bold" text-anchor="end" fill="#000" transform="rotate(-90 161.2 382.7)">IL-23 siRNA</text>
<text x="175.0" y="382.7" font-size="11.5" font-weight="bold" text-anchor="end" fill="#000" transform="rotate(-90 175.0 382.7)">+ Anti-IL-1R</text>
<text x="16.2" y="293.2" font-size="12" font-weight="bold" text-anchor="middle" fill="#000" transform="rotate(-90 16.2 293.2)">IL-17 (%)</text>
<text x="190.8" y="230.5" font-size="17.5" font-weight="bold" text-anchor="start" fill="#000">E</text>
<text x="222.0" y="231.8" font-size="11.2" font-weight="bold" text-anchor="start" fill="#000">Tregs/T</text>
<text x="285.0" y="231.8" font-size="11.5" font-weight="normal" text-anchor="start" fill="#000" stroke="#000" stroke-width="0.15">1:1</text>
<text x="351.2" y="231.8" font-size="11.5" font-weight="normal" text-anchor="start" fill="#000" stroke="#000" stroke-width="0.15">0.5:1</text>
<text x="427.3" y="231.8" font-size="11.5" font-weight="normal" text-anchor="start" fill="#000" stroke="#000" stroke-width="0.15">0:1</text>
<rect x="258.80" y="237.80" width="67.80" height="31.10" fill="#fff" stroke="#000" stroke-width="1.1"/>
<ellipse cx="267.05" cy="249.60" rx="4.75" ry="6.60" fill="#000" filter="url(#bl)"/>
<ellipse cx="266.75" cy="251.60" rx="5.15" ry="4.50" fill="#000" filter="url(#bl)"/>
<path d="M297.8 251.2h0.9v0.9h-0.9zM279.8 249.2h0.9v0.9h-0.9zM295.1 249.4h0.9v0.9h-0.9zM292.4 253.3h0.9v0.9h-0.9zM302.9 257.1h0.9v0.9h-0.9zM283.7 248.8h0.9v0.9h-0.9zM288.0 245.1h0.9v0.9h-0.9zM291.9 252.5h0.9v0.9h-0.9zM314.1 250.2h0.9v0.9h-0.9zM280.1 250.8h0.9v0.9h-0.9zM296.9 253.6h0.9v0.9h-0.9zM287.9 250.6h0.9v0.9h-0.9zM297.1 247.0h0.9v0.9h-0.9zM300.4 245.3h0.9v0.9h-0.9zM295.5 250.3h0.9v0.9h-0.9zM296.6 247.4h0.9v0.9h-0.9zM296.8 251.2h0.9v0.9h-0.9zM288.5 247.1h0.9v0.9h-0.9zM292.1 249.5h0.9v0.9h-0.9zM278.3 246.6h0.9v0.9h-0.9zM290.7 249.5h0.9v0.9h-0.9zM286.8 249.3h0.9v0.9h-0.9zM291.7 252.0h0.9v0.9h-0.9zM301.1 253.9h0.9v0.9h-0.9zM297.7 249.9h0.9v0.9h-0.9zM298.6 248.2h0.9v0.9h-0.9zM304.6 255.5h0.9v0.9h-0.9zM298.2 252.0h0.9v0.9h-0.9zM293.9 252.0h0.9v0.9h-0.9zM293.1 254.2h0.9v0.9h-0.9zM281.6 253.0h0.9v0.9h-0.9zM299.3 252.2h0.9v0.9h-0.9zM305.0 252.4h0.9v0.9h-0.9zM303.9 248.2h0.9v0.9h-0.9zM293.3 248.9h0.9v0.9h-0.9zM300.2 250.2h0.9v0.9h-0.9zM302.9 250.7h0.9v0.9h-0.9zM311.5 250.5h0.9v0.9h-0.9zM305.8 251.2h0.9v0.9h-0.9zM295.4 250.5h0.9v0.9h-0.9zM295.0 249.3h0.9v0.9h-0.9zM295.7 246.2h0.9v0.9h-0.9zM296.2 252.6h0.9v0.9h-0.9zM289.3 252.0h0.9v0.9h-0.9zM301.4 248.2h0.9v0.9h-0.9zM287.4 251.7h0.9v0.9h-0.9zM286.4 251.5h0.9v0.9h-0.9zM297.4 250.6h0.9v0.9h-0.9zM288.6 245.7h0.9v0.9h-0.9zM291.7 247.3h0.9v0.9h-0.9zM301.6 254.6h0.9v0.9h-0.9zM294.0 248.2h0.9v0.9h-0.9zM292.8 249.5h0.9v0.9h-0.9zM298.5 247.6h0.9v0.9h-0.9zM296.0 249.2h0.9v0.9h-0.9zM287.4 251.3h0.9v0.9h-0.9zM313.2 245.1h0.9v0.9h-0.9zM289.7 243.1h0.9v0.9h-0.9zM303.3 252.2h0.9v0.9h-0.9zM311.5 250.5h0.9v0.9h-0.9zM288.1 248.9h0.9v0.9h-0.9zM294.9 252.9h0.9v0.9h-0.9zM286.2 253.0h0.9v0.9h-0.9zM304.1 245.0h0.9v0.9h-0.9zM290.8 250.0h0.9v0.9h-0.9zM283.5 253.3h0.9v0.9h-0.9zM306.6 248.7h0.9v0.9h-0.9zM302.8 249.6h0.9v0.9h-0.9zM285.5 252.9h0.9v0.9h-0.9zM305.3 249.7h0.9v0.9h-0.9zM295.9 247.3h0.9v0.9h-0.9zM310.4 247.0h0.9v0.9h-0.9zM288.7 251.9h0.9v0.9h-0.9zM291.5 246.0h0.9v0.9h-0.9zM285.7 253.0h0.9v0.9h-0.9zM295.3 246.2h0.9v0.9h-0.9zM294.5 250.5h0.9v0.9h-0.9zM301.0 246.6h0.9v0.9h-0.9zM294.8 249.6h0.9v0.9h-0.9zM280.0 253.1h0.9v0.9h-0.9zM286.3 253.3h0.9v0.9h-0.9zM307.5 253.8h0.9v0.9h-0.9zM305.0 250.2h0.9v0.9h-0.9zM292.5 250.7h0.9v0.9h-0.9zM292.7 251.0h0.9v0.9h-0.9zM292.4 252.0h0.9v0.9h-0.9zM294.2 249.4h0.9v0.9h-0.9zM278.0 253.3h0.9v0.9h-0.9zM302.5 251.3h0.9v0.9h-0.9zM287.7 253.4h0.9v0.9h-0.9zM295.4 251.7h0.9v0.9h-0.9zM296.2 248.5h0.9v0.9h-0.9zM306.8 249.3h0.9v0.9h-0.9zM308.5 249.7h0.9v0.9h-0.9zM298.5 250.0h0.9v0.9h-0.9zM287.0 252.6h0.9v0.9h-0.9zM278.9 247.2h0.9v0.9h-0.9zM305.1 258.8h0.9v0.9h-0.9zM296.5 250.1h0.9v0.9h-0.9zM299.7 253.7h0.9v0.9h-0.9zM291.4 253.1h0.9v0.9h-0.9zM286.4 243.9h0.9v0.9h-0.9zM302.3 249.7h0.9v0.9h-0.9zM284.9 254.3h0.9v0.9h-0.9zM302.6 244.1h0.9v0.9h-0.9zM278.0 252.4h0.9v0.9h-0.9zM285.2 248.1h0.9v0.9h-0.9zM280.1 249.2h0.9v0.9h-0.9zM306.5 251.0h0.9v0.9h-0.9zM277.3 245.6h0.9v0.9h-0.9zM283.1 250.9h0.9v0.9h-0.9zM300.3 248.7h0.9v0.9h-0.9zM296.2 248.5h0.9v0.9h-0.9zM314.9 252.3h0.9v0.9h-0.9zM311.6 259.5h0.9v0.9h-0.9zM299.9 251.3h0.9v0.9h-0.9zM300.6 251.9h0.9v0.9h-0.9zM276.6 250.3h0.9v0.9h-0.9zM285.6 248.5h0.9v0.9h-0.9zM290.9 251.1h0.9v0.9h-0.9zM292.3 254.4h0.9v0.9h-0.9zM280.8 250.9h0.9v0.9h-0.9zM285.1 252.7h0.9v0.9h-0.9zM285.9 249.8h0.9v0.9h-0.9zM304.2 257.0h0.9v0.9h-0.9zM298.1 246.1h0.9v0.9h-0.9zM290.8 251.9h0.9v0.9h-0.9zM291.4 251.8h0.9v0.9h-0.9zM296.8 251.1h0.9v0.9h-0.9zM287.3 247.5h0.9v0.9h-0.9zM291.5 247.5h0.9v0.9h-0.9zM277.5 249.8h0.9v0.9h-0.9zM300.4 250.7h0.9v0.9h-0.9zM303.2 247.3h0.9v0.9h-0.9zM297.5 247.6h0.9v0.9h-0.9zM298.6 251.9h0.9v0.9h-0.9zM297.5 253.1h0.9v0.9h-0.9zM313.5 249.0h0.9v0.9h-0.9zM295.9 248.6h0.9v0.9h-0.9zM281.3 248.5h0.9v0.9h-0.9zM284.0 256.9h0.9v0.9h-0.9zM300.8 251.7h0.9v0.9h-0.9zM304.2 250.2h0.9v0.9h-0.9zM301.4 253.0h0.9v0.9h-0.9zM302.0 256.4h0.9v0.9h-0.9zM295.8 253.5h0.9v0.9h-0.9zM279.7 246.7h0.9v0.9h-0.9zM287.2 250.2h0.9v0.9h-0.9zM276.7 249.4h0.9v0.9h-0.9zM290.3 249.5h0.9v0.9h-0.9zM280.9 247.2h0.9v0.9h-0.9zM294.9 249.4h0.9v0.9h-0.9zM292.3 247.6h0.9v0.9h-0.9zM275.3 251.3h0.9v0.9h-0.9zM301.0 250.5h0.9v0.9h-0.9zM301.3 246.7h0.9v0.9h-0.9zM280.6 246.0h0.9v0.9h-0.9zM295.3 249.2h0.9v0.9h-0.9zM300.8 252.1h0.9v0.9h-0.9zM291.2 251.7h0.9v0.9h-0.9zM302.2 250.2h0.9v0.9h-0.9zM304.2 249.1h0.9v0.9h-0.9zM295.7 248.5h0.9v0.9h-0.9zM292.4 249.5h0.9v0.9h-0.9zM298.8 247.2h0.9v0.9h-0.9zM301.5 249.3h0.9v0.9h-0.9zM296.3 248.7h0.9v0.9h-0.9zM289.6 257.5h0.9v0.9h-0.9zM286.3 252.2h0.9v0.9h-0.9zM290.3 249.9h0.9v0.9h-0.9zM288.4 250.3h0.9v0.9h-0.9zM295.9 250.1h0.9v0.9h-0.9zM295.5 250.9h0.9v0.9h-0.9zM293.1 249.3h0.9v0.9h-0.9zM293.9 250.3h0.9v0.9h-0.9zM295.5 253.1h0.9v0.9h-0.9zM308.9 252.6h0.9v0.9h-0.9zM305.5 251.2h0.9v0.9h-0.9zM288.3 253.9h0.9v0.9h-0.9zM297.9 251.0h0.9v0.9h-0.9zM290.7 247.8h0.9v0.9h-0.9zM292.9 245.8h0.9v0.9h-0.9zM291.5 248.6h0.9v0.9h-0.9zM287.8 250.2h0.9v0.9h-0.9zM280.8 251.4h0.9v0.9h-0.9zM295.8 248.9h0.9v0.9h-0.9zM305.2 248.3h0.9v0.9h-0.9zM285.1 252.4h0.9v0.9h-0.9zM298.7 253.5h0.9v0.9h-0.9zM290.1 249.2h0.9v0.9h-0.9zM296.5 251.3h0.9v0.9h-0.9zM286.1 254.0h0.9v0.9h-0.9zM291.6 251.2h0.9v0.9h-0.9zM292.8 250.3h0.9v0.9h-0.9zM295.9 253.9h0.9v0.9h-0.9zM292.5 252.1h0.9v0.9h-0.9zM300.1 249.2h0.9v0.9h-0.9zM293.5 247.1h0.9v0.9h-0.9zM295.8 250.1h0.9v0.9h-0.9zM297.3 250.1h0.9v0.9h-0.9zM289.8 253.3h0.9v0.9h-0.9zM283.4 247.2h0.9v0.9h-0.9zM289.5 254.2h0.9v0.9h-0.9zM289.7 250.5h0.9v0.9h-0.9zM315.2 253.5h0.9v0.9h-0.9zM311.6 247.9h0.9v0.9h-0.9zM289.1 251.3h0.9v0.9h-0.9zM289.8 253.6h0.9v0.9h-0.9zM296.9 250.7h0.9v0.9h-0.9zM299.2 246.6h0.9v0.9h-0.9zM287.1 249.5h0.9v0.9h-0.9zM284.1 251.8h0.9v0.9h-0.9zM312.5 246.7h0.9v0.9h-0.9zM304.0 246.6h0.9v0.9h-0.9zM278.7 251.0h0.9v0.9h-0.9zM276.7 247.9h0.9v0.9h-0.9zM285.7 252.2h0.9v0.9h-0.9zM295.9 247.3h0.9v0.9h-0.9zM299.0 245.6h0.9v0.9h-0.9zM290.4 248.4h0.9v0.9h-0.9zM278.1 254.3h0.9v0.9h-0.9zM295.9 248.1h0.9v0.9h-0.9zM299.6 250.4h0.9v0.9h-0.9zM293.7 251.0h0.9v0.9h-0.9zM288.9 247.9h0.9v0.9h-0.9zM299.3 253.2h0.9v0.9h-0.9zM293.2 250.9h0.9v0.9h-0.9zM282.8 251.6h0.9v0.9h-0.9zM294.6 246.0h0.9v0.9h-0.9zM281.1 245.8h0.9v0.9h-0.9zM303.1 243.2h0.9v0.9h-0.9zM298.3 249.9h0.9v0.9h-0.9zM284.0 249.8h0.9v0.9h-0.9zM295.8 252.3h0.9v0.9h-0.9zM305.9 254.3h0.9v0.9h-0.9zM292.3 249.7h0.9v0.9h-0.9zM309.7 251.6h0.9v0.9h-0.9zM278.6 254.4h0.9v0.9h-0.9zM292.1 248.3h0.9v0.9h-0.9zM279.8 252.0h0.9v0.9h-0.9zM293.0 249.8h0.9v0.9h-0.9zM277.9 252.5h0.9v0.9h-0.9zM288.5 248.3h0.9v0.9h-0.9zM295.0 247.6h0.9v0.9h-0.9zM297.4 252.1h0.9v0.9h-0.9zM297.8 250.3h0.9v0.9h-0.9zM304.9 249.7h0.9v0.9h-0.9zM300.5 250.1h0.9v0.9h-0.9zM300.9 251.7h0.9v0.9h-0.9zM284.1 249.4h0.9v0.9h-0.9zM292.2 252.4h0.9v0.9h-0.9zM315.9 254.3h0.9v0.9h-0.9zM301.8 253.7h0.9v0.9h-0.9zM300.9 252.6h0.9v0.9h-0.9zM303.4 249.9h0.9v0.9h-0.9zM289.8 250.7h0.9v0.9h-0.9zM312.9 248.9h0.9v0.9h-0.9zM290.0 257.8h0.9v0.9h-0.9zM292.9 249.8h0.9v0.9h-0.9zM315.0 251.9h0.9v0.9h-0.9zM297.2 246.9h0.9v0.9h-0.9zM276.8 248.3h0.9v0.9h-0.9zM287.3 249.4h0.9v0.9h-0.9zM292.8 247.8h0.9v0.9h-0.9zM290.2 247.1h0.9v0.9h-0.9zM295.4 249.1h0.9v0.9h-0.9zM286.2 253.8h0.9v0.9h-0.9zM292.7 252.3h0.9v0.9h-0.9zM282.0 250.5h0.9v0.9h-0.9zM289.9 250.5h0.9v0.9h-0.9zM280.1 246.1h0.9v0.9h-0.9zM300.2 252.2h0.9v0.9h-0.9zM281.0 251.5h0.9v0.9h-0.9zM300.5 247.6h0.9v0.9h-0.9zM289.6 251.0h0.9v0.9h-0.9zM290.7 249.9h0.9v0.9h-0.9zM305.3 249.1h0.9v0.9h-0.9zM294.8 247.8h0.9v0.9h-0.9zM275.0 248.7h0.9v0.9h-0.9zM298.6 248.0h0.9v0.9h-0.9zM296.3 251.4h0.9v0.9h-0.9zM289.7 251.3h0.9v0.9h-0.9zM279.9 249.9h0.9v0.9h-0.9zM294.5 249.4h0.9v0.9h-0.9zM290.7 255.7h0.9v0.9h-0.9zM313.5 245.6h0.9v0.9h-0.9zM289.4 253.5h0.9v0.9h-0.9zM312.9 251.3h0.9v0.9h-0.9zM307.4 250.6h0.9v0.9h-0.9zM287.7 249.1h0.9v0.9h-0.9zM285.6 249.9h0.9v0.9h-0.9zM306.8 247.3h0.9v0.9h-0.9zM292.4 246.8h0.9v0.9h-0.9zM295.3 250.1h0.9v0.9h-0.9zM291.2 246.1h0.9v0.9h-0.9zM281.7 252.6h0.9v0.9h-0.9zM290.0 253.3h0.9v0.9h-0.9zM278.5 246.4h0.9v0.9h-0.9zM290.8 251.1h0.9v0.9h-0.9zM311.4 251.0h0.9v0.9h-0.9zM309.7 250.7h0.9v0.9h-0.9zM293.1 251.5h0.9v0.9h-0.9zM295.0 252.4h0.9v0.9h-0.9zM298.8 252.7h0.9v0.9h-0.9zM307.2 255.1h0.9v0.9h-0.9z" fill="#000" fill-opacity="0.3" filter="url(#bd)"/>
<line x1="278.5" y1="237.8" x2="278.5" y2="268.9" stroke="#000" stroke-width="1.1"/>
<rect x="330.80" y="237.80" width="67.70" height="30.80" fill="#fff" stroke="#000" stroke-width="1.1"/>
<ellipse cx="339.60" cy="250.90" rx="4.60" ry="7.30" fill="#000" filter="url(#bl)"/>
<ellipse cx="339.30" cy="252.90" rx="5.00" ry="5.20" fill="#000" filter="url(#bl)"/>
<path d="M368.0 252.5h0.9v0.9h-0.9zM376.4 249.1h0.9v0.9h-0.9zM351.5 256.4h0.9v0.9h-0.9zM366.4 248.6h0.9v0.9h-0.9zM355.5 252.0h0.9v0.9h-0.9zM381.7 258.3h0.9v0.9h-0.9zM373.2 249.4h0.9v0.9h-0.9zM354.7 253.2h0.9v0.9h-0.9zM366.6 254.2h0.9v0.9h-0.9zM368.0 253.8h0.9v0.9h-0.9zM369.7 246.6h0.9v0.9h-0.9zM378.6 252.2h0.9v0.9h-0.9zM377.3 246.2h0.9v0.9h-0.9zM381.4 251.8h0.9v0.9h-0.9zM362.8 250.4h0.9v0.9h-0.9zM362.2 253.3h0.9v0.9h-0.9zM381.9 252.9h0.9v0.9h-0.9zM365.1 248.6h0.9v0.9h-0.9zM354.1 255.8h0.9v0.9h-0.9zM354.5 251.0h0.9v0.9h-0.9zM368.3 247.1h0.9v0.9h-0.9zM376.8 255.2h0.9v0.9h-0.9zM382.8 255.6h0.9v0.9h-0.9zM366.1 254.8h0.9v0.9h-0.9zM363.1 253.0h0.9v0.9h-0.9zM384.0 249.3h0.9v0.9h-0.9zM363.2 254.0h0.9v0.9h-0.9zM382.3 256.4h0.9v0.9h-0.9zM370.1 253.7h0.9v0.9h-0.9zM370.1 255.7h0.9v0.9h-0.9zM365.4 249.6h0.9v0.9h-0.9zM370.7 254.2h0.9v0.9h-0.9zM363.1 254.0h0.9v0.9h-0.9zM361.0 247.8h0.9v0.9h-0.9zM366.4 247.4h0.9v0.9h-0.9zM361.3 249.8h0.9v0.9h-0.9zM370.8 251.8h0.9v0.9h-0.9zM368.6 252.8h0.9v0.9h-0.9zM365.1 251.1h0.9v0.9h-0.9zM365.8 251.5h0.9v0.9h-0.9zM365.5 251.3h0.9v0.9h-0.9zM385.2 251.9h0.9v0.9h-0.9zM367.7 253.1h0.9v0.9h-0.9zM361.8 252.9h0.9v0.9h-0.9zM364.8 251.5h0.9v0.9h-0.9zM374.4 252.3h0.9v0.9h-0.9zM365.8 250.5h0.9v0.9h-0.9zM366.3 253.7h0.9v0.9h-0.9zM365.2 250.3h0.9v0.9h-0.9zM369.4 255.9h0.9v0.9h-0.9zM371.7 251.6h0.9v0.9h-0.9zM372.2 252.3h0.9v0.9h-0.9zM351.4 249.7h0.9v0.9h-0.9zM357.1 250.7h0.9v0.9h-0.9zM375.8 251.7h0.9v0.9h-0.9zM378.8 250.0h0.9v0.9h-0.9zM380.8 248.6h0.9v0.9h-0.9zM369.2 251.7h0.9v0.9h-0.9zM379.2 252.0h0.9v0.9h-0.9zM367.4 253.1h0.9v0.9h-0.9zM366.6 254.9h0.9v0.9h-0.9zM352.4 250.8h0.9v0.9h-0.9zM359.9 246.5h0.9v0.9h-0.9zM361.8 251.3h0.9v0.9h-0.9zM376.9 246.9h0.9v0.9h-0.9zM384.3 248.3h0.9v0.9h-0.9zM363.1 254.3h0.9v0.9h-0.9zM371.5 253.1h0.9v0.9h-0.9zM370.5 250.0h0.9v0.9h-0.9zM360.0 250.0h0.9v0.9h-0.9zM350.6 251.4h0.9v0.9h-0.9zM360.2 247.1h0.9v0.9h-0.9zM353.4 252.9h0.9v0.9h-0.9zM364.6 250.7h0.9v0.9h-0.9zM366.3 256.4h0.9v0.9h-0.9zM365.9 248.9h0.9v0.9h-0.9zM366.1 254.2h0.9v0.9h-0.9zM372.6 249.9h0.9v0.9h-0.9zM358.4 254.3h0.9v0.9h-0.9zM376.6 249.1h0.9v0.9h-0.9zM351.0 253.5h0.9v0.9h-0.9zM368.4 250.5h0.9v0.9h-0.9zM371.6 249.5h0.9v0.9h-0.9zM359.8 251.3h0.9v0.9h-0.9zM351.8 252.9h0.9v0.9h-0.9zM374.1 252.7h0.9v0.9h-0.9zM361.0 255.7h0.9v0.9h-0.9zM375.5 253.8h0.9v0.9h-0.9zM375.4 244.8h0.9v0.9h-0.9zM367.7 250.6h0.9v0.9h-0.9zM367.7 246.5h0.9v0.9h-0.9zM377.6 250.7h0.9v0.9h-0.9zM371.5 253.3h0.9v0.9h-0.9zM358.4 248.2h0.9v0.9h-0.9zM369.4 248.6h0.9v0.9h-0.9zM373.3 252.0h0.9v0.9h-0.9zM369.7 250.9h0.9v0.9h-0.9zM369.6 255.7h0.9v0.9h-0.9zM366.3 252.5h0.9v0.9h-0.9zM366.5 253.0h0.9v0.9h-0.9zM358.4 256.2h0.9v0.9h-0.9zM353.5 250.3h0.9v0.9h-0.9zM378.9 251.6h0.9v0.9h-0.9zM361.4 249.1h0.9v0.9h-0.9zM369.9 252.3h0.9v0.9h-0.9zM352.8 254.3h0.9v0.9h-0.9zM369.3 255.2h0.9v0.9h-0.9zM359.5 251.6h0.9v0.9h-0.9zM357.6 249.7h0.9v0.9h-0.9zM358.1 248.0h0.9v0.9h-0.9zM377.1 252.0h0.9v0.9h-0.9zM379.0 255.2h0.9v0.9h-0.9zM346.8 245.5h0.9v0.9h-0.9zM370.3 246.0h0.9v0.9h-0.9zM376.5 255.3h0.9v0.9h-0.9zM355.5 247.5h0.9v0.9h-0.9zM374.5 252.5h0.9v0.9h-0.9zM362.5 248.4h0.9v0.9h-0.9zM357.8 253.7h0.9v0.9h-0.9zM364.2 253.7h0.9v0.9h-0.9zM363.1 252.1h0.9v0.9h-0.9zM353.9 253.8h0.9v0.9h-0.9zM390.0 251.8h0.9v0.9h-0.9zM363.2 253.1h0.9v0.9h-0.9zM360.3 256.4h0.9v0.9h-0.9zM376.2 254.5h0.9v0.9h-0.9zM367.0 250.0h0.9v0.9h-0.9zM381.0 249.6h0.9v0.9h-0.9zM365.1 251.0h0.9v0.9h-0.9zM371.2 251.1h0.9v0.9h-0.9zM368.6 251.9h0.9v0.9h-0.9zM369.4 250.1h0.9v0.9h-0.9zM365.6 253.4h0.9v0.9h-0.9zM366.7 251.8h0.9v0.9h-0.9zM384.4 252.6h0.9v0.9h-0.9zM361.0 251.7h0.9v0.9h-0.9zM362.3 253.3h0.9v0.9h-0.9zM364.3 248.6h0.9v0.9h-0.9zM373.4 255.8h0.9v0.9h-0.9zM371.7 252.6h0.9v0.9h-0.9zM377.0 252.8h0.9v0.9h-0.9zM354.4 253.3h0.9v0.9h-0.9zM370.3 254.5h0.9v0.9h-0.9zM366.0 253.6h0.9v0.9h-0.9zM364.9 252.3h0.9v0.9h-0.9zM369.3 251.2h0.9v0.9h-0.9zM348.2 247.4h0.9v0.9h-0.9zM370.4 252.2h0.9v0.9h-0.9zM369.1 250.9h0.9v0.9h-0.9zM353.5 250.9h0.9v0.9h-0.9zM366.8 257.9h0.9v0.9h-0.9zM383.1 246.9h0.9v0.9h-0.9zM363.9 251.8h0.9v0.9h-0.9zM373.6 254.8h0.9v0.9h-0.9zM365.5 254.2h0.9v0.9h-0.9zM359.7 254.9h0.9v0.9h-0.9zM358.6 248.4h0.9v0.9h-0.9zM363.8 249.2h0.9v0.9h-0.9zM380.6 253.3h0.9v0.9h-0.9zM375.8 250.9h0.9v0.9h-0.9zM360.7 256.1h0.9v0.9h-0.9zM377.6 252.3h0.9v0.9h-0.9zM366.4 252.2h0.9v0.9h-0.9zM360.9 252.8h0.9v0.9h-0.9zM372.0 251.0h0.9v0.9h-0.9zM358.7 252.0h0.9v0.9h-0.9zM352.2 250.0h0.9v0.9h-0.9zM380.5 251.6h0.9v0.9h-0.9zM349.6 250.5h0.9v0.9h-0.9zM373.1 252.4h0.9v0.9h-0.9zM352.6 248.0h0.9v0.9h-0.9zM367.4 247.8h0.9v0.9h-0.9zM365.8 252.9h0.9v0.9h-0.9zM363.4 252.3h0.9v0.9h-0.9zM366.6 251.1h0.9v0.9h-0.9zM367.4 249.0h0.9v0.9h-0.9zM358.8 257.0h0.9v0.9h-0.9zM367.1 247.7h0.9v0.9h-0.9zM377.5 256.2h0.9v0.9h-0.9zM360.6 249.6h0.9v0.9h-0.9zM370.3 252.8h0.9v0.9h-0.9zM356.4 251.0h0.9v0.9h-0.9zM371.5 250.7h0.9v0.9h-0.9zM374.1 254.2h0.9v0.9h-0.9zM376.7 251.0h0.9v0.9h-0.9zM372.0 249.4h0.9v0.9h-0.9zM381.7 257.1h0.9v0.9h-0.9zM357.9 255.4h0.9v0.9h-0.9zM378.3 252.1h0.9v0.9h-0.9zM362.4 251.0h0.9v0.9h-0.9zM361.6 252.5h0.9v0.9h-0.9zM378.6 251.9h0.9v0.9h-0.9zM370.1 254.8h0.9v0.9h-0.9zM380.8 249.2h0.9v0.9h-0.9zM353.5 251.8h0.9v0.9h-0.9zM370.4 249.7h0.9v0.9h-0.9zM362.6 255.1h0.9v0.9h-0.9zM365.1 256.4h0.9v0.9h-0.9zM349.0 251.5h0.9v0.9h-0.9zM377.0 253.1h0.9v0.9h-0.9zM369.8 255.4h0.9v0.9h-0.9zM358.1 251.0h0.9v0.9h-0.9zM354.5 249.3h0.9v0.9h-0.9zM359.2 254.4h0.9v0.9h-0.9zM381.6 253.1h0.9v0.9h-0.9zM366.8 251.2h0.9v0.9h-0.9zM364.5 255.5h0.9v0.9h-0.9zM372.7 252.3h0.9v0.9h-0.9zM367.9 247.1h0.9v0.9h-0.9zM370.1 252.6h0.9v0.9h-0.9zM375.1 251.6h0.9v0.9h-0.9zM371.1 256.6h0.9v0.9h-0.9zM376.5 251.7h0.9v0.9h-0.9zM356.1 251.2h0.9v0.9h-0.9zM368.5 252.9h0.9v0.9h-0.9zM364.4 252.4h0.9v0.9h-0.9zM368.9 248.1h0.9v0.9h-0.9zM367.5 252.0h0.9v0.9h-0.9zM361.6 250.9h0.9v0.9h-0.9zM364.4 255.4h0.9v0.9h-0.9zM377.2 258.0h0.9v0.9h-0.9zM362.5 248.8h0.9v0.9h-0.9zM355.7 249.2h0.9v0.9h-0.9zM373.7 249.5h0.9v0.9h-0.9zM377.4 250.0h0.9v0.9h-0.9zM365.3 249.9h0.9v0.9h-0.9zM369.2 251.9h0.9v0.9h-0.9zM359.7 254.6h0.9v0.9h-0.9zM365.9 248.4h0.9v0.9h-0.9zM378.8 247.7h0.9v0.9h-0.9zM375.8 247.0h0.9v0.9h-0.9zM369.4 254.6h0.9v0.9h-0.9zM365.2 255.2h0.9v0.9h-0.9zM352.0 247.8h0.9v0.9h-0.9zM371.0 247.5h0.9v0.9h-0.9zM372.4 252.1h0.9v0.9h-0.9zM378.3 254.6h0.9v0.9h-0.9zM387.7 254.4h0.9v0.9h-0.9zM371.7 252.2h0.9v0.9h-0.9zM377.3 253.5h0.9v0.9h-0.9zM357.0 252.6h0.9v0.9h-0.9zM379.8 250.3h0.9v0.9h-0.9zM376.5 256.7h0.9v0.9h-0.9zM381.3 251.7h0.9v0.9h-0.9zM374.6 248.9h0.9v0.9h-0.9zM372.4 250.5h0.9v0.9h-0.9zM382.5 247.7h0.9v0.9h-0.9zM361.5 251.8h0.9v0.9h-0.9zM374.3 254.6h0.9v0.9h-0.9zM378.6 248.5h0.9v0.9h-0.9zM360.3 254.7h0.9v0.9h-0.9zM356.8 257.2h0.9v0.9h-0.9zM372.3 252.7h0.9v0.9h-0.9zM369.3 248.7h0.9v0.9h-0.9zM374.0 249.5h0.9v0.9h-0.9zM374.3 250.9h0.9v0.9h-0.9zM360.6 248.4h0.9v0.9h-0.9zM371.4 248.5h0.9v0.9h-0.9zM379.1 251.1h0.9v0.9h-0.9zM364.6 251.3h0.9v0.9h-0.9zM365.3 253.3h0.9v0.9h-0.9zM357.1 248.6h0.9v0.9h-0.9zM376.1 256.6h0.9v0.9h-0.9zM387.1 254.5h0.9v0.9h-0.9zM354.7 254.1h0.9v0.9h-0.9zM375.5 250.1h0.9v0.9h-0.9zM376.9 256.3h0.9v0.9h-0.9zM362.7 250.9h0.9v0.9h-0.9zM364.5 256.5h0.9v0.9h-0.9zM357.9 254.5h0.9v0.9h-0.9zM360.5 249.4h0.9v0.9h-0.9zM369.7 250.6h0.9v0.9h-0.9zM374.5 256.6h0.9v0.9h-0.9zM369.3 254.4h0.9v0.9h-0.9zM376.5 251.3h0.9v0.9h-0.9zM370.1 252.3h0.9v0.9h-0.9zM356.8 252.3h0.9v0.9h-0.9zM382.3 249.7h0.9v0.9h-0.9zM379.7 251.2h0.9v0.9h-0.9zM361.2 250.0h0.9v0.9h-0.9zM385.4 250.6h0.9v0.9h-0.9zM372.7 253.0h0.9v0.9h-0.9zM369.5 249.3h0.9v0.9h-0.9zM386.9 253.6h0.9v0.9h-0.9zM352.5 253.7h0.9v0.9h-0.9zM375.1 254.1h0.9v0.9h-0.9zM365.8 255.0h0.9v0.9h-0.9zM359.0 253.4h0.9v0.9h-0.9zM382.9 253.6h0.9v0.9h-0.9zM373.0 251.3h0.9v0.9h-0.9zM355.8 253.2h0.9v0.9h-0.9zM361.8 249.4h0.9v0.9h-0.9zM376.5 251.1h0.9v0.9h-0.9zM385.6 253.7h0.9v0.9h-0.9zM348.7 251.6h0.9v0.9h-0.9zM370.7 252.9h0.9v0.9h-0.9zM364.5 249.0h0.9v0.9h-0.9zM351.2 255.3h0.9v0.9h-0.9zM366.6 250.2h0.9v0.9h-0.9zM352.6 252.8h0.9v0.9h-0.9zM363.0 251.7h0.9v0.9h-0.9zM384.0 254.2h0.9v0.9h-0.9zM373.3 250.8h0.9v0.9h-0.9zM375.9 249.1h0.9v0.9h-0.9zM374.1 246.8h0.9v0.9h-0.9zM371.7 250.9h0.9v0.9h-0.9zM377.8 248.6h0.9v0.9h-0.9zM356.9 253.1h0.9v0.9h-0.9zM364.8 255.5h0.9v0.9h-0.9zM376.6 245.9h0.9v0.9h-0.9zM361.2 248.4h0.9v0.9h-0.9zM364.0 252.6h0.9v0.9h-0.9zM380.1 255.0h0.9v0.9h-0.9zM383.3 252.5h0.9v0.9h-0.9zM362.4 252.6h0.9v0.9h-0.9zM360.4 253.1h0.9v0.9h-0.9zM374.0 253.2h0.9v0.9h-0.9zM371.0 256.0h0.9v0.9h-0.9zM361.8 253.3h0.9v0.9h-0.9zM374.2 248.5h0.9v0.9h-0.9zM373.8 250.5h0.9v0.9h-0.9zM369.2 252.3h0.9v0.9h-0.9zM381.6 251.1h0.9v0.9h-0.9zM376.3 250.4h0.9v0.9h-0.9zM378.4 249.9h0.9v0.9h-0.9zM379.1 250.7h0.9v0.9h-0.9zM361.4 248.9h0.9v0.9h-0.9zM371.5 249.9h0.9v0.9h-0.9zM369.1 251.8h0.9v0.9h-0.9zM362.9 257.3h0.9v0.9h-0.9zM370.9 252.4h0.9v0.9h-0.9zM370.9 255.6h0.9v0.9h-0.9zM367.9 253.0h0.9v0.9h-0.9zM363.7 246.1h0.9v0.9h-0.9zM376.5 252.7h0.9v0.9h-0.9zM352.8 249.5h0.9v0.9h-0.9zM376.5 248.2h0.9v0.9h-0.9zM368.5 248.9h0.9v0.9h-0.9zM371.1 256.4h0.9v0.9h-0.9zM384.8 250.1h0.9v0.9h-0.9zM351.5 254.8h0.9v0.9h-0.9zM360.0 253.5h0.9v0.9h-0.9zM374.7 247.3h0.9v0.9h-0.9zM362.5 251.5h0.9v0.9h-0.9zM364.4 250.4h0.9v0.9h-0.9zM364.2 253.7h0.9v0.9h-0.9zM370.5 250.2h0.9v0.9h-0.9zM375.1 250.9h0.9v0.9h-0.9zM365.6 255.6h0.9v0.9h-0.9zM370.6 246.9h0.9v0.9h-0.9zM372.7 250.8h0.9v0.9h-0.9zM361.8 253.0h0.9v0.9h-0.9zM361.1 248.5h0.9v0.9h-0.9zM387.6 250.1h0.9v0.9h-0.9zM360.1 248.3h0.9v0.9h-0.9zM380.5 252.1h0.9v0.9h-0.9zM369.1 250.1h0.9v0.9h-0.9zM382.9 253.8h0.9v0.9h-0.9zM362.2 254.4h0.9v0.9h-0.9zM373.5 251.9h0.9v0.9h-0.9zM371.7 250.7h0.9v0.9h-0.9zM366.2 252.4h0.9v0.9h-0.9zM371.5 251.9h0.9v0.9h-0.9zM360.9 248.5h0.9v0.9h-0.9zM367.7 254.5h0.9v0.9h-0.9zM364.5 252.3h0.9v0.9h-0.9zM375.9 253.8h0.9v0.9h-0.9zM367.6 248.2h0.9v0.9h-0.9zM354.8 254.0h0.9v0.9h-0.9zM364.8 257.3h0.9v0.9h-0.9zM367.5 253.3h0.9v0.9h-0.9zM359.6 247.9h0.9v0.9h-0.9zM381.5 251.8h0.9v0.9h-0.9zM372.4 251.6h0.9v0.9h-0.9zM376.7 252.3h0.9v0.9h-0.9zM361.0 251.1h0.9v0.9h-0.9zM364.5 253.0h0.9v0.9h-0.9zM378.3 250.5h0.9v0.9h-0.9zM354.4 252.3h0.9v0.9h-0.9zM372.1 249.9h0.9v0.9h-0.9zM369.3 252.0h0.9v0.9h-0.9zM363.5 254.3h0.9v0.9h-0.9zM369.3 250.4h0.9v0.9h-0.9zM357.9 253.5h0.9v0.9h-0.9zM370.7 249.4h0.9v0.9h-0.9zM356.5 250.8h0.9v0.9h-0.9zM355.9 251.1h0.9v0.9h-0.9zM382.2 255.0h0.9v0.9h-0.9zM361.6 249.7h0.9v0.9h-0.9zM347.7 254.9h0.9v0.9h-0.9zM378.0 247.9h0.9v0.9h-0.9zM360.9 251.3h0.9v0.9h-0.9zM367.9 253.6h0.9v0.9h-0.9zM377.6 249.1h0.9v0.9h-0.9zM371.9 248.5h0.9v0.9h-0.9zM385.3 254.0h0.9v0.9h-0.9zM367.2 248.4h0.9v0.9h-0.9zM374.3 253.2h0.9v0.9h-0.9zM358.6 250.4h0.9v0.9h-0.9zM370.1 251.7h0.9v0.9h-0.9zM383.5 257.8h0.9v0.9h-0.9zM373.4 255.8h0.9v0.9h-0.9zM370.1 253.9h0.9v0.9h-0.9zM349.0 248.1h0.9v0.9h-0.9zM364.8 252.6h0.9v0.9h-0.9zM355.8 251.9h0.9v0.9h-0.9zM376.1 251.5h0.9v0.9h-0.9zM361.2 255.2h0.9v0.9h-0.9z" fill="#000" fill-opacity="0.33" filter="url(#bd)"/>
<line x1="350.6" y1="237.8" x2="350.6" y2="268.6" stroke="#000" stroke-width="1.1"/>
<rect x="401.80" y="237.50" width="67.40" height="30.50" fill="#fff" stroke="#000" stroke-width="1.1"/>
<ellipse cx="411.70" cy="250.80" rx="4.80" ry="6.40" fill="#000" filter="url(#bl)"/>
<ellipse cx="411.40" cy="252.80" rx="5.20" ry="4.30" fill="#000" filter="url(#bl)"/>
<ellipse cx="427.5" cy="252.2" rx="7" ry="1.6" fill="#000" fill-opacity="0.35" filter="url(#bl)"/>
<path d="M423.5 251.2h0.9v0.9h-0.9zM444.1 251.8h0.9v0.9h-0.9zM442.1 252.2h0.9v0.9h-0.9zM433.2 250.6h0.9v0.9h-0.9zM458.3 248.9h0.9v0.9h-0.9zM428.0 255.5h0.9v0.9h-0.9zM441.1 251.0h0.9v0.9h-0.9zM441.6 248.0h0.9v0.9h-0.9zM418.7 247.0h0.9v0.9h-0.9zM426.4 245.8h0.9v0.9h-0.9zM431.0 250.6h0.9v0.9h-0.9zM448.8 254.8h0.9v0.9h-0.9zM450.4 248.4h0.9v0.9h-0.9zM446.8 251.2h0.9v0.9h-0.9zM443.2 247.9h0.9v0.9h-0.9zM418.6 254.3h0.9v0.9h-0.9zM443.0 252.7h0.9v0.9h-0.9zM435.6 252.6h0.9v0.9h-0.9zM452.7 254.8h0.9v0.9h-0.9zM454.4 255.4h0.9v0.9h-0.9zM448.0 250.6h0.9v0.9h-0.9zM449.1 249.0h0.9v0.9h-0.9zM430.4 249.6h0.9v0.9h-0.9zM441.6 248.1h0.9v0.9h-0.9zM428.3 255.8h0.9v0.9h-0.9zM449.9 251.5h0.9v0.9h-0.9zM428.7 252.2h0.9v0.9h-0.9zM438.6 252.3h0.9v0.9h-0.9zM432.5 256.2h0.9v0.9h-0.9zM436.0 250.7h0.9v0.9h-0.9zM445.4 254.4h0.9v0.9h-0.9zM435.1 252.5h0.9v0.9h-0.9zM443.0 251.6h0.9v0.9h-0.9zM430.6 247.7h0.9v0.9h-0.9zM454.9 253.9h0.9v0.9h-0.9zM434.2 250.3h0.9v0.9h-0.9zM451.0 250.9h0.9v0.9h-0.9zM430.7 254.3h0.9v0.9h-0.9zM438.7 250.4h0.9v0.9h-0.9zM452.6 252.2h0.9v0.9h-0.9zM435.8 252.5h0.9v0.9h-0.9zM444.6 251.9h0.9v0.9h-0.9zM433.4 253.4h0.9v0.9h-0.9zM446.5 251.3h0.9v0.9h-0.9zM428.4 254.5h0.9v0.9h-0.9zM449.2 250.4h0.9v0.9h-0.9zM421.5 251.8h0.9v0.9h-0.9zM459.2 254.4h0.9v0.9h-0.9zM442.5 250.8h0.9v0.9h-0.9zM431.6 250.5h0.9v0.9h-0.9zM451.4 252.2h0.9v0.9h-0.9zM452.2 251.5h0.9v0.9h-0.9zM436.4 252.6h0.9v0.9h-0.9zM447.1 248.2h0.9v0.9h-0.9zM445.9 255.1h0.9v0.9h-0.9zM423.9 253.1h0.9v0.9h-0.9zM446.8 250.0h0.9v0.9h-0.9zM438.8 254.9h0.9v0.9h-0.9zM453.8 252.9h0.9v0.9h-0.9zM454.0 255.1h0.9v0.9h-0.9zM434.2 249.3h0.9v0.9h-0.9zM434.6 255.5h0.9v0.9h-0.9zM442.7 252.0h0.9v0.9h-0.9zM447.4 247.4h0.9v0.9h-0.9zM436.5 253.5h0.9v0.9h-0.9zM439.5 251.2h0.9v0.9h-0.9zM446.9 249.7h0.9v0.9h-0.9zM445.0 251.4h0.9v0.9h-0.9zM452.6 247.7h0.9v0.9h-0.9zM443.1 253.2h0.9v0.9h-0.9zM431.7 251.4h0.9v0.9h-0.9zM422.7 251.3h0.9v0.9h-0.9zM449.0 254.9h0.9v0.9h-0.9zM437.3 252.0h0.9v0.9h-0.9zM437.1 250.5h0.9v0.9h-0.9zM437.7 249.8h0.9v0.9h-0.9zM424.6 251.8h0.9v0.9h-0.9zM436.7 254.2h0.9v0.9h-0.9zM436.6 249.6h0.9v0.9h-0.9zM431.5 253.9h0.9v0.9h-0.9zM459.5 252.0h0.9v0.9h-0.9zM445.3 251.8h0.9v0.9h-0.9zM438.5 256.4h0.9v0.9h-0.9zM442.3 249.3h0.9v0.9h-0.9zM448.1 252.3h0.9v0.9h-0.9zM432.9 248.0h0.9v0.9h-0.9zM438.3 251.2h0.9v0.9h-0.9zM437.0 253.2h0.9v0.9h-0.9zM441.4 249.1h0.9v0.9h-0.9zM420.5 253.7h0.9v0.9h-0.9zM448.8 253.6h0.9v0.9h-0.9zM430.9 257.2h0.9v0.9h-0.9zM440.0 250.0h0.9v0.9h-0.9zM450.9 252.8h0.9v0.9h-0.9zM434.9 247.9h0.9v0.9h-0.9zM437.9 255.3h0.9v0.9h-0.9zM428.0 254.0h0.9v0.9h-0.9zM429.8 251.0h0.9v0.9h-0.9zM418.6 253.2h0.9v0.9h-0.9zM452.4 253.0h0.9v0.9h-0.9zM428.8 256.1h0.9v0.9h-0.9zM444.4 250.6h0.9v0.9h-0.9zM444.0 249.1h0.9v0.9h-0.9zM434.0 247.5h0.9v0.9h-0.9zM441.1 251.2h0.9v0.9h-0.9zM439.7 248.5h0.9v0.9h-0.9zM435.5 251.5h0.9v0.9h-0.9zM441.1 252.8h0.9v0.9h-0.9zM441.2 250.9h0.9v0.9h-0.9zM430.1 249.8h0.9v0.9h-0.9zM427.3 254.5h0.9v0.9h-0.9zM431.9 251.5h0.9v0.9h-0.9zM441.9 252.4h0.9v0.9h-0.9zM454.9 253.9h0.9v0.9h-0.9zM455.8 249.1h0.9v0.9h-0.9zM443.8 249.9h0.9v0.9h-0.9zM450.4 257.3h0.9v0.9h-0.9zM441.9 251.5h0.9v0.9h-0.9zM452.0 249.6h0.9v0.9h-0.9zM441.9 251.3h0.9v0.9h-0.9zM444.7 250.6h0.9v0.9h-0.9zM437.7 249.2h0.9v0.9h-0.9zM440.5 251.0h0.9v0.9h-0.9zM460.2 251.8h0.9v0.9h-0.9zM428.2 251.9h0.9v0.9h-0.9zM440.6 253.0h0.9v0.9h-0.9zM434.5 248.1h0.9v0.9h-0.9zM450.5 248.7h0.9v0.9h-0.9zM459.3 253.6h0.9v0.9h-0.9zM437.4 250.9h0.9v0.9h-0.9zM446.9 252.5h0.9v0.9h-0.9zM446.9 248.8h0.9v0.9h-0.9zM423.2 253.0h0.9v0.9h-0.9zM438.1 249.7h0.9v0.9h-0.9zM439.9 252.4h0.9v0.9h-0.9zM447.5 256.5h0.9v0.9h-0.9zM445.1 251.7h0.9v0.9h-0.9zM443.0 253.4h0.9v0.9h-0.9zM429.6 252.5h0.9v0.9h-0.9zM433.2 253.6h0.9v0.9h-0.9zM434.0 246.4h0.9v0.9h-0.9zM445.5 251.0h0.9v0.9h-0.9zM430.4 252.5h0.9v0.9h-0.9zM455.7 252.9h0.9v0.9h-0.9zM444.5 250.3h0.9v0.9h-0.9zM418.0 253.7h0.9v0.9h-0.9zM458.0 254.3h0.9v0.9h-0.9zM442.2 252.0h0.9v0.9h-0.9zM434.8 251.4h0.9v0.9h-0.9zM441.6 251.1h0.9v0.9h-0.9zM421.6 252.2h0.9v0.9h-0.9zM442.5 254.4h0.9v0.9h-0.9zM429.9 250.9h0.9v0.9h-0.9zM454.6 249.9h0.9v0.9h-0.9zM453.6 250.2h0.9v0.9h-0.9zM437.0 254.0h0.9v0.9h-0.9zM430.5 252.4h0.9v0.9h-0.9zM450.2 252.5h0.9v0.9h-0.9zM440.0 252.9h0.9v0.9h-0.9zM442.7 252.7h0.9v0.9h-0.9zM447.0 251.6h0.9v0.9h-0.9zM429.3 249.6h0.9v0.9h-0.9zM448.7 250.6h0.9v0.9h-0.9zM418.5 252.1h0.9v0.9h-0.9zM455.7 252.7h0.9v0.9h-0.9zM424.1 251.1h0.9v0.9h-0.9zM433.9 251.0h0.9v0.9h-0.9zM433.5 254.8h0.9v0.9h-0.9zM448.0 250.9h0.9v0.9h-0.9zM448.2 252.4h0.9v0.9h-0.9zM444.2 251.2h0.9v0.9h-0.9zM446.1 250.0h0.9v0.9h-0.9zM445.3 248.6h0.9v0.9h-0.9zM439.7 250.7h0.9v0.9h-0.9zM420.5 250.1h0.9v0.9h-0.9zM439.9 251.0h0.9v0.9h-0.9zM438.0 253.3h0.9v0.9h-0.9zM439.0 251.6h0.9v0.9h-0.9zM442.7 253.0h0.9v0.9h-0.9zM438.0 253.7h0.9v0.9h-0.9zM430.0 248.3h0.9v0.9h-0.9zM424.7 251.0h0.9v0.9h-0.9zM420.6 249.8h0.9v0.9h-0.9zM453.1 254.8h0.9v0.9h-0.9zM449.8 251.6h0.9v0.9h-0.9zM426.3 253.0h0.9v0.9h-0.9zM437.5 255.5h0.9v0.9h-0.9zM445.0 251.1h0.9v0.9h-0.9zM457.0 252.0h0.9v0.9h-0.9zM434.1 252.8h0.9v0.9h-0.9zM442.2 251.3h0.9v0.9h-0.9zM452.4 254.6h0.9v0.9h-0.9zM422.2 253.6h0.9v0.9h-0.9zM432.7 254.0h0.9v0.9h-0.9zM439.9 252.0h0.9v0.9h-0.9zM432.8 251.2h0.9v0.9h-0.9zM449.4 251.1h0.9v0.9h-0.9zM442.4 248.4h0.9v0.9h-0.9zM430.3 252.7h0.9v0.9h-0.9zM449.4 253.6h0.9v0.9h-0.9zM446.9 251.9h0.9v0.9h-0.9zM434.9 250.8h0.9v0.9h-0.9zM435.8 252.0h0.9v0.9h-0.9zM425.0 252.4h0.9v0.9h-0.9zM439.5 252.6h0.9v0.9h-0.9zM449.4 255.7h0.9v0.9h-0.9zM450.8 250.1h0.9v0.9h-0.9zM446.4 252.7h0.9v0.9h-0.9zM448.9 253.4h0.9v0.9h-0.9zM434.2 252.1h0.9v0.9h-0.9zM435.4 251.4h0.9v0.9h-0.9zM452.9 249.7h0.9v0.9h-0.9zM445.0 250.6h0.9v0.9h-0.9zM432.0 253.4h0.9v0.9h-0.9zM445.5 255.0h0.9v0.9h-0.9zM449.0 250.5h0.9v0.9h-0.9zM447.7 252.9h0.9v0.9h-0.9zM441.4 253.0h0.9v0.9h-0.9zM434.9 254.0h0.9v0.9h-0.9zM444.5 252.4h0.9v0.9h-0.9zM458.0 252.8h0.9v0.9h-0.9zM441.8 253.8h0.9v0.9h-0.9zM433.3 249.4h0.9v0.9h-0.9zM443.8 252.0h0.9v0.9h-0.9zM427.4 248.1h0.9v0.9h-0.9zM442.7 247.7h0.9v0.9h-0.9zM437.1 250.1h0.9v0.9h-0.9zM450.3 248.6h0.9v0.9h-0.9zM441.3 253.0h0.9v0.9h-0.9zM451.2 254.0h0.9v0.9h-0.9zM438.0 251.6h0.9v0.9h-0.9zM431.6 251.4h0.9v0.9h-0.9zM445.0 251.3h0.9v0.9h-0.9zM439.3 252.2h0.9v0.9h-0.9zM441.7 252.6h0.9v0.9h-0.9zM434.0 250.9h0.9v0.9h-0.9zM446.0 250.2h0.9v0.9h-0.9zM441.0 250.8h0.9v0.9h-0.9zM417.7 253.6h0.9v0.9h-0.9zM437.8 251.0h0.9v0.9h-0.9zM443.7 255.0h0.9v0.9h-0.9zM452.5 251.4h0.9v0.9h-0.9zM434.2 254.8h0.9v0.9h-0.9zM431.9 249.3h0.9v0.9h-0.9zM452.2 250.4h0.9v0.9h-0.9zM433.9 252.9h0.9v0.9h-0.9zM441.3 252.9h0.9v0.9h-0.9zM445.1 251.5h0.9v0.9h-0.9zM447.9 256.2h0.9v0.9h-0.9zM440.3 252.0h0.9v0.9h-0.9zM428.7 252.5h0.9v0.9h-0.9zM450.7 250.7h0.9v0.9h-0.9zM435.7 255.4h0.9v0.9h-0.9zM434.8 253.7h0.9v0.9h-0.9zM461.1 252.7h0.9v0.9h-0.9zM449.4 248.4h0.9v0.9h-0.9zM429.2 252.6h0.9v0.9h-0.9zM435.2 250.9h0.9v0.9h-0.9zM437.7 252.7h0.9v0.9h-0.9zM432.4 253.8h0.9v0.9h-0.9zM420.3 250.3h0.9v0.9h-0.9zM448.5 252.3h0.9v0.9h-0.9zM448.3 253.7h0.9v0.9h-0.9zM442.7 252.2h0.9v0.9h-0.9zM436.0 251.2h0.9v0.9h-0.9zM442.4 249.6h0.9v0.9h-0.9zM446.8 250.5h0.9v0.9h-0.9zM429.4 249.2h0.9v0.9h-0.9zM436.8 254.0h0.9v0.9h-0.9zM434.4 252.1h0.9v0.9h-0.9zM447.4 249.3h0.9v0.9h-0.9zM442.9 251.9h0.9v0.9h-0.9zM426.7 249.1h0.9v0.9h-0.9zM433.8 244.9h0.9v0.9h-0.9zM458.5 254.4h0.9v0.9h-0.9zM430.1 254.3h0.9v0.9h-0.9zM441.8 248.8h0.9v0.9h-0.9zM433.7 250.4h0.9v0.9h-0.9zM453.1 252.3h0.9v0.9h-0.9zM439.5 251.1h0.9v0.9h-0.9zM435.7 250.1h0.9v0.9h-0.9zM428.0 250.8h0.9v0.9h-0.9zM437.6 251.4h0.9v0.9h-0.9zM448.8 250.7h0.9v0.9h-0.9zM447.1 252.3h0.9v0.9h-0.9zM426.5 251.4h0.9v0.9h-0.9zM456.3 250.3h0.9v0.9h-0.9zM437.6 251.9h0.9v0.9h-0.9zM429.2 248.4h0.9v0.9h-0.9zM441.5 254.9h0.9v0.9h-0.9zM433.7 248.2h0.9v0.9h-0.9zM434.2 251.7h0.9v0.9h-0.9zM433.6 252.6h0.9v0.9h-0.9zM439.2 252.7h0.9v0.9h-0.9zM435.0 252.4h0.9v0.9h-0.9zM422.4 254.5h0.9v0.9h-0.9zM445.5 249.5h0.9v0.9h-0.9zM434.7 251.7h0.9v0.9h-0.9zM452.5 252.2h0.9v0.9h-0.9zM445.7 250.8h0.9v0.9h-0.9zM446.5 250.6h0.9v0.9h-0.9zM442.0 254.6h0.9v0.9h-0.9zM453.5 250.4h0.9v0.9h-0.9zM436.7 250.9h0.9v0.9h-0.9zM429.8 251.3h0.9v0.9h-0.9zM443.7 251.4h0.9v0.9h-0.9zM436.3 251.4h0.9v0.9h-0.9zM442.3 252.6h0.9v0.9h-0.9zM435.8 252.1h0.9v0.9h-0.9zM453.1 252.9h0.9v0.9h-0.9zM447.4 254.7h0.9v0.9h-0.9zM441.3 250.1h0.9v0.9h-0.9zM436.0 255.3h0.9v0.9h-0.9zM451.4 250.9h0.9v0.9h-0.9zM433.1 253.3h0.9v0.9h-0.9zM435.8 252.2h0.9v0.9h-0.9zM447.8 251.2h0.9v0.9h-0.9zM446.3 247.7h0.9v0.9h-0.9zM461.1 255.2h0.9v0.9h-0.9zM437.9 250.3h0.9v0.9h-0.9zM420.7 250.2h0.9v0.9h-0.9zM446.9 254.1h0.9v0.9h-0.9zM453.1 252.0h0.9v0.9h-0.9zM438.4 255.8h0.9v0.9h-0.9zM456.2 255.4h0.9v0.9h-0.9zM458.5 253.3h0.9v0.9h-0.9zM433.2 252.4h0.9v0.9h-0.9zM435.1 253.4h0.9v0.9h-0.9zM427.1 249.1h0.9v0.9h-0.9zM445.7 252.2h0.9v0.9h-0.9zM447.5 252.2h0.9v0.9h-0.9zM446.3 250.9h0.9v0.9h-0.9zM427.3 252.4h0.9v0.9h-0.9zM432.2 248.8h0.9v0.9h-0.9zM425.3 253.7h0.9v0.9h-0.9zM423.4 254.5h0.9v0.9h-0.9zM426.2 249.1h0.9v0.9h-0.9zM423.7 252.2h0.9v0.9h-0.9zM438.2 255.1h0.9v0.9h-0.9zM444.4 252.7h0.9v0.9h-0.9zM446.5 249.7h0.9v0.9h-0.9zM439.8 249.8h0.9v0.9h-0.9zM433.1 253.6h0.9v0.9h-0.9zM439.9 255.7h0.9v0.9h-0.9zM445.9 249.6h0.9v0.9h-0.9zM437.0 251.9h0.9v0.9h-0.9zM440.6 250.2h0.9v0.9h-0.9zM436.9 251.3h0.9v0.9h-0.9zM434.6 252.5h0.9v0.9h-0.9zM440.4 251.8h0.9v0.9h-0.9zM428.5 250.4h0.9v0.9h-0.9zM450.9 256.2h0.9v0.9h-0.9zM423.9 251.5h0.9v0.9h-0.9zM444.8 251.5h0.9v0.9h-0.9zM426.0 254.2h0.9v0.9h-0.9zM455.6 251.9h0.9v0.9h-0.9zM449.0 251.4h0.9v0.9h-0.9zM431.6 253.8h0.9v0.9h-0.9zM435.4 249.7h0.9v0.9h-0.9zM428.4 253.4h0.9v0.9h-0.9zM439.4 254.0h0.9v0.9h-0.9zM444.2 253.2h0.9v0.9h-0.9zM425.9 251.8h0.9v0.9h-0.9zM452.8 248.3h0.9v0.9h-0.9zM434.0 251.6h0.9v0.9h-0.9zM442.8 252.4h0.9v0.9h-0.9zM449.1 253.6h0.9v0.9h-0.9zM445.6 252.1h0.9v0.9h-0.9zM444.4 251.0h0.9v0.9h-0.9zM438.0 250.1h0.9v0.9h-0.9zM439.9 251.7h0.9v0.9h-0.9zM441.6 252.1h0.9v0.9h-0.9zM452.3 254.4h0.9v0.9h-0.9zM424.9 251.9h0.9v0.9h-0.9zM434.9 250.8h0.9v0.9h-0.9zM427.2 251.6h0.9v0.9h-0.9zM430.1 250.8h0.9v0.9h-0.9zM431.8 251.4h0.9v0.9h-0.9zM451.3 247.2h0.9v0.9h-0.9zM453.9 249.4h0.9v0.9h-0.9zM427.8 252.8h0.9v0.9h-0.9zM440.8 251.7h0.9v0.9h-0.9zM428.3 252.1h0.9v0.9h-0.9zM444.6 254.3h0.9v0.9h-0.9zM453.1 249.7h0.9v0.9h-0.9zM446.0 254.2h0.9v0.9h-0.9zM449.0 252.6h0.9v0.9h-0.9zM438.5 250.4h0.9v0.9h-0.9zM419.8 254.9h0.9v0.9h-0.9zM419.6 248.9h0.9v0.9h-0.9zM439.0 249.5h0.9v0.9h-0.9zM445.9 251.4h0.9v0.9h-0.9zM453.1 252.7h0.9v0.9h-0.9zM436.4 251.4h0.9v0.9h-0.9zM440.8 247.4h0.9v0.9h-0.9zM442.6 251.2h0.9v0.9h-0.9zM450.9 251.7h0.9v0.9h-0.9zM439.3 257.1h0.9v0.9h-0.9zM428.7 254.7h0.9v0.9h-0.9zM451.1 252.1h0.9v0.9h-0.9zM444.2 249.6h0.9v0.9h-0.9zM443.9 252.5h0.9v0.9h-0.9zM426.9 249.4h0.9v0.9h-0.9zM439.9 252.3h0.9v0.9h-0.9zM422.3 252.6h0.9v0.9h-0.9zM419.4 251.0h0.9v0.9h-0.9zM437.6 252.4h0.9v0.9h-0.9zM435.5 251.2h0.9v0.9h-0.9zM445.8 250.7h0.9v0.9h-0.9zM454.8 255.0h0.9v0.9h-0.9zM439.6 253.0h0.9v0.9h-0.9zM458.4 251.2h0.9v0.9h-0.9zM434.0 250.2h0.9v0.9h-0.9zM447.8 252.2h0.9v0.9h-0.9zM427.0 253.0h0.9v0.9h-0.9zM441.3 253.6h0.9v0.9h-0.9zM436.7 254.9h0.9v0.9h-0.9zM437.8 252.8h0.9v0.9h-0.9zM446.0 249.5h0.9v0.9h-0.9zM420.6 256.0h0.9v0.9h-0.9zM441.2 254.2h0.9v0.9h-0.9zM431.7 253.6h0.9v0.9h-0.9zM441.2 254.6h0.9v0.9h-0.9zM444.0 248.7h0.9v0.9h-0.9zM436.2 251.1h0.9v0.9h-0.9zM436.2 250.8h0.9v0.9h-0.9zM428.2 254.3h0.9v0.9h-0.9zM445.6 249.4h0.9v0.9h-0.9zM433.1 251.2h0.9v0.9h-0.9zM444.6 255.0h0.9v0.9h-0.9zM425.4 253.2h0.9v0.9h-0.9zM454.0 251.0h0.9v0.9h-0.9zM429.5 255.7h0.9v0.9h-0.9zM451.9 249.1h0.9v0.9h-0.9zM435.4 252.8h0.9v0.9h-0.9zM445.6 251.4h0.9v0.9h-0.9zM438.5 252.9h0.9v0.9h-0.9zM447.0 251.3h0.9v0.9h-0.9zM440.0 250.1h0.9v0.9h-0.9zM453.0 252.3h0.9v0.9h-0.9zM446.9 249.1h0.9v0.9h-0.9zM447.0 252.9h0.9v0.9h-0.9zM457.1 251.2h0.9v0.9h-0.9zM432.8 253.7h0.9v0.9h-0.9zM453.3 250.9h0.9v0.9h-0.9zM440.7 250.4h0.9v0.9h-0.9zM424.8 252.7h0.9v0.9h-0.9zM444.9 254.4h0.9v0.9h-0.9zM437.9 247.5h0.9v0.9h-0.9zM457.3 252.1h0.9v0.9h-0.9zM435.0 253.1h0.9v0.9h-0.9zM440.5 248.9h0.9v0.9h-0.9zM442.4 250.0h0.9v0.9h-0.9zM420.5 253.2h0.9v0.9h-0.9zM445.2 250.1h0.9v0.9h-0.9zM429.8 250.5h0.9v0.9h-0.9zM454.4 255.4h0.9v0.9h-0.9zM457.1 249.9h0.9v0.9h-0.9zM439.9 250.0h0.9v0.9h-0.9zM423.7 247.0h0.9v0.9h-0.9zM441.9 249.6h0.9v0.9h-0.9zM441.8 249.3h0.9v0.9h-0.9zM447.4 255.4h0.9v0.9h-0.9zM437.0 254.3h0.9v0.9h-0.9zM427.8 249.2h0.9v0.9h-0.9zM438.5 255.9h0.9v0.9h-0.9zM430.5 253.4h0.9v0.9h-0.9zM458.2 251.4h0.9v0.9h-0.9zM432.7 253.5h0.9v0.9h-0.9zM433.3 252.6h0.9v0.9h-0.9zM439.5 250.2h0.9v0.9h-0.9zM427.3 248.2h0.9v0.9h-0.9zM435.4 249.9h0.9v0.9h-0.9zM438.6 251.8h0.9v0.9h-0.9zM435.0 251.1h0.9v0.9h-0.9zM437.4 250.3h0.9v0.9h-0.9zM452.7 253.8h0.9v0.9h-0.9zM444.4 249.6h0.9v0.9h-0.9zM426.3 253.7h0.9v0.9h-0.9zM435.6 250.8h0.9v0.9h-0.9zM447.7 252.0h0.9v0.9h-0.9zM433.3 249.5h0.9v0.9h-0.9zM440.8 251.8h0.9v0.9h-0.9zM439.7 250.2h0.9v0.9h-0.9zM445.4 248.2h0.9v0.9h-0.9zM438.2 251.8h0.9v0.9h-0.9zM438.6 251.7h0.9v0.9h-0.9zM431.2 253.5h0.9v0.9h-0.9zM443.7 252.4h0.9v0.9h-0.9zM430.5 249.7h0.9v0.9h-0.9zM457.8 250.5h0.9v0.9h-0.9zM439.8 246.7h0.9v0.9h-0.9zM437.7 249.5h0.9v0.9h-0.9zM448.1 254.5h0.9v0.9h-0.9zM439.1 255.0h0.9v0.9h-0.9zM440.9 253.4h0.9v0.9h-0.9zM439.5 252.4h0.9v0.9h-0.9zM432.6 253.0h0.9v0.9h-0.9zM430.6 252.8h0.9v0.9h-0.9zM432.8 248.2h0.9v0.9h-0.9zM451.6 250.0h0.9v0.9h-0.9zM433.6 254.3h0.9v0.9h-0.9zM435.8 254.3h0.9v0.9h-0.9zM435.4 252.3h0.9v0.9h-0.9zM447.1 251.2h0.9v0.9h-0.9zM460.3 251.0h0.9v0.9h-0.9zM430.5 250.7h0.9v0.9h-0.9zM445.6 249.9h0.9v0.9h-0.9zM441.2 247.8h0.9v0.9h-0.9zM436.9 252.1h0.9v0.9h-0.9zM445.2 250.9h0.9v0.9h-0.9zM427.0 251.4h0.9v0.9h-0.9zM448.5 255.4h0.9v0.9h-0.9zM442.3 253.0h0.9v0.9h-0.9zM429.8 250.4h0.9v0.9h-0.9zM456.3 253.0h0.9v0.9h-0.9zM448.7 248.7h0.9v0.9h-0.9zM451.9 254.0h0.9v0.9h-0.9zM425.1 252.4h0.9v0.9h-0.9zM437.2 251.4h0.9v0.9h-0.9zM434.6 253.0h0.9v0.9h-0.9zM446.4 254.8h0.9v0.9h-0.9zM453.9 250.8h0.9v0.9h-0.9zM420.5 249.8h0.9v0.9h-0.9zM440.2 256.2h0.9v0.9h-0.9zM438.7 251.8h0.9v0.9h-0.9zM450.2 254.9h0.9v0.9h-0.9zM439.6 250.4h0.9v0.9h-0.9zM427.0 252.6h0.9v0.9h-0.9zM438.0 250.5h0.9v0.9h-0.9zM429.4 253.1h0.9v0.9h-0.9zM432.0 251.2h0.9v0.9h-0.9zM440.4 250.4h0.9v0.9h-0.9zM435.1 255.0h0.9v0.9h-0.9zM442.9 252.5h0.9v0.9h-0.9zM424.5 247.6h0.9v0.9h-0.9zM452.9 249.9h0.9v0.9h-0.9zM447.3 249.3h0.9v0.9h-0.9zM426.8 250.6h0.9v0.9h-0.9zM417.9 250.8h0.9v0.9h-0.9zM431.2 251.9h0.9v0.9h-0.9zM437.6 250.2h0.9v0.9h-0.9zM453.4 250.7h0.9v0.9h-0.9zM434.6 253.6h0.9v0.9h-0.9zM452.4 249.0h0.9v0.9h-0.9zM452.5 253.1h0.9v0.9h-0.9zM440.2 252.8h0.9v0.9h-0.9zM452.4 250.9h0.9v0.9h-0.9zM443.4 252.4h0.9v0.9h-0.9zM433.3 250.2h0.9v0.9h-0.9zM428.0 251.0h0.9v0.9h-0.9zM438.7 249.7h0.9v0.9h-0.9zM450.2 252.8h0.9v0.9h-0.9zM426.1 254.7h0.9v0.9h-0.9zM423.5 250.4h0.9v0.9h-0.9zM445.6 254.3h0.9v0.9h-0.9zM458.6 250.0h0.9v0.9h-0.9zM435.5 249.7h0.9v0.9h-0.9zM447.5 255.4h0.9v0.9h-0.9zM459.0 250.6h0.9v0.9h-0.9zM425.2 253.4h0.9v0.9h-0.9zM429.3 247.5h0.9v0.9h-0.9zM437.1 253.0h0.9v0.9h-0.9zM438.7 251.7h0.9v0.9h-0.9zM442.3 246.1h0.9v0.9h-0.9zM450.8 252.2h0.9v0.9h-0.9zM453.6 253.5h0.9v0.9h-0.9zM441.1 254.6h0.9v0.9h-0.9zM436.6 252.6h0.9v0.9h-0.9zM439.6 248.3h0.9v0.9h-0.9zM443.1 251.4h0.9v0.9h-0.9zM453.4 253.7h0.9v0.9h-0.9zM441.4 250.1h0.9v0.9h-0.9zM458.6 253.0h0.9v0.9h-0.9zM431.2 250.8h0.9v0.9h-0.9zM445.4 252.0h0.9v0.9h-0.9zM458.0 253.4h0.9v0.9h-0.9zM453.2 250.3h0.9v0.9h-0.9zM443.4 257.8h0.9v0.9h-0.9zM431.0 252.1h0.9v0.9h-0.9zM432.7 252.5h0.9v0.9h-0.9zM438.4 250.2h0.9v0.9h-0.9zM443.2 251.9h0.9v0.9h-0.9zM437.5 251.2h0.9v0.9h-0.9zM425.1 248.7h0.9v0.9h-0.9zM432.5 248.6h0.9v0.9h-0.9zM445.3 252.4h0.9v0.9h-0.9zM448.5 251.6h0.9v0.9h-0.9zM425.7 246.3h0.9v0.9h-0.9zM436.3 247.3h0.9v0.9h-0.9zM422.9 251.2h0.9v0.9h-0.9zM434.2 251.7h0.9v0.9h-0.9zM440.7 249.2h0.9v0.9h-0.9zM436.5 253.0h0.9v0.9h-0.9zM434.0 251.2h0.9v0.9h-0.9zM427.6 250.7h0.9v0.9h-0.9zM421.0 251.5h0.9v0.9h-0.9zM439.6 253.9h0.9v0.9h-0.9zM437.2 253.0h0.9v0.9h-0.9zM455.1 253.7h0.9v0.9h-0.9zM423.3 250.4h0.9v0.9h-0.9zM444.5 251.2h0.9v0.9h-0.9zM453.7 249.4h0.9v0.9h-0.9zM420.0 250.6h0.9v0.9h-0.9zM446.7 251.0h0.9v0.9h-0.9zM423.5 250.8h0.9v0.9h-0.9zM445.3 253.3h0.9v0.9h-0.9zM455.1 252.7h0.9v0.9h-0.9zM440.0 253.4h0.9v0.9h-0.9zM442.9 252.1h0.9v0.9h-0.9zM432.9 254.1h0.9v0.9h-0.9zM443.0 252.0h0.9v0.9h-0.9zM451.6 253.8h0.9v0.9h-0.9zM438.1 252.9h0.9v0.9h-0.9zM438.6 253.3h0.9v0.9h-0.9zM444.0 251.7h0.9v0.9h-0.9zM448.4 249.2h0.9v0.9h-0.9zM423.3 248.8h0.9v0.9h-0.9zM440.6 255.9h0.9v0.9h-0.9zM433.0 252.6h0.9v0.9h-0.9zM445.1 252.7h0.9v0.9h-0.9zM450.6 251.4h0.9v0.9h-0.9zM443.2 250.8h0.9v0.9h-0.9zM453.2 257.8h0.9v0.9h-0.9zM429.9 249.4h0.9v0.9h-0.9zM435.8 251.7h0.9v0.9h-0.9zM429.9 251.7h0.9v0.9h-0.9zM440.6 249.4h0.9v0.9h-0.9zM441.0 249.1h0.9v0.9h-0.9zM438.0 250.3h0.9v0.9h-0.9zM427.6 251.1h0.9v0.9h-0.9zM439.2 250.8h0.9v0.9h-0.9zM435.5 253.5h0.9v0.9h-0.9zM446.2 249.3h0.9v0.9h-0.9zM437.2 252.6h0.9v0.9h-0.9zM451.9 254.9h0.9v0.9h-0.9zM442.4 253.7h0.9v0.9h-0.9zM421.0 249.4h0.9v0.9h-0.9zM438.2 245.6h0.9v0.9h-0.9zM425.4 253.6h0.9v0.9h-0.9zM449.9 252.8h0.9v0.9h-0.9zM454.7 250.6h0.9v0.9h-0.9zM439.7 254.5h0.9v0.9h-0.9zM444.5 251.0h0.9v0.9h-0.9zM425.2 252.0h0.9v0.9h-0.9zM434.3 252.5h0.9v0.9h-0.9zM437.4 250.9h0.9v0.9h-0.9zM424.5 250.7h0.9v0.9h-0.9zM440.9 254.1h0.9v0.9h-0.9zM443.2 252.3h0.9v0.9h-0.9zM446.6 248.7h0.9v0.9h-0.9zM455.9 253.3h0.9v0.9h-0.9zM448.3 253.6h0.9v0.9h-0.9zM436.3 250.1h0.9v0.9h-0.9zM441.1 251.0h0.9v0.9h-0.9zM446.2 251.9h0.9v0.9h-0.9zM429.3 251.3h0.9v0.9h-0.9zM453.6 252.1h0.9v0.9h-0.9zM449.2 253.2h0.9v0.9h-0.9zM437.7 250.8h0.9v0.9h-0.9zM433.5 256.2h0.9v0.9h-0.9zM448.6 250.7h0.9v0.9h-0.9zM449.6 255.9h0.9v0.9h-0.9zM458.4 256.8h0.9v0.9h-0.9zM450.1 251.9h0.9v0.9h-0.9zM442.2 251.4h0.9v0.9h-0.9zM447.2 249.5h0.9v0.9h-0.9zM430.7 254.2h0.9v0.9h-0.9zM447.4 252.2h0.9v0.9h-0.9zM424.3 250.0h0.9v0.9h-0.9zM444.4 252.7h0.9v0.9h-0.9zM445.8 254.7h0.9v0.9h-0.9zM424.1 253.2h0.9v0.9h-0.9zM459.7 256.4h0.9v0.9h-0.9zM428.3 254.2h0.9v0.9h-0.9zM450.8 252.7h0.9v0.9h-0.9zM434.7 251.7h0.9v0.9h-0.9zM443.3 253.0h0.9v0.9h-0.9zM433.3 254.4h0.9v0.9h-0.9zM450.7 254.0h0.9v0.9h-0.9zM458.6 252.3h0.9v0.9h-0.9zM448.1 253.4h0.9v0.9h-0.9zM447.3 254.4h0.9v0.9h-0.9zM441.7 251.5h0.9v0.9h-0.9zM437.7 249.1h0.9v0.9h-0.9zM446.4 255.4h0.9v0.9h-0.9zM441.8 253.0h0.9v0.9h-0.9zM438.6 250.9h0.9v0.9h-0.9zM426.1 252.3h0.9v0.9h-0.9zM437.0 251.3h0.9v0.9h-0.9zM446.4 248.2h0.9v0.9h-0.9zM435.4 251.4h0.9v0.9h-0.9zM443.8 248.8h0.9v0.9h-0.9zM438.7 252.2h0.9v0.9h-0.9zM429.6 251.6h0.9v0.9h-0.9zM430.9 254.2h0.9v0.9h-0.9zM432.6 251.5h0.9v0.9h-0.9zM437.2 252.6h0.9v0.9h-0.9zM437.5 251.2h0.9v0.9h-0.9zM451.7 251.0h0.9v0.9h-0.9zM429.1 248.9h0.9v0.9h-0.9zM419.3 253.9h0.9v0.9h-0.9zM447.3 252.2h0.9v0.9h-0.9zM435.6 250.6h0.9v0.9h-0.9zM439.0 252.2h0.9v0.9h-0.9zM455.3 250.3h0.9v0.9h-0.9zM446.3 252.3h0.9v0.9h-0.9zM450.0 254.4h0.9v0.9h-0.9zM441.5 251.2h0.9v0.9h-0.9zM450.1 248.8h0.9v0.9h-0.9zM434.0 250.5h0.9v0.9h-0.9zM433.0 255.6h0.9v0.9h-0.9zM435.5 250.1h0.9v0.9h-0.9zM456.5 254.3h0.9v0.9h-0.9zM456.2 251.3h0.9v0.9h-0.9zM434.1 253.4h0.9v0.9h-0.9zM452.2 251.6h0.9v0.9h-0.9zM438.7 248.5h0.9v0.9h-0.9zM451.3 250.9h0.9v0.9h-0.9zM437.0 256.2h0.9v0.9h-0.9zM450.1 251.5h0.9v0.9h-0.9zM439.2 253.0h0.9v0.9h-0.9z" fill="#000" fill-opacity="0.55" filter="url(#bd)"/>
<line x1="421.5" y1="237.5" x2="421.5" y2="268.0" stroke="#000" stroke-width="1.1"/>
<g stroke="none">
<text x="324.8" y="265.7" font-size="10.3" text-anchor="end">2%</text>
<text x="395.6" y="265.7" font-size="10.3" text-anchor="end">5%</text>
<text x="466.5" y="265.7" font-size="10.3" text-anchor="end">10%</text>
</g>
<line x1="249.6" y1="265.5" x2="249.6" y2="276.8" stroke="#000" stroke-width="1.3"/>
<line x1="249.6" y1="276.3" x2="430" y2="276.3" stroke="#000" stroke-width="1.3"/>
<path d="M247.9 267 L249.6 262.8 L251.3 267Z" fill="#000"/>
<path d="M429.5 274.6 L433.2 276.3 L429.5 278Z" fill="#000"/>
<text x="256.2" y="250.7" font-size="11.2" font-weight="bold" text-anchor="middle" fill="#000" transform="rotate(-90 256.2 250.7)">SSC</text>
<text x="442.0" y="281.0" font-size="11.2" font-weight="bold" text-anchor="start" fill="#000">IL-17</text>
<text x="190.0" y="300.9" font-size="17.5" font-weight="bold" text-anchor="start" fill="#000">F</text>
<line x1="252.9" y1="302.2" x2="252.9" y2="403.2" stroke="#000" stroke-width="1.3"/>
<line x1="252.3" y1="402.6" x2="348" y2="402.6" stroke="#000" stroke-width="1.3"/>
<line x1="249.9" y1="402.6" x2="252.9" y2="402.6" stroke="#000" stroke-width="1.3"/>
<text x="238.4" y="405.40000000000003" font-size="11.5" font-weight="normal" text-anchor="middle" fill="#000" stroke="#000" stroke-width="0.15">0</text>
<line x1="249.9" y1="382.3" x2="252.9" y2="382.3" stroke="#000" stroke-width="1.3"/>
<text x="238.4" y="385.02000000000004" font-size="11.5" font-weight="normal" text-anchor="middle" fill="#000" stroke="#000" stroke-width="0.15">50</text>
<line x1="249.9" y1="362.3" x2="252.9" y2="362.3" stroke="#000" stroke-width="1.3"/>
<text x="238.4" y="364.64000000000004" font-size="11.5" font-weight="normal" text-anchor="middle" fill="#000" stroke="#000" stroke-width="0.15">100</text>
<line x1="249.9" y1="342.4" x2="252.9" y2="342.4" stroke="#000" stroke-width="1.3"/>
<text x="238.4" y="344.26000000000005" font-size="11.5" font-weight="normal" text-anchor="middle" fill="#000" stroke="#000" stroke-width="0.15">150</text>
<line x1="249.9" y1="322.7" x2="252.9" y2="322.7" stroke="#000" stroke-width="1.3"/>
<text x="238.4" y="323.88000000000005" font-size="11.5" font-weight="normal" text-anchor="middle" fill="#000" stroke="#000" stroke-width="0.15">200</text>
<line x1="249.9" y1="302.8" x2="252.9" y2="302.8" stroke="#000" stroke-width="1.3"/>
<text x="238.4" y="303.50000000000006" font-size="11.5" font-weight="normal" text-anchor="middle" fill="#000" stroke="#000" stroke-width="0.15">250</text>
<rect x="254.80" y="401.20" width="15.90" height="1.40" fill="#000"/>
<rect x="273.80" y="398.20" width="15.60" height="4.40" fill="#000"/>
<line x1="281.6" y1="396.4" x2="281.6" y2="398.2" stroke="#000" stroke-width="1.3"/>
<line x1="277.70000000000005" y1="396.4" x2="285.5" y2="396.4" stroke="#000" stroke-width="1.3"/>
<rect x="291.70" y="389.10" width="16.50" height="13.50" fill="#000"/>
<line x1="299.95" y1="385.4" x2="299.95" y2="389.1" stroke="#000" stroke-width="1.3"/>
<line x1="295.825" y1="385.4" x2="304.075" y2="385.4" stroke="#000" stroke-width="1.3"/>
<rect x="309.60" y="369.80" width="16.40" height="32.80" fill="#000"/>
<line x1="317.8" y1="362.6" x2="317.8" y2="369.8" stroke="#000" stroke-width="1.3"/>
<line x1="313.70000000000005" y1="362.6" x2="321.9" y2="362.6" stroke="#000" stroke-width="1.3"/>
<rect x="328.40" y="332.70" width="15.60" height="69.90" fill="#000"/>
<line x1="336.2" y1="311.2" x2="336.2" y2="332.7" stroke="#000" stroke-width="1.3"/>
<line x1="332.2" y1="311.2" x2="340.2" y2="311.2" stroke="#000" stroke-width="1.3"/>
<text x="206.6" y="416.6" font-size="11.5" font-weight="bold" text-anchor="start" fill="#000">Tregs/T</text>
<text x="268.8" y="407.6" font-size="11" font-weight="normal" text-anchor="end" fill="#000" stroke="#000" stroke-width="0.15" transform="rotate(-90 268.8 407.6)">1:1</text>
<text x="286.4" y="407.6" font-size="11" font-weight="normal" text-anchor="end" fill="#000" stroke="#000" stroke-width="0.15" transform="rotate(-90 286.4 407.6)">0.5:1</text>
<text x="305.5" y="407.6" font-size="11" font-weight="normal" text-anchor="end" fill="#000" stroke="#000" stroke-width="0.15" transform="rotate(-90 305.5 407.6)">0.25:1</text>
<text x="324.7" y="407.6" font-size="11" font-weight="normal" text-anchor="end" fill="#000" stroke="#000" stroke-width="0.15" transform="rotate(-90 324.7 407.6)">0.125:1</text>
<text x="342.0" y="407.6" font-size="11" font-weight="normal" text-anchor="end" fill="#000" stroke="#000" stroke-width="0.15" transform="rotate(-90 342.0 407.6)">0:1</text>
<text x="219.6" y="332.0" font-size="12" font-weight="bold" text-anchor="middle" fill="#000" transform="rotate(-90 219.6 332.0)">IL-17 (pg/mL)</text>
<text x="352.3" y="300.5" font-size="17.5" font-weight="bold" text-anchor="start" fill="#000">G</text>
<rect x="419.00" y="291.70" width="12.60" height="5.60" fill="#fff" stroke="#000" stroke-width="1.3"/>
<rect x="418.40" y="304.10" width="13.70" height="6.10" fill="#000"/>
<text x="436.6" y="297.3" font-size="11.5" font-weight="normal" text-anchor="start" fill="#000" stroke="#000" stroke-width="0.15">Control</text>
<text x="436.6" y="311.3" font-size="11.5" font-weight="normal" text-anchor="start" fill="#000" stroke="#000" stroke-width="0.15">ARL67156</text>
<line x1="413.4" y1="298.2" x2="413.4" y2="402.9" stroke="#000" stroke-width="1.3"/>
<line x1="412.8" y1="402.3" x2="520" y2="402.3" stroke="#000" stroke-width="1.3"/>
<line x1="410.3" y1="402.3" x2="413.4" y2="402.3" stroke="#000" stroke-width="1.3"/>
<text x="393.7" y="405.0" font-size="11.5" font-weight="normal" text-anchor="middle" fill="#000" stroke="#000" stroke-width="0.15">0</text>
<line x1="410.3" y1="381.5" x2="413.4" y2="381.5" stroke="#000" stroke-width="1.3"/>
<text x="393.7" y="385.12" font-size="11.5" font-weight="normal" text-anchor="middle" fill="#000" stroke="#000" stroke-width="0.15">200</text>
<line x1="410.3" y1="361.0" x2="413.4" y2="361.0" stroke="#000" stroke-width="1.3"/>
<text x="393.7" y="365.24" font-size="11.5" font-weight="normal" text-anchor="middle" fill="#000" stroke="#000" stroke-width="0.15">400</text>
<line x1="410.3" y1="340.9" x2="413.4" y2="340.9" stroke="#000" stroke-width="1.3"/>
<text x="393.7" y="345.36" font-size="11.5" font-weight="normal" text-anchor="middle" fill="#000" stroke="#000" stroke-width="0.15">600</text>
<line x1="410.3" y1="320.2" x2="413.4" y2="320.2" stroke="#000" stroke-width="1.3"/>
<text x="393.7" y="325.48" font-size="11.5" font-weight="normal" text-anchor="middle" fill="#000" stroke="#000" stroke-width="0.15">800</text>
<line x1="410.3" y1="299.4" x2="413.4" y2="299.4" stroke="#000" stroke-width="1.3"/>
<text x="393.7" y="305.6" font-size="11.5" font-weight="normal" text-anchor="middle" fill="#000" stroke="#000" stroke-width="0.15">1000</text>
<rect x="421.20" y="376.00" width="8.40" height="26.30" fill="#fff" stroke="#000" stroke-width="1.2"/>
<line x1="425.4" y1="369.6" x2="425.4" y2="375.4" stroke="#000" stroke-width="1.3"/>
<line x1="421.4" y1="369.6" x2="429.4" y2="369.6" stroke="#000" stroke-width="1.3"/>
<rect x="430.20" y="356.30" width="10.60" height="46.00" fill="#000"/>
<line x1="435.5" y1="352.8" x2="435.5" y2="356.3" stroke="#000" stroke-width="1.3"/>
<line x1="431.5" y1="352.8" x2="439.5" y2="352.8" stroke="#000" stroke-width="1.3"/>
<rect x="446.50" y="368.60" width="8.20" height="33.70" fill="#fff" stroke="#000" stroke-width="1.2"/>
<line x1="450.6" y1="365.5" x2="450.6" y2="368" stroke="#000" stroke-width="1.3"/>
<line x1="446.6" y1="365.5" x2="454.6" y2="365.5" stroke="#000" stroke-width="1.3"/>
<rect x="455.30" y="351.60" width="10.50" height="50.70" fill="#000"/>
<line x1="460.55" y1="345.4" x2="460.55" y2="351.6" stroke="#000" stroke-width="1.3"/>
<line x1="456.55" y1="345.4" x2="464.55" y2="345.4" stroke="#000" stroke-width="1.3"/>
<rect x="471.10" y="358.60" width="7.50" height="43.70" fill="#fff" stroke="#000" stroke-width="1.2"/>
<line x1="474.85" y1="355" x2="474.85" y2="358" stroke="#000" stroke-width="1.3"/>
<line x1="470.85" y1="355" x2="478.85" y2="355" stroke="#000" stroke-width="1.3"/>
<rect x="479.20" y="332.40" width="10.70" height="69.90" fill="#000"/>
<line x1="484.54999999999995" y1="325.2" x2="484.54999999999995" y2="332.4" stroke="#000" stroke-width="1.3"/>
<line x1="480.54999999999995" y1="325.2" x2="488.54999999999995" y2="325.2" stroke="#000" stroke-width="1.3"/>
<rect x="495.40" y="331.10" width="7.30" height="71.20" fill="#fff" stroke="#000" stroke-width="1.2"/>
<line x1="499.05" y1="321.4" x2="499.05" y2="330.5" stroke="#000" stroke-width="1.3"/>
<line x1="495.05" y1="321.4" x2="503.05" y2="321.4" stroke="#000" stroke-width="1.3"/>
<rect x="503.30" y="327.00" width="11.40" height="75.30" fill="#000"/>
<line x1="509.0" y1="320.4" x2="509.0" y2="327" stroke="#000" stroke-width="1.3"/>
<line x1="505.0" y1="320.4" x2="513.0" y2="320.4" stroke="#000" stroke-width="1.3"/>
<path d="M435.50 344.85L435.50 343.37M436.21 345.37L437.62 344.91M435.94 346.21L436.81 347.40M435.06 346.21L434.19 347.40M434.79 345.37L433.38 344.91" stroke="#000" stroke-width="0.88" stroke-linecap="round" fill="none"/>
<circle cx="435.50" cy="343.57" r="0.60" fill="#000"/>
<circle cx="437.43" cy="344.97" r="0.60" fill="#000"/>
<circle cx="436.69" cy="347.24" r="0.60" fill="#000"/>
<circle cx="434.31" cy="347.24" r="0.60" fill="#000"/>
<circle cx="433.57" cy="344.97" r="0.60" fill="#000"/>
<path d="M461.30 337.95L461.30 336.47M462.01 338.47L463.42 338.01M461.74 339.31L462.61 340.50M460.86 339.31L459.99 340.50M460.59 338.47L459.18 338.01" stroke="#000" stroke-width="0.88" stroke-linecap="round" fill="none"/>
<circle cx="461.30" cy="336.67" r="0.60" fill="#000"/>
<circle cx="463.23" cy="338.07" r="0.60" fill="#000"/>
<circle cx="462.49" cy="340.34" r="0.60" fill="#000"/>
<circle cx="460.11" cy="340.34" r="0.60" fill="#000"/>
<circle cx="459.37" cy="338.07" r="0.60" fill="#000"/>
<path d="M485.20 319.25L485.20 317.77M485.91 319.77L487.32 319.31M485.64 320.61L486.51 321.80M484.76 320.61L483.89 321.80M484.49 319.77L483.08 319.31" stroke="#000" stroke-width="0.88" stroke-linecap="round" fill="none"/>
<circle cx="485.20" cy="317.97" r="0.60" fill="#000"/>
<circle cx="487.13" cy="319.37" r="0.60" fill="#000"/>
<circle cx="486.39" cy="321.64" r="0.60" fill="#000"/>
<circle cx="484.01" cy="321.64" r="0.60" fill="#000"/>
<circle cx="483.27" cy="319.37" r="0.60" fill="#000"/>
<text x="369.8" y="415.8" font-size="11.5" font-weight="bold" text-anchor="start" fill="#000">Tregs/T</text>
<text x="437.3" y="406.7" font-size="11" font-weight="normal" text-anchor="end" fill="#000" stroke="#000" stroke-width="0.15" transform="rotate(-90 437.3 406.7)">1:1</text>
<text x="461.5" y="406.7" font-size="11" font-weight="normal" text-anchor="end" fill="#000" stroke="#000" stroke-width="0.15" transform="rotate(-90 461.5 406.7)">0.5:1</text>
<text x="486.4" y="406.7" font-size="11" font-weight="normal" text-anchor="end" fill="#000" stroke="#000" stroke-width="0.15" transform="rotate(-90 486.4 406.7)">0.25:1</text>
<text x="509.7" y="406.7" font-size="11" font-weight="normal" text-anchor="end" fill="#000" stroke="#000" stroke-width="0.15" transform="rotate(-90 509.7 406.7)">0:1</text>
<text x="373.0" y="355.8" font-size="12" font-weight="bold" text-anchor="middle" fill="#000" transform="rotate(-90 373.0 355.8)">IL-17 (pg/mL)</text>
</svg></body></html>
